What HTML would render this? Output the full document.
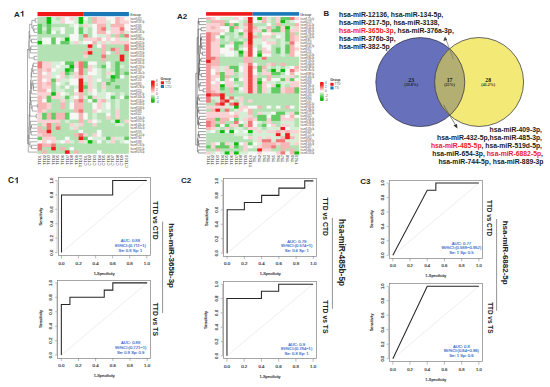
<!DOCTYPE html>
<html><head><meta charset="utf-8"><style>
html,body{margin:0;padding:0;background:#fff;}
svg{display:block;}
</style></head><body>
<svg width="550" height="387" viewBox="0 0 550 387" shape-rendering="auto">
<rect width="550" height="387" fill="#fff"/>
<rect x="37.5" y="12.0" width="45.70" height="4.2" fill="#f01818"/>
<rect x="83.20" y="12.0" width="45.70" height="4.2" fill="#1878b8"/>
<rect x="37.50" y="17.00" width="5.17" height="4.02" fill="#b4e2b4"/>
<rect x="42.07" y="17.00" width="5.17" height="4.02" fill="#b4e2b4"/>
<rect x="46.64" y="17.00" width="5.17" height="4.02" fill="#0fbc0f"/>
<rect x="51.21" y="17.00" width="5.17" height="4.02" fill="#d6eed6"/>
<rect x="55.78" y="17.00" width="5.17" height="4.02" fill="#b4e2b4"/>
<rect x="60.35" y="17.00" width="5.17" height="4.02" fill="#fad2d4"/>
<rect x="64.92" y="17.00" width="5.17" height="4.02" fill="#f6f8f6"/>
<rect x="69.49" y="17.00" width="5.17" height="4.02" fill="#fad2d4"/>
<rect x="74.06" y="17.00" width="5.17" height="4.02" fill="#d6eed6"/>
<rect x="78.63" y="17.00" width="5.17" height="4.02" fill="#0fbc0f"/>
<rect x="83.20" y="17.00" width="5.17" height="4.02" fill="#f6f8f6"/>
<rect x="87.77" y="17.00" width="5.17" height="4.02" fill="#b4e2b4"/>
<rect x="92.34" y="17.00" width="5.17" height="4.02" fill="#f6b6b6"/>
<rect x="96.91" y="17.00" width="5.17" height="4.02" fill="#fad2d4"/>
<rect x="101.48" y="17.00" width="5.17" height="4.02" fill="#fad2d4"/>
<rect x="106.05" y="17.00" width="5.17" height="4.02" fill="#f6f8f6"/>
<rect x="110.62" y="17.00" width="5.17" height="4.02" fill="#f6f8f6"/>
<rect x="115.19" y="17.00" width="5.17" height="4.02" fill="#f6b6b6"/>
<rect x="119.76" y="17.00" width="5.17" height="4.02" fill="#fad2d4"/>
<rect x="124.33" y="17.00" width="4.57" height="4.02" fill="#f6f8f6"/>
<rect x="37.50" y="20.42" width="5.17" height="4.02" fill="#b4e2b4"/>
<rect x="42.07" y="20.42" width="5.17" height="4.02" fill="#b4e2b4"/>
<rect x="46.64" y="20.42" width="5.17" height="4.02" fill="#0fbc0f"/>
<rect x="51.21" y="20.42" width="5.17" height="4.02" fill="#d6eed6"/>
<rect x="55.78" y="20.42" width="5.17" height="4.02" fill="#d6eed6"/>
<rect x="60.35" y="20.42" width="5.17" height="4.02" fill="#fad2d4"/>
<rect x="64.92" y="20.42" width="5.17" height="4.02" fill="#f6f8f6"/>
<rect x="69.49" y="20.42" width="5.17" height="4.02" fill="#f6f8f6"/>
<rect x="74.06" y="20.42" width="5.17" height="4.02" fill="#d6eed6"/>
<rect x="78.63" y="20.42" width="5.17" height="4.02" fill="#0fbc0f"/>
<rect x="83.20" y="20.42" width="5.17" height="4.02" fill="#d6eed6"/>
<rect x="87.77" y="20.42" width="5.17" height="4.02" fill="#b4e2b4"/>
<rect x="92.34" y="20.42" width="5.17" height="4.02" fill="#f6b6b6"/>
<rect x="96.91" y="20.42" width="5.17" height="4.02" fill="#fad2d4"/>
<rect x="101.48" y="20.42" width="5.17" height="4.02" fill="#fad2d4"/>
<rect x="106.05" y="20.42" width="5.17" height="4.02" fill="#d6eed6"/>
<rect x="110.62" y="20.42" width="5.17" height="4.02" fill="#f6f8f6"/>
<rect x="115.19" y="20.42" width="5.17" height="4.02" fill="#f6b6b6"/>
<rect x="119.76" y="20.42" width="5.17" height="4.02" fill="#fad2d4"/>
<rect x="124.33" y="20.42" width="4.57" height="4.02" fill="#fad2d4"/>
<rect x="37.50" y="23.84" width="5.17" height="4.02" fill="#64cc64"/>
<rect x="42.07" y="23.84" width="5.17" height="4.02" fill="#b4e2b4"/>
<rect x="46.64" y="23.84" width="5.17" height="4.02" fill="#64cc64"/>
<rect x="51.21" y="23.84" width="5.17" height="4.02" fill="#b4e2b4"/>
<rect x="55.78" y="23.84" width="5.17" height="4.02" fill="#b4e2b4"/>
<rect x="60.35" y="23.84" width="5.17" height="4.02" fill="#b4e2b4"/>
<rect x="64.92" y="23.84" width="5.17" height="4.02" fill="#b4e2b4"/>
<rect x="69.49" y="23.84" width="5.17" height="4.02" fill="#d6eed6"/>
<rect x="74.06" y="23.84" width="5.17" height="4.02" fill="#f6f8f6"/>
<rect x="78.63" y="23.84" width="5.17" height="4.02" fill="#b4e2b4"/>
<rect x="83.20" y="23.84" width="5.17" height="4.02" fill="#fad2d4"/>
<rect x="87.77" y="23.84" width="5.17" height="4.02" fill="#d6eed6"/>
<rect x="92.34" y="23.84" width="5.17" height="4.02" fill="#f6f8f6"/>
<rect x="96.91" y="23.84" width="5.17" height="4.02" fill="#f6b6b6"/>
<rect x="101.48" y="23.84" width="5.17" height="4.02" fill="#f6b6b6"/>
<rect x="106.05" y="23.84" width="5.17" height="4.02" fill="#d6eed6"/>
<rect x="110.62" y="23.84" width="5.17" height="4.02" fill="#f6b6b6"/>
<rect x="115.19" y="23.84" width="5.17" height="4.02" fill="#f6b6b6"/>
<rect x="119.76" y="23.84" width="5.17" height="4.02" fill="#f6b6b6"/>
<rect x="124.33" y="23.84" width="4.57" height="4.02" fill="#f6f8f6"/>
<rect x="37.50" y="27.26" width="5.17" height="4.02" fill="#64cc64"/>
<rect x="42.07" y="27.26" width="5.17" height="4.02" fill="#d6eed6"/>
<rect x="46.64" y="27.26" width="5.17" height="4.02" fill="#64cc64"/>
<rect x="51.21" y="27.26" width="5.17" height="4.02" fill="#d6eed6"/>
<rect x="55.78" y="27.26" width="5.17" height="4.02" fill="#d6eed6"/>
<rect x="60.35" y="27.26" width="5.17" height="4.02" fill="#f6f8f6"/>
<rect x="64.92" y="27.26" width="5.17" height="4.02" fill="#b4e2b4"/>
<rect x="69.49" y="27.26" width="5.17" height="4.02" fill="#b4e2b4"/>
<rect x="74.06" y="27.26" width="5.17" height="4.02" fill="#f6f8f6"/>
<rect x="78.63" y="27.26" width="5.17" height="4.02" fill="#64cc64"/>
<rect x="83.20" y="27.26" width="5.17" height="4.02" fill="#d6eed6"/>
<rect x="87.77" y="27.26" width="5.17" height="4.02" fill="#b4e2b4"/>
<rect x="92.34" y="27.26" width="5.17" height="4.02" fill="#f6f8f6"/>
<rect x="96.91" y="27.26" width="5.17" height="4.02" fill="#f6b6b6"/>
<rect x="101.48" y="27.26" width="5.17" height="4.02" fill="#f07878"/>
<rect x="106.05" y="27.26" width="5.17" height="4.02" fill="#d6eed6"/>
<rect x="110.62" y="27.26" width="5.17" height="4.02" fill="#fad2d4"/>
<rect x="115.19" y="27.26" width="5.17" height="4.02" fill="#fad2d4"/>
<rect x="119.76" y="27.26" width="5.17" height="4.02" fill="#f07878"/>
<rect x="124.33" y="27.26" width="4.57" height="4.02" fill="#f6f8f6"/>
<rect x="37.50" y="30.68" width="5.17" height="4.02" fill="#64cc64"/>
<rect x="42.07" y="30.68" width="5.17" height="4.02" fill="#b4e2b4"/>
<rect x="46.64" y="30.68" width="5.17" height="4.02" fill="#64cc64"/>
<rect x="51.21" y="30.68" width="5.17" height="4.02" fill="#f6f8f6"/>
<rect x="55.78" y="30.68" width="5.17" height="4.02" fill="#b4e2b4"/>
<rect x="60.35" y="30.68" width="5.17" height="4.02" fill="#f6f8f6"/>
<rect x="64.92" y="30.68" width="5.17" height="4.02" fill="#b4e2b4"/>
<rect x="69.49" y="30.68" width="5.17" height="4.02" fill="#b4e2b4"/>
<rect x="74.06" y="30.68" width="5.17" height="4.02" fill="#f6f8f6"/>
<rect x="78.63" y="30.68" width="5.17" height="4.02" fill="#64cc64"/>
<rect x="83.20" y="30.68" width="5.17" height="4.02" fill="#d6eed6"/>
<rect x="87.77" y="30.68" width="5.17" height="4.02" fill="#b4e2b4"/>
<rect x="92.34" y="30.68" width="5.17" height="4.02" fill="#f6f8f6"/>
<rect x="96.91" y="30.68" width="5.17" height="4.02" fill="#f6b6b6"/>
<rect x="101.48" y="30.68" width="5.17" height="4.02" fill="#f6b6b6"/>
<rect x="106.05" y="30.68" width="5.17" height="4.02" fill="#f6f8f6"/>
<rect x="110.62" y="30.68" width="5.17" height="4.02" fill="#fad2d4"/>
<rect x="115.19" y="30.68" width="5.17" height="4.02" fill="#fad2d4"/>
<rect x="119.76" y="30.68" width="5.17" height="4.02" fill="#f6b6b6"/>
<rect x="124.33" y="30.68" width="4.57" height="4.02" fill="#d6eed6"/>
<rect x="37.50" y="34.10" width="5.17" height="4.02" fill="#b4e2b4"/>
<rect x="42.07" y="34.10" width="5.17" height="4.02" fill="#b4e2b4"/>
<rect x="46.64" y="34.10" width="5.17" height="4.02" fill="#b4e2b4"/>
<rect x="51.21" y="34.10" width="5.17" height="4.02" fill="#b4e2b4"/>
<rect x="55.78" y="34.10" width="5.17" height="4.02" fill="#b4e2b4"/>
<rect x="60.35" y="34.10" width="5.17" height="4.02" fill="#b4e2b4"/>
<rect x="64.92" y="34.10" width="5.17" height="4.02" fill="#b4e2b4"/>
<rect x="69.49" y="34.10" width="5.17" height="4.02" fill="#f6f8f6"/>
<rect x="74.06" y="34.10" width="5.17" height="4.02" fill="#f6f8f6"/>
<rect x="78.63" y="34.10" width="5.17" height="4.02" fill="#b4e2b4"/>
<rect x="83.20" y="34.10" width="5.17" height="4.02" fill="#f07878"/>
<rect x="87.77" y="34.10" width="5.17" height="4.02" fill="#b4e2b4"/>
<rect x="92.34" y="34.10" width="5.17" height="4.02" fill="#f6f8f6"/>
<rect x="96.91" y="34.10" width="5.17" height="4.02" fill="#d6eed6"/>
<rect x="101.48" y="34.10" width="5.17" height="4.02" fill="#d6eed6"/>
<rect x="106.05" y="34.10" width="5.17" height="4.02" fill="#fad2d4"/>
<rect x="110.62" y="34.10" width="5.17" height="4.02" fill="#b4e2b4"/>
<rect x="115.19" y="34.10" width="5.17" height="4.02" fill="#f6b6b6"/>
<rect x="119.76" y="34.10" width="5.17" height="4.02" fill="#96d896"/>
<rect x="124.33" y="34.10" width="4.57" height="4.02" fill="#f07878"/>
<rect x="37.50" y="37.52" width="5.17" height="4.02" fill="#b4e2b4"/>
<rect x="42.07" y="37.52" width="5.17" height="4.02" fill="#f6f8f6"/>
<rect x="46.64" y="37.52" width="5.17" height="4.02" fill="#f6f8f6"/>
<rect x="51.21" y="37.52" width="5.17" height="4.02" fill="#64cc64"/>
<rect x="55.78" y="37.52" width="5.17" height="4.02" fill="#f6f8f6"/>
<rect x="60.35" y="37.52" width="5.17" height="4.02" fill="#d6eed6"/>
<rect x="64.92" y="37.52" width="5.17" height="4.02" fill="#0fbc0f"/>
<rect x="69.49" y="37.52" width="5.17" height="4.02" fill="#f6f8f6"/>
<rect x="74.06" y="37.52" width="5.17" height="4.02" fill="#f6f8f6"/>
<rect x="78.63" y="37.52" width="5.17" height="4.02" fill="#b4e2b4"/>
<rect x="83.20" y="37.52" width="5.17" height="4.02" fill="#fad2d4"/>
<rect x="87.77" y="37.52" width="5.17" height="4.02" fill="#fad2d4"/>
<rect x="92.34" y="37.52" width="5.17" height="4.02" fill="#fad2d4"/>
<rect x="96.91" y="37.52" width="5.17" height="4.02" fill="#f6b6b6"/>
<rect x="101.48" y="37.52" width="5.17" height="4.02" fill="#f6f8f6"/>
<rect x="106.05" y="37.52" width="5.17" height="4.02" fill="#fad2d4"/>
<rect x="110.62" y="37.52" width="5.17" height="4.02" fill="#f6f8f6"/>
<rect x="115.19" y="37.52" width="5.17" height="4.02" fill="#fad2d4"/>
<rect x="119.76" y="37.52" width="5.17" height="4.02" fill="#d6eed6"/>
<rect x="124.33" y="37.52" width="4.57" height="4.02" fill="#d6eed6"/>
<rect x="37.50" y="40.94" width="5.17" height="4.02" fill="#0fbc0f"/>
<rect x="42.07" y="40.94" width="5.17" height="4.02" fill="#f6f8f6"/>
<rect x="46.64" y="40.94" width="5.17" height="4.02" fill="#f6f8f6"/>
<rect x="51.21" y="40.94" width="5.17" height="4.02" fill="#64cc64"/>
<rect x="55.78" y="40.94" width="5.17" height="4.02" fill="#f6f8f6"/>
<rect x="60.35" y="40.94" width="5.17" height="4.02" fill="#64cc64"/>
<rect x="64.92" y="40.94" width="5.17" height="4.02" fill="#64cc64"/>
<rect x="69.49" y="40.94" width="5.17" height="4.02" fill="#d6eed6"/>
<rect x="74.06" y="40.94" width="5.17" height="4.02" fill="#fad2d4"/>
<rect x="78.63" y="40.94" width="5.17" height="4.02" fill="#d6eed6"/>
<rect x="83.20" y="40.94" width="5.17" height="4.02" fill="#f6f8f6"/>
<rect x="87.77" y="40.94" width="5.17" height="4.02" fill="#f6f8f6"/>
<rect x="92.34" y="40.94" width="5.17" height="4.02" fill="#f6b6b6"/>
<rect x="96.91" y="40.94" width="5.17" height="4.02" fill="#d6eed6"/>
<rect x="101.48" y="40.94" width="5.17" height="4.02" fill="#fad2d4"/>
<rect x="106.05" y="40.94" width="5.17" height="4.02" fill="#d6eed6"/>
<rect x="110.62" y="40.94" width="5.17" height="4.02" fill="#fad2d4"/>
<rect x="115.19" y="40.94" width="5.17" height="4.02" fill="#fad2d4"/>
<rect x="119.76" y="40.94" width="5.17" height="4.02" fill="#fad2d4"/>
<rect x="124.33" y="40.94" width="4.57" height="4.02" fill="#fad2d4"/>
<rect x="37.50" y="44.36" width="5.17" height="4.02" fill="#b4e2b4"/>
<rect x="42.07" y="44.36" width="5.17" height="4.02" fill="#b4e2b4"/>
<rect x="46.64" y="44.36" width="5.17" height="4.02" fill="#b4e2b4"/>
<rect x="51.21" y="44.36" width="5.17" height="4.02" fill="#b4e2b4"/>
<rect x="55.78" y="44.36" width="5.17" height="4.02" fill="#b4e2b4"/>
<rect x="60.35" y="44.36" width="5.17" height="4.02" fill="#b4e2b4"/>
<rect x="64.92" y="44.36" width="5.17" height="4.02" fill="#b4e2b4"/>
<rect x="69.49" y="44.36" width="5.17" height="4.02" fill="#b4e2b4"/>
<rect x="74.06" y="44.36" width="5.17" height="4.02" fill="#b4e2b4"/>
<rect x="78.63" y="44.36" width="5.17" height="4.02" fill="#b4e2b4"/>
<rect x="83.20" y="44.36" width="5.17" height="4.02" fill="#b4e2b4"/>
<rect x="87.77" y="44.36" width="5.17" height="4.02" fill="#ec1e1e"/>
<rect x="92.34" y="44.36" width="5.17" height="4.02" fill="#b4e2b4"/>
<rect x="96.91" y="44.36" width="5.17" height="4.02" fill="#f6f8f6"/>
<rect x="101.48" y="44.36" width="5.17" height="4.02" fill="#f6b6b6"/>
<rect x="106.05" y="44.36" width="5.17" height="4.02" fill="#b4e2b4"/>
<rect x="110.62" y="44.36" width="5.17" height="4.02" fill="#b4e2b4"/>
<rect x="115.19" y="44.36" width="5.17" height="4.02" fill="#b4e2b4"/>
<rect x="119.76" y="44.36" width="5.17" height="4.02" fill="#b4e2b4"/>
<rect x="124.33" y="44.36" width="4.57" height="4.02" fill="#f07878"/>
<rect x="37.50" y="47.78" width="5.17" height="4.02" fill="#b4e2b4"/>
<rect x="42.07" y="47.78" width="5.17" height="4.02" fill="#b4e2b4"/>
<rect x="46.64" y="47.78" width="5.17" height="4.02" fill="#b4e2b4"/>
<rect x="51.21" y="47.78" width="5.17" height="4.02" fill="#b4e2b4"/>
<rect x="55.78" y="47.78" width="5.17" height="4.02" fill="#b4e2b4"/>
<rect x="60.35" y="47.78" width="5.17" height="4.02" fill="#b4e2b4"/>
<rect x="64.92" y="47.78" width="5.17" height="4.02" fill="#b4e2b4"/>
<rect x="69.49" y="47.78" width="5.17" height="4.02" fill="#b4e2b4"/>
<rect x="74.06" y="47.78" width="5.17" height="4.02" fill="#b4e2b4"/>
<rect x="78.63" y="47.78" width="5.17" height="4.02" fill="#b4e2b4"/>
<rect x="83.20" y="47.78" width="5.17" height="4.02" fill="#b4e2b4"/>
<rect x="87.77" y="47.78" width="5.17" height="4.02" fill="#f6b6b6"/>
<rect x="92.34" y="47.78" width="5.17" height="4.02" fill="#b4e2b4"/>
<rect x="96.91" y="47.78" width="5.17" height="4.02" fill="#b4e2b4"/>
<rect x="101.48" y="47.78" width="5.17" height="4.02" fill="#f6b6b6"/>
<rect x="106.05" y="47.78" width="5.17" height="4.02" fill="#b4e2b4"/>
<rect x="110.62" y="47.78" width="5.17" height="4.02" fill="#f07878"/>
<rect x="115.19" y="47.78" width="5.17" height="4.02" fill="#f6b6b6"/>
<rect x="119.76" y="47.78" width="5.17" height="4.02" fill="#b4e2b4"/>
<rect x="124.33" y="47.78" width="4.57" height="4.02" fill="#f07878"/>
<rect x="37.50" y="51.20" width="5.17" height="4.02" fill="#b4e2b4"/>
<rect x="42.07" y="51.20" width="5.17" height="4.02" fill="#b4e2b4"/>
<rect x="46.64" y="51.20" width="5.17" height="4.02" fill="#b4e2b4"/>
<rect x="51.21" y="51.20" width="5.17" height="4.02" fill="#b4e2b4"/>
<rect x="55.78" y="51.20" width="5.17" height="4.02" fill="#b4e2b4"/>
<rect x="60.35" y="51.20" width="5.17" height="4.02" fill="#b4e2b4"/>
<rect x="64.92" y="51.20" width="5.17" height="4.02" fill="#b4e2b4"/>
<rect x="69.49" y="51.20" width="5.17" height="4.02" fill="#b4e2b4"/>
<rect x="74.06" y="51.20" width="5.17" height="4.02" fill="#b4e2b4"/>
<rect x="78.63" y="51.20" width="5.17" height="4.02" fill="#b4e2b4"/>
<rect x="83.20" y="51.20" width="5.17" height="4.02" fill="#f6b6b6"/>
<rect x="87.77" y="51.20" width="5.17" height="4.02" fill="#ec1e1e"/>
<rect x="92.34" y="51.20" width="5.17" height="4.02" fill="#b4e2b4"/>
<rect x="96.91" y="51.20" width="5.17" height="4.02" fill="#b4e2b4"/>
<rect x="101.48" y="51.20" width="5.17" height="4.02" fill="#f6b6b6"/>
<rect x="106.05" y="51.20" width="5.17" height="4.02" fill="#f6f8f6"/>
<rect x="110.62" y="51.20" width="5.17" height="4.02" fill="#b4e2b4"/>
<rect x="115.19" y="51.20" width="5.17" height="4.02" fill="#f6b6b6"/>
<rect x="119.76" y="51.20" width="5.17" height="4.02" fill="#b4e2b4"/>
<rect x="124.33" y="51.20" width="4.57" height="4.02" fill="#b4e2b4"/>
<rect x="37.50" y="54.62" width="5.17" height="4.02" fill="#b4e2b4"/>
<rect x="42.07" y="54.62" width="5.17" height="4.02" fill="#b4e2b4"/>
<rect x="46.64" y="54.62" width="5.17" height="4.02" fill="#b4e2b4"/>
<rect x="51.21" y="54.62" width="5.17" height="4.02" fill="#b4e2b4"/>
<rect x="55.78" y="54.62" width="5.17" height="4.02" fill="#b4e2b4"/>
<rect x="60.35" y="54.62" width="5.17" height="4.02" fill="#b4e2b4"/>
<rect x="64.92" y="54.62" width="5.17" height="4.02" fill="#b4e2b4"/>
<rect x="69.49" y="54.62" width="5.17" height="4.02" fill="#b4e2b4"/>
<rect x="74.06" y="54.62" width="5.17" height="4.02" fill="#b4e2b4"/>
<rect x="78.63" y="54.62" width="5.17" height="4.02" fill="#b4e2b4"/>
<rect x="83.20" y="54.62" width="5.17" height="4.02" fill="#fad2d4"/>
<rect x="87.77" y="54.62" width="5.17" height="4.02" fill="#b4e2b4"/>
<rect x="92.34" y="54.62" width="5.17" height="4.02" fill="#b4e2b4"/>
<rect x="96.91" y="54.62" width="5.17" height="4.02" fill="#b4e2b4"/>
<rect x="101.48" y="54.62" width="5.17" height="4.02" fill="#f07878"/>
<rect x="106.05" y="54.62" width="5.17" height="4.02" fill="#b4e2b4"/>
<rect x="110.62" y="54.62" width="5.17" height="4.02" fill="#b4e2b4"/>
<rect x="115.19" y="54.62" width="5.17" height="4.02" fill="#b4e2b4"/>
<rect x="119.76" y="54.62" width="5.17" height="4.02" fill="#ec1e1e"/>
<rect x="124.33" y="54.62" width="4.57" height="4.02" fill="#b4e2b4"/>
<rect x="37.50" y="58.04" width="5.17" height="4.02" fill="#b4e2b4"/>
<rect x="42.07" y="58.04" width="5.17" height="4.02" fill="#b4e2b4"/>
<rect x="46.64" y="58.04" width="5.17" height="4.02" fill="#b4e2b4"/>
<rect x="51.21" y="58.04" width="5.17" height="4.02" fill="#b4e2b4"/>
<rect x="55.78" y="58.04" width="5.17" height="4.02" fill="#b4e2b4"/>
<rect x="60.35" y="58.04" width="5.17" height="4.02" fill="#b4e2b4"/>
<rect x="64.92" y="58.04" width="5.17" height="4.02" fill="#b4e2b4"/>
<rect x="69.49" y="58.04" width="5.17" height="4.02" fill="#b4e2b4"/>
<rect x="74.06" y="58.04" width="5.17" height="4.02" fill="#b4e2b4"/>
<rect x="78.63" y="58.04" width="5.17" height="4.02" fill="#b4e2b4"/>
<rect x="83.20" y="58.04" width="5.17" height="4.02" fill="#b4e2b4"/>
<rect x="87.77" y="58.04" width="5.17" height="4.02" fill="#b4e2b4"/>
<rect x="92.34" y="58.04" width="5.17" height="4.02" fill="#b4e2b4"/>
<rect x="96.91" y="58.04" width="5.17" height="4.02" fill="#b4e2b4"/>
<rect x="101.48" y="58.04" width="5.17" height="4.02" fill="#f6b6b6"/>
<rect x="106.05" y="58.04" width="5.17" height="4.02" fill="#b4e2b4"/>
<rect x="110.62" y="58.04" width="5.17" height="4.02" fill="#b4e2b4"/>
<rect x="115.19" y="58.04" width="5.17" height="4.02" fill="#b4e2b4"/>
<rect x="119.76" y="58.04" width="5.17" height="4.02" fill="#ec1e1e"/>
<rect x="124.33" y="58.04" width="4.57" height="4.02" fill="#b4e2b4"/>
<rect x="37.50" y="61.46" width="5.17" height="4.02" fill="#f07878"/>
<rect x="42.07" y="61.46" width="5.17" height="4.02" fill="#fad2d4"/>
<rect x="46.64" y="61.46" width="5.17" height="4.02" fill="#fad2d4"/>
<rect x="51.21" y="61.46" width="5.17" height="4.02" fill="#d6eed6"/>
<rect x="55.78" y="61.46" width="5.17" height="4.02" fill="#d6eed6"/>
<rect x="60.35" y="61.46" width="5.17" height="4.02" fill="#f6f8f6"/>
<rect x="64.92" y="61.46" width="5.17" height="4.02" fill="#64cc64"/>
<rect x="69.49" y="61.46" width="5.17" height="4.02" fill="#64cc64"/>
<rect x="74.06" y="61.46" width="5.17" height="4.02" fill="#fad2d4"/>
<rect x="78.63" y="61.46" width="5.17" height="4.02" fill="#f07878"/>
<rect x="83.20" y="61.46" width="5.17" height="4.02" fill="#64cc64"/>
<rect x="87.77" y="61.46" width="5.17" height="4.02" fill="#f6f8f6"/>
<rect x="92.34" y="61.46" width="5.17" height="4.02" fill="#f6f8f6"/>
<rect x="96.91" y="61.46" width="5.17" height="4.02" fill="#b4e2b4"/>
<rect x="101.48" y="61.46" width="5.17" height="4.02" fill="#b4e2b4"/>
<rect x="106.05" y="61.46" width="5.17" height="4.02" fill="#f6f8f6"/>
<rect x="110.62" y="61.46" width="5.17" height="4.02" fill="#b4e2b4"/>
<rect x="115.19" y="61.46" width="5.17" height="4.02" fill="#64cc64"/>
<rect x="119.76" y="61.46" width="5.17" height="4.02" fill="#b4e2b4"/>
<rect x="124.33" y="61.46" width="4.57" height="4.02" fill="#b4e2b4"/>
<rect x="37.50" y="64.88" width="5.17" height="4.02" fill="#f07878"/>
<rect x="42.07" y="64.88" width="5.17" height="4.02" fill="#fad2d4"/>
<rect x="46.64" y="64.88" width="5.17" height="4.02" fill="#fad2d4"/>
<rect x="51.21" y="64.88" width="5.17" height="4.02" fill="#d6eed6"/>
<rect x="55.78" y="64.88" width="5.17" height="4.02" fill="#f6f8f6"/>
<rect x="60.35" y="64.88" width="5.17" height="4.02" fill="#d6eed6"/>
<rect x="64.92" y="64.88" width="5.17" height="4.02" fill="#d6eed6"/>
<rect x="69.49" y="64.88" width="5.17" height="4.02" fill="#0fbc0f"/>
<rect x="74.06" y="64.88" width="5.17" height="4.02" fill="#fad2d4"/>
<rect x="78.63" y="64.88" width="5.17" height="4.02" fill="#f07878"/>
<rect x="83.20" y="64.88" width="5.17" height="4.02" fill="#64cc64"/>
<rect x="87.77" y="64.88" width="5.17" height="4.02" fill="#fad2d4"/>
<rect x="92.34" y="64.88" width="5.17" height="4.02" fill="#d6eed6"/>
<rect x="96.91" y="64.88" width="5.17" height="4.02" fill="#b4e2b4"/>
<rect x="101.48" y="64.88" width="5.17" height="4.02" fill="#64cc64"/>
<rect x="106.05" y="64.88" width="5.17" height="4.02" fill="#f6f8f6"/>
<rect x="110.62" y="64.88" width="5.17" height="4.02" fill="#b4e2b4"/>
<rect x="115.19" y="64.88" width="5.17" height="4.02" fill="#64cc64"/>
<rect x="119.76" y="64.88" width="5.17" height="4.02" fill="#d6eed6"/>
<rect x="124.33" y="64.88" width="4.57" height="4.02" fill="#b4e2b4"/>
<rect x="37.50" y="68.30" width="5.17" height="4.02" fill="#f6b6b6"/>
<rect x="42.07" y="68.30" width="5.17" height="4.02" fill="#fad2d4"/>
<rect x="46.64" y="68.30" width="5.17" height="4.02" fill="#f6b6b6"/>
<rect x="51.21" y="68.30" width="5.17" height="4.02" fill="#f6f8f6"/>
<rect x="55.78" y="68.30" width="5.17" height="4.02" fill="#d6eed6"/>
<rect x="60.35" y="68.30" width="5.17" height="4.02" fill="#d6eed6"/>
<rect x="64.92" y="68.30" width="5.17" height="4.02" fill="#0fbc0f"/>
<rect x="69.49" y="68.30" width="5.17" height="4.02" fill="#64cc64"/>
<rect x="74.06" y="68.30" width="5.17" height="4.02" fill="#f6f8f6"/>
<rect x="78.63" y="68.30" width="5.17" height="4.02" fill="#f07878"/>
<rect x="83.20" y="68.30" width="5.17" height="4.02" fill="#b4e2b4"/>
<rect x="87.77" y="68.30" width="5.17" height="4.02" fill="#fad2d4"/>
<rect x="92.34" y="68.30" width="5.17" height="4.02" fill="#f6f8f6"/>
<rect x="96.91" y="68.30" width="5.17" height="4.02" fill="#d6eed6"/>
<rect x="101.48" y="68.30" width="5.17" height="4.02" fill="#b4e2b4"/>
<rect x="106.05" y="68.30" width="5.17" height="4.02" fill="#d6eed6"/>
<rect x="110.62" y="68.30" width="5.17" height="4.02" fill="#b4e2b4"/>
<rect x="115.19" y="68.30" width="5.17" height="4.02" fill="#64cc64"/>
<rect x="119.76" y="68.30" width="5.17" height="4.02" fill="#b4e2b4"/>
<rect x="124.33" y="68.30" width="4.57" height="4.02" fill="#b4e2b4"/>
<rect x="37.50" y="71.72" width="5.17" height="4.02" fill="#f6b6b6"/>
<rect x="42.07" y="71.72" width="5.17" height="4.02" fill="#f6f8f6"/>
<rect x="46.64" y="71.72" width="5.17" height="4.02" fill="#fad2d4"/>
<rect x="51.21" y="71.72" width="5.17" height="4.02" fill="#d6eed6"/>
<rect x="55.78" y="71.72" width="5.17" height="4.02" fill="#d6eed6"/>
<rect x="60.35" y="71.72" width="5.17" height="4.02" fill="#fad2d4"/>
<rect x="64.92" y="71.72" width="5.17" height="4.02" fill="#64cc64"/>
<rect x="69.49" y="71.72" width="5.17" height="4.02" fill="#b4e2b4"/>
<rect x="74.06" y="71.72" width="5.17" height="4.02" fill="#fad2d4"/>
<rect x="78.63" y="71.72" width="5.17" height="4.02" fill="#f07878"/>
<rect x="83.20" y="71.72" width="5.17" height="4.02" fill="#b4e2b4"/>
<rect x="87.77" y="71.72" width="5.17" height="4.02" fill="#f6f8f6"/>
<rect x="92.34" y="71.72" width="5.17" height="4.02" fill="#f6f8f6"/>
<rect x="96.91" y="71.72" width="5.17" height="4.02" fill="#d6eed6"/>
<rect x="101.48" y="71.72" width="5.17" height="4.02" fill="#b4e2b4"/>
<rect x="106.05" y="71.72" width="5.17" height="4.02" fill="#fad2d4"/>
<rect x="110.62" y="71.72" width="5.17" height="4.02" fill="#d6eed6"/>
<rect x="115.19" y="71.72" width="5.17" height="4.02" fill="#64cc64"/>
<rect x="119.76" y="71.72" width="5.17" height="4.02" fill="#b4e2b4"/>
<rect x="124.33" y="71.72" width="4.57" height="4.02" fill="#64cc64"/>
<rect x="37.50" y="75.14" width="5.17" height="4.02" fill="#f6b6b6"/>
<rect x="42.07" y="75.14" width="5.17" height="4.02" fill="#fad2d4"/>
<rect x="46.64" y="75.14" width="5.17" height="4.02" fill="#fad2d4"/>
<rect x="51.21" y="75.14" width="5.17" height="4.02" fill="#d6eed6"/>
<rect x="55.78" y="75.14" width="5.17" height="4.02" fill="#f6f8f6"/>
<rect x="60.35" y="75.14" width="5.17" height="4.02" fill="#fad2d4"/>
<rect x="64.92" y="75.14" width="5.17" height="4.02" fill="#b4e2b4"/>
<rect x="69.49" y="75.14" width="5.17" height="4.02" fill="#d6eed6"/>
<rect x="74.06" y="75.14" width="5.17" height="4.02" fill="#fad2d4"/>
<rect x="78.63" y="75.14" width="5.17" height="4.02" fill="#f6b6b6"/>
<rect x="83.20" y="75.14" width="5.17" height="4.02" fill="#d6eed6"/>
<rect x="87.77" y="75.14" width="5.17" height="4.02" fill="#fad2d4"/>
<rect x="92.34" y="75.14" width="5.17" height="4.02" fill="#d6eed6"/>
<rect x="96.91" y="75.14" width="5.17" height="4.02" fill="#d6eed6"/>
<rect x="101.48" y="75.14" width="5.17" height="4.02" fill="#b4e2b4"/>
<rect x="106.05" y="75.14" width="5.17" height="4.02" fill="#d6eed6"/>
<rect x="110.62" y="75.14" width="5.17" height="4.02" fill="#0fbc0f"/>
<rect x="115.19" y="75.14" width="5.17" height="4.02" fill="#64cc64"/>
<rect x="119.76" y="75.14" width="5.17" height="4.02" fill="#f6f8f6"/>
<rect x="124.33" y="75.14" width="4.57" height="4.02" fill="#b4e2b4"/>
<rect x="37.50" y="78.56" width="5.17" height="4.02" fill="#f6b6b6"/>
<rect x="42.07" y="78.56" width="5.17" height="4.02" fill="#f6f8f6"/>
<rect x="46.64" y="78.56" width="5.17" height="4.02" fill="#fad2d4"/>
<rect x="51.21" y="78.56" width="5.17" height="4.02" fill="#64cc64"/>
<rect x="55.78" y="78.56" width="5.17" height="4.02" fill="#fad2d4"/>
<rect x="60.35" y="78.56" width="5.17" height="4.02" fill="#d6eed6"/>
<rect x="64.92" y="78.56" width="5.17" height="4.02" fill="#d6eed6"/>
<rect x="69.49" y="78.56" width="5.17" height="4.02" fill="#f6f8f6"/>
<rect x="74.06" y="78.56" width="5.17" height="4.02" fill="#f6f8f6"/>
<rect x="78.63" y="78.56" width="5.17" height="4.02" fill="#ec1e1e"/>
<rect x="83.20" y="78.56" width="5.17" height="4.02" fill="#d6eed6"/>
<rect x="87.77" y="78.56" width="5.17" height="4.02" fill="#fad2d4"/>
<rect x="92.34" y="78.56" width="5.17" height="4.02" fill="#d6eed6"/>
<rect x="96.91" y="78.56" width="5.17" height="4.02" fill="#f6f8f6"/>
<rect x="101.48" y="78.56" width="5.17" height="4.02" fill="#b4e2b4"/>
<rect x="106.05" y="78.56" width="5.17" height="4.02" fill="#b4e2b4"/>
<rect x="110.62" y="78.56" width="5.17" height="4.02" fill="#64cc64"/>
<rect x="115.19" y="78.56" width="5.17" height="4.02" fill="#b4e2b4"/>
<rect x="119.76" y="78.56" width="5.17" height="4.02" fill="#b4e2b4"/>
<rect x="124.33" y="78.56" width="4.57" height="4.02" fill="#b4e2b4"/>
<rect x="37.50" y="81.98" width="5.17" height="4.02" fill="#f6b6b6"/>
<rect x="42.07" y="81.98" width="5.17" height="4.02" fill="#fad2d4"/>
<rect x="46.64" y="81.98" width="5.17" height="4.02" fill="#f6b6b6"/>
<rect x="51.21" y="81.98" width="5.17" height="4.02" fill="#96d896"/>
<rect x="55.78" y="81.98" width="5.17" height="4.02" fill="#f6f8f6"/>
<rect x="60.35" y="81.98" width="5.17" height="4.02" fill="#d6eed6"/>
<rect x="64.92" y="81.98" width="5.17" height="4.02" fill="#b4e2b4"/>
<rect x="69.49" y="81.98" width="5.17" height="4.02" fill="#f6f8f6"/>
<rect x="74.06" y="81.98" width="5.17" height="4.02" fill="#f6f8f6"/>
<rect x="78.63" y="81.98" width="5.17" height="4.02" fill="#ec1e1e"/>
<rect x="83.20" y="81.98" width="5.17" height="4.02" fill="#b4e2b4"/>
<rect x="87.77" y="81.98" width="5.17" height="4.02" fill="#fad2d4"/>
<rect x="92.34" y="81.98" width="5.17" height="4.02" fill="#d6eed6"/>
<rect x="96.91" y="81.98" width="5.17" height="4.02" fill="#b4e2b4"/>
<rect x="101.48" y="81.98" width="5.17" height="4.02" fill="#fad2d4"/>
<rect x="106.05" y="81.98" width="5.17" height="4.02" fill="#64cc64"/>
<rect x="110.62" y="81.98" width="5.17" height="4.02" fill="#b4e2b4"/>
<rect x="115.19" y="81.98" width="5.17" height="4.02" fill="#b4e2b4"/>
<rect x="119.76" y="81.98" width="5.17" height="4.02" fill="#b4e2b4"/>
<rect x="124.33" y="81.98" width="4.57" height="4.02" fill="#b4e2b4"/>
<rect x="37.50" y="85.40" width="5.17" height="4.02" fill="#f6b6b6"/>
<rect x="42.07" y="85.40" width="5.17" height="4.02" fill="#fad2d4"/>
<rect x="46.64" y="85.40" width="5.17" height="4.02" fill="#fad2d4"/>
<rect x="51.21" y="85.40" width="5.17" height="4.02" fill="#96d896"/>
<rect x="55.78" y="85.40" width="5.17" height="4.02" fill="#d6eed6"/>
<rect x="60.35" y="85.40" width="5.17" height="4.02" fill="#b4e2b4"/>
<rect x="64.92" y="85.40" width="5.17" height="4.02" fill="#f6f8f6"/>
<rect x="69.49" y="85.40" width="5.17" height="4.02" fill="#b4e2b4"/>
<rect x="74.06" y="85.40" width="5.17" height="4.02" fill="#d6eed6"/>
<rect x="78.63" y="85.40" width="5.17" height="4.02" fill="#ec1e1e"/>
<rect x="83.20" y="85.40" width="5.17" height="4.02" fill="#64cc64"/>
<rect x="87.77" y="85.40" width="5.17" height="4.02" fill="#fad2d4"/>
<rect x="92.34" y="85.40" width="5.17" height="4.02" fill="#d6eed6"/>
<rect x="96.91" y="85.40" width="5.17" height="4.02" fill="#b4e2b4"/>
<rect x="101.48" y="85.40" width="5.17" height="4.02" fill="#fad2d4"/>
<rect x="106.05" y="85.40" width="5.17" height="4.02" fill="#b4e2b4"/>
<rect x="110.62" y="85.40" width="5.17" height="4.02" fill="#b4e2b4"/>
<rect x="115.19" y="85.40" width="5.17" height="4.02" fill="#64cc64"/>
<rect x="119.76" y="85.40" width="5.17" height="4.02" fill="#b4e2b4"/>
<rect x="124.33" y="85.40" width="4.57" height="4.02" fill="#b4e2b4"/>
<rect x="37.50" y="88.82" width="5.17" height="4.02" fill="#f6b6b6"/>
<rect x="42.07" y="88.82" width="5.17" height="4.02" fill="#f6b6b6"/>
<rect x="46.64" y="88.82" width="5.17" height="4.02" fill="#f6f8f6"/>
<rect x="51.21" y="88.82" width="5.17" height="4.02" fill="#96d896"/>
<rect x="55.78" y="88.82" width="5.17" height="4.02" fill="#d6eed6"/>
<rect x="60.35" y="88.82" width="5.17" height="4.02" fill="#d6eed6"/>
<rect x="64.92" y="88.82" width="5.17" height="4.02" fill="#b4e2b4"/>
<rect x="69.49" y="88.82" width="5.17" height="4.02" fill="#b4e2b4"/>
<rect x="74.06" y="88.82" width="5.17" height="4.02" fill="#f6f8f6"/>
<rect x="78.63" y="88.82" width="5.17" height="4.02" fill="#ec1e1e"/>
<rect x="83.20" y="88.82" width="5.17" height="4.02" fill="#b4e2b4"/>
<rect x="87.77" y="88.82" width="5.17" height="4.02" fill="#fad2d4"/>
<rect x="92.34" y="88.82" width="5.17" height="4.02" fill="#f6f8f6"/>
<rect x="96.91" y="88.82" width="5.17" height="4.02" fill="#b4e2b4"/>
<rect x="101.48" y="88.82" width="5.17" height="4.02" fill="#d6eed6"/>
<rect x="106.05" y="88.82" width="5.17" height="4.02" fill="#b4e2b4"/>
<rect x="110.62" y="88.82" width="5.17" height="4.02" fill="#b4e2b4"/>
<rect x="115.19" y="88.82" width="5.17" height="4.02" fill="#b4e2b4"/>
<rect x="119.76" y="88.82" width="5.17" height="4.02" fill="#b4e2b4"/>
<rect x="124.33" y="88.82" width="4.57" height="4.02" fill="#b4e2b4"/>
<rect x="37.50" y="92.24" width="5.17" height="4.02" fill="#fad2d4"/>
<rect x="42.07" y="92.24" width="5.17" height="4.02" fill="#fad2d4"/>
<rect x="46.64" y="92.24" width="5.17" height="4.02" fill="#fad2d4"/>
<rect x="51.21" y="92.24" width="5.17" height="4.02" fill="#0fbc0f"/>
<rect x="55.78" y="92.24" width="5.17" height="4.02" fill="#fad2d4"/>
<rect x="60.35" y="92.24" width="5.17" height="4.02" fill="#f6f8f6"/>
<rect x="64.92" y="92.24" width="5.17" height="4.02" fill="#d6eed6"/>
<rect x="69.49" y="92.24" width="5.17" height="4.02" fill="#b4e2b4"/>
<rect x="74.06" y="92.24" width="5.17" height="4.02" fill="#fad2d4"/>
<rect x="78.63" y="92.24" width="5.17" height="4.02" fill="#f6b6b6"/>
<rect x="83.20" y="92.24" width="5.17" height="4.02" fill="#b4e2b4"/>
<rect x="87.77" y="92.24" width="5.17" height="4.02" fill="#d6eed6"/>
<rect x="92.34" y="92.24" width="5.17" height="4.02" fill="#f6f8f6"/>
<rect x="96.91" y="92.24" width="5.17" height="4.02" fill="#d6eed6"/>
<rect x="101.48" y="92.24" width="5.17" height="4.02" fill="#d6eed6"/>
<rect x="106.05" y="92.24" width="5.17" height="4.02" fill="#f6f8f6"/>
<rect x="110.62" y="92.24" width="5.17" height="4.02" fill="#d6eed6"/>
<rect x="115.19" y="92.24" width="5.17" height="4.02" fill="#b4e2b4"/>
<rect x="119.76" y="92.24" width="5.17" height="4.02" fill="#d6eed6"/>
<rect x="124.33" y="92.24" width="4.57" height="4.02" fill="#b4e2b4"/>
<rect x="37.50" y="95.66" width="5.17" height="4.02" fill="#f6b6b6"/>
<rect x="42.07" y="95.66" width="5.17" height="4.02" fill="#fad2d4"/>
<rect x="46.64" y="95.66" width="5.17" height="4.02" fill="#64cc64"/>
<rect x="51.21" y="95.66" width="5.17" height="4.02" fill="#fad2d4"/>
<rect x="55.78" y="95.66" width="5.17" height="4.02" fill="#fad2d4"/>
<rect x="60.35" y="95.66" width="5.17" height="4.02" fill="#d6eed6"/>
<rect x="64.92" y="95.66" width="5.17" height="4.02" fill="#64cc64"/>
<rect x="69.49" y="95.66" width="5.17" height="4.02" fill="#d6eed6"/>
<rect x="74.06" y="95.66" width="5.17" height="4.02" fill="#f6f8f6"/>
<rect x="78.63" y="95.66" width="5.17" height="4.02" fill="#f6b6b6"/>
<rect x="83.20" y="95.66" width="5.17" height="4.02" fill="#d6eed6"/>
<rect x="87.77" y="95.66" width="5.17" height="4.02" fill="#64cc64"/>
<rect x="92.34" y="95.66" width="5.17" height="4.02" fill="#fad2d4"/>
<rect x="96.91" y="95.66" width="5.17" height="4.02" fill="#d6eed6"/>
<rect x="101.48" y="95.66" width="5.17" height="4.02" fill="#d6eed6"/>
<rect x="106.05" y="95.66" width="5.17" height="4.02" fill="#f6f8f6"/>
<rect x="110.62" y="95.66" width="5.17" height="4.02" fill="#64cc64"/>
<rect x="115.19" y="95.66" width="5.17" height="4.02" fill="#b4e2b4"/>
<rect x="119.76" y="95.66" width="5.17" height="4.02" fill="#f6f8f6"/>
<rect x="124.33" y="95.66" width="4.57" height="4.02" fill="#64cc64"/>
<rect x="37.50" y="99.08" width="5.17" height="4.02" fill="#f6b6b6"/>
<rect x="42.07" y="99.08" width="5.17" height="4.02" fill="#f6f8f6"/>
<rect x="46.64" y="99.08" width="5.17" height="4.02" fill="#64cc64"/>
<rect x="51.21" y="99.08" width="5.17" height="4.02" fill="#b4e2b4"/>
<rect x="55.78" y="99.08" width="5.17" height="4.02" fill="#b4e2b4"/>
<rect x="60.35" y="99.08" width="5.17" height="4.02" fill="#fad2d4"/>
<rect x="64.92" y="99.08" width="5.17" height="4.02" fill="#b4e2b4"/>
<rect x="69.49" y="99.08" width="5.17" height="4.02" fill="#d6eed6"/>
<rect x="74.06" y="99.08" width="5.17" height="4.02" fill="#f6b6b6"/>
<rect x="78.63" y="99.08" width="5.17" height="4.02" fill="#f07878"/>
<rect x="83.20" y="99.08" width="5.17" height="4.02" fill="#b4e2b4"/>
<rect x="87.77" y="99.08" width="5.17" height="4.02" fill="#f6f8f6"/>
<rect x="92.34" y="99.08" width="5.17" height="4.02" fill="#64cc64"/>
<rect x="96.91" y="99.08" width="5.17" height="4.02" fill="#fad2d4"/>
<rect x="101.48" y="99.08" width="5.17" height="4.02" fill="#f6b6b6"/>
<rect x="106.05" y="99.08" width="5.17" height="4.02" fill="#d6eed6"/>
<rect x="110.62" y="99.08" width="5.17" height="4.02" fill="#b4e2b4"/>
<rect x="115.19" y="99.08" width="5.17" height="4.02" fill="#d6eed6"/>
<rect x="119.76" y="99.08" width="5.17" height="4.02" fill="#b4e2b4"/>
<rect x="124.33" y="99.08" width="4.57" height="4.02" fill="#b4e2b4"/>
<rect x="37.50" y="102.50" width="5.17" height="4.02" fill="#f6b6b6"/>
<rect x="42.07" y="102.50" width="5.17" height="4.02" fill="#f6b6b6"/>
<rect x="46.64" y="102.50" width="5.17" height="4.02" fill="#fad2d4"/>
<rect x="51.21" y="102.50" width="5.17" height="4.02" fill="#b4e2b4"/>
<rect x="55.78" y="102.50" width="5.17" height="4.02" fill="#b4e2b4"/>
<rect x="60.35" y="102.50" width="5.17" height="4.02" fill="#f6b6b6"/>
<rect x="64.92" y="102.50" width="5.17" height="4.02" fill="#b4e2b4"/>
<rect x="69.49" y="102.50" width="5.17" height="4.02" fill="#f6f8f6"/>
<rect x="74.06" y="102.50" width="5.17" height="4.02" fill="#f6b6b6"/>
<rect x="78.63" y="102.50" width="5.17" height="4.02" fill="#f6b6b6"/>
<rect x="83.20" y="102.50" width="5.17" height="4.02" fill="#b4e2b4"/>
<rect x="87.77" y="102.50" width="5.17" height="4.02" fill="#b4e2b4"/>
<rect x="92.34" y="102.50" width="5.17" height="4.02" fill="#f6f8f6"/>
<rect x="96.91" y="102.50" width="5.17" height="4.02" fill="#fad2d4"/>
<rect x="101.48" y="102.50" width="5.17" height="4.02" fill="#d6eed6"/>
<rect x="106.05" y="102.50" width="5.17" height="4.02" fill="#f6f8f6"/>
<rect x="110.62" y="102.50" width="5.17" height="4.02" fill="#b4e2b4"/>
<rect x="115.19" y="102.50" width="5.17" height="4.02" fill="#d6eed6"/>
<rect x="119.76" y="102.50" width="5.17" height="4.02" fill="#b4e2b4"/>
<rect x="124.33" y="102.50" width="4.57" height="4.02" fill="#b4e2b4"/>
<rect x="37.50" y="105.92" width="5.17" height="4.02" fill="#f6b6b6"/>
<rect x="42.07" y="105.92" width="5.17" height="4.02" fill="#f6b6b6"/>
<rect x="46.64" y="105.92" width="5.17" height="4.02" fill="#fad2d4"/>
<rect x="51.21" y="105.92" width="5.17" height="4.02" fill="#b4e2b4"/>
<rect x="55.78" y="105.92" width="5.17" height="4.02" fill="#b4e2b4"/>
<rect x="60.35" y="105.92" width="5.17" height="4.02" fill="#f6b6b6"/>
<rect x="64.92" y="105.92" width="5.17" height="4.02" fill="#b4e2b4"/>
<rect x="69.49" y="105.92" width="5.17" height="4.02" fill="#f6f8f6"/>
<rect x="74.06" y="105.92" width="5.17" height="4.02" fill="#f6b6b6"/>
<rect x="78.63" y="105.92" width="5.17" height="4.02" fill="#f6b6b6"/>
<rect x="83.20" y="105.92" width="5.17" height="4.02" fill="#b4e2b4"/>
<rect x="87.77" y="105.92" width="5.17" height="4.02" fill="#b4e2b4"/>
<rect x="92.34" y="105.92" width="5.17" height="4.02" fill="#f6f8f6"/>
<rect x="96.91" y="105.92" width="5.17" height="4.02" fill="#fad2d4"/>
<rect x="101.48" y="105.92" width="5.17" height="4.02" fill="#d6eed6"/>
<rect x="106.05" y="105.92" width="5.17" height="4.02" fill="#f6f8f6"/>
<rect x="110.62" y="105.92" width="5.17" height="4.02" fill="#b4e2b4"/>
<rect x="115.19" y="105.92" width="5.17" height="4.02" fill="#d6eed6"/>
<rect x="119.76" y="105.92" width="5.17" height="4.02" fill="#b4e2b4"/>
<rect x="124.33" y="105.92" width="4.57" height="4.02" fill="#b4e2b4"/>
<rect x="37.50" y="109.34" width="5.17" height="4.02" fill="#f6b6b6"/>
<rect x="42.07" y="109.34" width="5.17" height="4.02" fill="#fad2d4"/>
<rect x="46.64" y="109.34" width="5.17" height="4.02" fill="#b4e2b4"/>
<rect x="51.21" y="109.34" width="5.17" height="4.02" fill="#b4e2b4"/>
<rect x="55.78" y="109.34" width="5.17" height="4.02" fill="#b4e2b4"/>
<rect x="60.35" y="109.34" width="5.17" height="4.02" fill="#b4e2b4"/>
<rect x="64.92" y="109.34" width="5.17" height="4.02" fill="#b4e2b4"/>
<rect x="69.49" y="109.34" width="5.17" height="4.02" fill="#b4e2b4"/>
<rect x="74.06" y="109.34" width="5.17" height="4.02" fill="#f6b6b6"/>
<rect x="78.63" y="109.34" width="5.17" height="4.02" fill="#f07878"/>
<rect x="83.20" y="109.34" width="5.17" height="4.02" fill="#b4e2b4"/>
<rect x="87.77" y="109.34" width="5.17" height="4.02" fill="#b4e2b4"/>
<rect x="92.34" y="109.34" width="5.17" height="4.02" fill="#fad2d4"/>
<rect x="96.91" y="109.34" width="5.17" height="4.02" fill="#f6f8f6"/>
<rect x="101.48" y="109.34" width="5.17" height="4.02" fill="#d6eed6"/>
<rect x="106.05" y="109.34" width="5.17" height="4.02" fill="#d6eed6"/>
<rect x="110.62" y="109.34" width="5.17" height="4.02" fill="#b4e2b4"/>
<rect x="115.19" y="109.34" width="5.17" height="4.02" fill="#fad2d4"/>
<rect x="119.76" y="109.34" width="5.17" height="4.02" fill="#b4e2b4"/>
<rect x="124.33" y="109.34" width="4.57" height="4.02" fill="#b4e2b4"/>
<rect x="37.50" y="112.76" width="5.17" height="4.02" fill="#fad2d4"/>
<rect x="42.07" y="112.76" width="5.17" height="4.02" fill="#64cc64"/>
<rect x="46.64" y="112.76" width="5.17" height="4.02" fill="#f6b6b6"/>
<rect x="51.21" y="112.76" width="5.17" height="4.02" fill="#64cc64"/>
<rect x="55.78" y="112.76" width="5.17" height="4.02" fill="#f6b6b6"/>
<rect x="60.35" y="112.76" width="5.17" height="4.02" fill="#f6b6b6"/>
<rect x="64.92" y="112.76" width="5.17" height="4.02" fill="#64cc64"/>
<rect x="69.49" y="112.76" width="5.17" height="4.02" fill="#f6f8f6"/>
<rect x="74.06" y="112.76" width="5.17" height="4.02" fill="#f6f8f6"/>
<rect x="78.63" y="112.76" width="5.17" height="4.02" fill="#f6b6b6"/>
<rect x="83.20" y="112.76" width="5.17" height="4.02" fill="#f6f8f6"/>
<rect x="87.77" y="112.76" width="5.17" height="4.02" fill="#b4e2b4"/>
<rect x="92.34" y="112.76" width="5.17" height="4.02" fill="#d6eed6"/>
<rect x="96.91" y="112.76" width="5.17" height="4.02" fill="#b4e2b4"/>
<rect x="101.48" y="112.76" width="5.17" height="4.02" fill="#b4e2b4"/>
<rect x="106.05" y="112.76" width="5.17" height="4.02" fill="#f6f8f6"/>
<rect x="110.62" y="112.76" width="5.17" height="4.02" fill="#b4e2b4"/>
<rect x="115.19" y="112.76" width="5.17" height="4.02" fill="#fad2d4"/>
<rect x="119.76" y="112.76" width="5.17" height="4.02" fill="#b4e2b4"/>
<rect x="124.33" y="112.76" width="4.57" height="4.02" fill="#b4e2b4"/>
<rect x="37.50" y="116.18" width="5.17" height="4.02" fill="#fad2d4"/>
<rect x="42.07" y="116.18" width="5.17" height="4.02" fill="#64cc64"/>
<rect x="46.64" y="116.18" width="5.17" height="4.02" fill="#f6b6b6"/>
<rect x="51.21" y="116.18" width="5.17" height="4.02" fill="#64cc64"/>
<rect x="55.78" y="116.18" width="5.17" height="4.02" fill="#f6b6b6"/>
<rect x="60.35" y="116.18" width="5.17" height="4.02" fill="#f6b6b6"/>
<rect x="64.92" y="116.18" width="5.17" height="4.02" fill="#64cc64"/>
<rect x="69.49" y="116.18" width="5.17" height="4.02" fill="#f6f8f6"/>
<rect x="74.06" y="116.18" width="5.17" height="4.02" fill="#f6f8f6"/>
<rect x="78.63" y="116.18" width="5.17" height="4.02" fill="#f6b6b6"/>
<rect x="83.20" y="116.18" width="5.17" height="4.02" fill="#f6f8f6"/>
<rect x="87.77" y="116.18" width="5.17" height="4.02" fill="#b4e2b4"/>
<rect x="92.34" y="116.18" width="5.17" height="4.02" fill="#d6eed6"/>
<rect x="96.91" y="116.18" width="5.17" height="4.02" fill="#b4e2b4"/>
<rect x="101.48" y="116.18" width="5.17" height="4.02" fill="#b4e2b4"/>
<rect x="106.05" y="116.18" width="5.17" height="4.02" fill="#fad2d4"/>
<rect x="110.62" y="116.18" width="5.17" height="4.02" fill="#b4e2b4"/>
<rect x="115.19" y="116.18" width="5.17" height="4.02" fill="#fad2d4"/>
<rect x="119.76" y="116.18" width="5.17" height="4.02" fill="#b4e2b4"/>
<rect x="124.33" y="116.18" width="4.57" height="4.02" fill="#b4e2b4"/>
<rect x="37.50" y="119.60" width="5.17" height="4.02" fill="#fad2d4"/>
<rect x="42.07" y="119.60" width="5.17" height="4.02" fill="#fad2d4"/>
<rect x="46.64" y="119.60" width="5.17" height="4.02" fill="#fad2d4"/>
<rect x="51.21" y="119.60" width="5.17" height="4.02" fill="#fad2d4"/>
<rect x="55.78" y="119.60" width="5.17" height="4.02" fill="#fad2d4"/>
<rect x="60.35" y="119.60" width="5.17" height="4.02" fill="#b4e2b4"/>
<rect x="64.92" y="119.60" width="5.17" height="4.02" fill="#d6eed6"/>
<rect x="69.49" y="119.60" width="5.17" height="4.02" fill="#b4e2b4"/>
<rect x="74.06" y="119.60" width="5.17" height="4.02" fill="#b4e2b4"/>
<rect x="78.63" y="119.60" width="5.17" height="4.02" fill="#f6b6b6"/>
<rect x="83.20" y="119.60" width="5.17" height="4.02" fill="#b4e2b4"/>
<rect x="87.77" y="119.60" width="5.17" height="4.02" fill="#fad2d4"/>
<rect x="92.34" y="119.60" width="5.17" height="4.02" fill="#f6f8f6"/>
<rect x="96.91" y="119.60" width="5.17" height="4.02" fill="#d6eed6"/>
<rect x="101.48" y="119.60" width="5.17" height="4.02" fill="#b4e2b4"/>
<rect x="106.05" y="119.60" width="5.17" height="4.02" fill="#b4e2b4"/>
<rect x="110.62" y="119.60" width="5.17" height="4.02" fill="#d6eed6"/>
<rect x="115.19" y="119.60" width="5.17" height="4.02" fill="#0fbc0f"/>
<rect x="119.76" y="119.60" width="5.17" height="4.02" fill="#b4e2b4"/>
<rect x="124.33" y="119.60" width="4.57" height="4.02" fill="#fad2d4"/>
<rect x="37.50" y="123.02" width="5.17" height="4.02" fill="#b4e2b4"/>
<rect x="42.07" y="123.02" width="5.17" height="4.02" fill="#fad2d4"/>
<rect x="46.64" y="123.02" width="5.17" height="4.02" fill="#f07878"/>
<rect x="51.21" y="123.02" width="5.17" height="4.02" fill="#b4e2b4"/>
<rect x="55.78" y="123.02" width="5.17" height="4.02" fill="#f6b6b6"/>
<rect x="60.35" y="123.02" width="5.17" height="4.02" fill="#b4e2b4"/>
<rect x="64.92" y="123.02" width="5.17" height="4.02" fill="#b4e2b4"/>
<rect x="69.49" y="123.02" width="5.17" height="4.02" fill="#fad2d4"/>
<rect x="74.06" y="123.02" width="5.17" height="4.02" fill="#d6eed6"/>
<rect x="78.63" y="123.02" width="5.17" height="4.02" fill="#fad2d4"/>
<rect x="83.20" y="123.02" width="5.17" height="4.02" fill="#b4e2b4"/>
<rect x="87.77" y="123.02" width="5.17" height="4.02" fill="#b4e2b4"/>
<rect x="92.34" y="123.02" width="5.17" height="4.02" fill="#fad2d4"/>
<rect x="96.91" y="123.02" width="5.17" height="4.02" fill="#b4e2b4"/>
<rect x="101.48" y="123.02" width="5.17" height="4.02" fill="#b4e2b4"/>
<rect x="106.05" y="123.02" width="5.17" height="4.02" fill="#b4e2b4"/>
<rect x="110.62" y="123.02" width="5.17" height="4.02" fill="#b4e2b4"/>
<rect x="115.19" y="123.02" width="5.17" height="4.02" fill="#d6eed6"/>
<rect x="119.76" y="123.02" width="5.17" height="4.02" fill="#d6eed6"/>
<rect x="124.33" y="123.02" width="4.57" height="4.02" fill="#b4e2b4"/>
<rect x="37.50" y="126.44" width="5.17" height="4.02" fill="#f6b6b6"/>
<rect x="42.07" y="126.44" width="5.17" height="4.02" fill="#b4e2b4"/>
<rect x="46.64" y="126.44" width="5.17" height="4.02" fill="#f07878"/>
<rect x="51.21" y="126.44" width="5.17" height="4.02" fill="#b4e2b4"/>
<rect x="55.78" y="126.44" width="5.17" height="4.02" fill="#f07878"/>
<rect x="60.35" y="126.44" width="5.17" height="4.02" fill="#b4e2b4"/>
<rect x="64.92" y="126.44" width="5.17" height="4.02" fill="#b4e2b4"/>
<rect x="69.49" y="126.44" width="5.17" height="4.02" fill="#d6eed6"/>
<rect x="74.06" y="126.44" width="5.17" height="4.02" fill="#fad2d4"/>
<rect x="78.63" y="126.44" width="5.17" height="4.02" fill="#b4e2b4"/>
<rect x="83.20" y="126.44" width="5.17" height="4.02" fill="#b4e2b4"/>
<rect x="87.77" y="126.44" width="5.17" height="4.02" fill="#b4e2b4"/>
<rect x="92.34" y="126.44" width="5.17" height="4.02" fill="#b4e2b4"/>
<rect x="96.91" y="126.44" width="5.17" height="4.02" fill="#b4e2b4"/>
<rect x="101.48" y="126.44" width="5.17" height="4.02" fill="#b4e2b4"/>
<rect x="106.05" y="126.44" width="5.17" height="4.02" fill="#b4e2b4"/>
<rect x="110.62" y="126.44" width="5.17" height="4.02" fill="#b4e2b4"/>
<rect x="115.19" y="126.44" width="5.17" height="4.02" fill="#b4e2b4"/>
<rect x="119.76" y="126.44" width="5.17" height="4.02" fill="#b4e2b4"/>
<rect x="124.33" y="126.44" width="4.57" height="4.02" fill="#b4e2b4"/>
<rect x="37.50" y="129.86" width="5.17" height="4.02" fill="#f6b6b6"/>
<rect x="42.07" y="129.86" width="5.17" height="4.02" fill="#f6b6b6"/>
<rect x="46.64" y="129.86" width="5.17" height="4.02" fill="#ec1e1e"/>
<rect x="51.21" y="129.86" width="5.17" height="4.02" fill="#b4e2b4"/>
<rect x="55.78" y="129.86" width="5.17" height="4.02" fill="#b4e2b4"/>
<rect x="60.35" y="129.86" width="5.17" height="4.02" fill="#b4e2b4"/>
<rect x="64.92" y="129.86" width="5.17" height="4.02" fill="#b4e2b4"/>
<rect x="69.49" y="129.86" width="5.17" height="4.02" fill="#b4e2b4"/>
<rect x="74.06" y="129.86" width="5.17" height="4.02" fill="#b4e2b4"/>
<rect x="78.63" y="129.86" width="5.17" height="4.02" fill="#f6f8f6"/>
<rect x="83.20" y="129.86" width="5.17" height="4.02" fill="#b4e2b4"/>
<rect x="87.77" y="129.86" width="5.17" height="4.02" fill="#b4e2b4"/>
<rect x="92.34" y="129.86" width="5.17" height="4.02" fill="#b4e2b4"/>
<rect x="96.91" y="129.86" width="5.17" height="4.02" fill="#f6f8f6"/>
<rect x="101.48" y="129.86" width="5.17" height="4.02" fill="#b4e2b4"/>
<rect x="106.05" y="129.86" width="5.17" height="4.02" fill="#b4e2b4"/>
<rect x="110.62" y="129.86" width="5.17" height="4.02" fill="#b4e2b4"/>
<rect x="115.19" y="129.86" width="5.17" height="4.02" fill="#b4e2b4"/>
<rect x="119.76" y="129.86" width="5.17" height="4.02" fill="#b4e2b4"/>
<rect x="124.33" y="129.86" width="4.57" height="4.02" fill="#b4e2b4"/>
<rect x="37.50" y="133.28" width="5.17" height="4.02" fill="#fad2d4"/>
<rect x="42.07" y="133.28" width="5.17" height="4.02" fill="#f6b6b6"/>
<rect x="46.64" y="133.28" width="5.17" height="4.02" fill="#f6b6b6"/>
<rect x="51.21" y="133.28" width="5.17" height="4.02" fill="#b4e2b4"/>
<rect x="55.78" y="133.28" width="5.17" height="4.02" fill="#b4e2b4"/>
<rect x="60.35" y="133.28" width="5.17" height="4.02" fill="#b4e2b4"/>
<rect x="64.92" y="133.28" width="5.17" height="4.02" fill="#b4e2b4"/>
<rect x="69.49" y="133.28" width="5.17" height="4.02" fill="#b4e2b4"/>
<rect x="74.06" y="133.28" width="5.17" height="4.02" fill="#f6b6b6"/>
<rect x="78.63" y="133.28" width="5.17" height="4.02" fill="#f07878"/>
<rect x="83.20" y="133.28" width="5.17" height="4.02" fill="#fad2d4"/>
<rect x="87.77" y="133.28" width="5.17" height="4.02" fill="#b4e2b4"/>
<rect x="92.34" y="133.28" width="5.17" height="4.02" fill="#fad2d4"/>
<rect x="96.91" y="133.28" width="5.17" height="4.02" fill="#f6f8f6"/>
<rect x="101.48" y="133.28" width="5.17" height="4.02" fill="#b4e2b4"/>
<rect x="106.05" y="133.28" width="5.17" height="4.02" fill="#b4e2b4"/>
<rect x="110.62" y="133.28" width="5.17" height="4.02" fill="#b4e2b4"/>
<rect x="115.19" y="133.28" width="5.17" height="4.02" fill="#b4e2b4"/>
<rect x="119.76" y="133.28" width="5.17" height="4.02" fill="#b4e2b4"/>
<rect x="124.33" y="133.28" width="4.57" height="4.02" fill="#b4e2b4"/>
<rect x="37.50" y="136.70" width="5.17" height="4.02" fill="#64cc64"/>
<rect x="42.07" y="136.70" width="5.17" height="4.02" fill="#fad2d4"/>
<rect x="46.64" y="136.70" width="5.17" height="4.02" fill="#fad2d4"/>
<rect x="51.21" y="136.70" width="5.17" height="4.02" fill="#fad2d4"/>
<rect x="55.78" y="136.70" width="5.17" height="4.02" fill="#b4e2b4"/>
<rect x="60.35" y="136.70" width="5.17" height="4.02" fill="#b4e2b4"/>
<rect x="64.92" y="136.70" width="5.17" height="4.02" fill="#f6f8f6"/>
<rect x="69.49" y="136.70" width="5.17" height="4.02" fill="#b4e2b4"/>
<rect x="74.06" y="136.70" width="5.17" height="4.02" fill="#b4e2b4"/>
<rect x="78.63" y="136.70" width="5.17" height="4.02" fill="#ec1e1e"/>
<rect x="83.20" y="136.70" width="5.17" height="4.02" fill="#64cc64"/>
<rect x="87.77" y="136.70" width="5.17" height="4.02" fill="#f6f8f6"/>
<rect x="92.34" y="136.70" width="5.17" height="4.02" fill="#d6eed6"/>
<rect x="96.91" y="136.70" width="5.17" height="4.02" fill="#d6eed6"/>
<rect x="101.48" y="136.70" width="5.17" height="4.02" fill="#d6eed6"/>
<rect x="106.05" y="136.70" width="5.17" height="4.02" fill="#64cc64"/>
<rect x="110.62" y="136.70" width="5.17" height="4.02" fill="#fad2d4"/>
<rect x="115.19" y="136.70" width="5.17" height="4.02" fill="#d6eed6"/>
<rect x="119.76" y="136.70" width="5.17" height="4.02" fill="#d6eed6"/>
<rect x="124.33" y="136.70" width="4.57" height="4.02" fill="#64cc64"/>
<rect x="37.50" y="140.12" width="5.17" height="4.02" fill="#f6f8f6"/>
<rect x="42.07" y="140.12" width="5.17" height="4.02" fill="#fad2d4"/>
<rect x="46.64" y="140.12" width="5.17" height="4.02" fill="#f6f8f6"/>
<rect x="51.21" y="140.12" width="5.17" height="4.02" fill="#fad2d4"/>
<rect x="55.78" y="140.12" width="5.17" height="4.02" fill="#d6eed6"/>
<rect x="60.35" y="140.12" width="5.17" height="4.02" fill="#f6f8f6"/>
<rect x="64.92" y="140.12" width="5.17" height="4.02" fill="#fad2d4"/>
<rect x="69.49" y="140.12" width="5.17" height="4.02" fill="#d6eed6"/>
<rect x="74.06" y="140.12" width="5.17" height="4.02" fill="#b4e2b4"/>
<rect x="78.63" y="140.12" width="5.17" height="4.02" fill="#fad2d4"/>
<rect x="83.20" y="140.12" width="5.17" height="4.02" fill="#d6eed6"/>
<rect x="87.77" y="140.12" width="5.17" height="4.02" fill="#0fbc0f"/>
<rect x="92.34" y="140.12" width="5.17" height="4.02" fill="#b4e2b4"/>
<rect x="96.91" y="140.12" width="5.17" height="4.02" fill="#f6f8f6"/>
<rect x="101.48" y="140.12" width="5.17" height="4.02" fill="#b4e2b4"/>
<rect x="106.05" y="140.12" width="5.17" height="4.02" fill="#d6eed6"/>
<rect x="110.62" y="140.12" width="5.17" height="4.02" fill="#fad2d4"/>
<rect x="115.19" y="140.12" width="5.17" height="4.02" fill="#b4e2b4"/>
<rect x="119.76" y="140.12" width="5.17" height="4.02" fill="#d6eed6"/>
<rect x="124.33" y="140.12" width="4.57" height="4.02" fill="#f6f8f6"/>
<rect x="37.50" y="143.54" width="5.17" height="4.02" fill="#f07878"/>
<rect x="42.07" y="143.54" width="5.17" height="4.02" fill="#f6b6b6"/>
<rect x="46.64" y="143.54" width="5.17" height="4.02" fill="#f6b6b6"/>
<rect x="51.21" y="143.54" width="5.17" height="4.02" fill="#f07878"/>
<rect x="55.78" y="143.54" width="5.17" height="4.02" fill="#b4e2b4"/>
<rect x="60.35" y="143.54" width="5.17" height="4.02" fill="#b4e2b4"/>
<rect x="64.92" y="143.54" width="5.17" height="4.02" fill="#b4e2b4"/>
<rect x="69.49" y="143.54" width="5.17" height="4.02" fill="#b4e2b4"/>
<rect x="74.06" y="143.54" width="5.17" height="4.02" fill="#b4e2b4"/>
<rect x="78.63" y="143.54" width="5.17" height="4.02" fill="#b4e2b4"/>
<rect x="83.20" y="143.54" width="5.17" height="4.02" fill="#b4e2b4"/>
<rect x="87.77" y="143.54" width="5.17" height="4.02" fill="#b4e2b4"/>
<rect x="92.34" y="143.54" width="5.17" height="4.02" fill="#b4e2b4"/>
<rect x="96.91" y="143.54" width="5.17" height="4.02" fill="#b4e2b4"/>
<rect x="101.48" y="143.54" width="5.17" height="4.02" fill="#b4e2b4"/>
<rect x="106.05" y="143.54" width="5.17" height="4.02" fill="#b4e2b4"/>
<rect x="110.62" y="143.54" width="5.17" height="4.02" fill="#b4e2b4"/>
<rect x="115.19" y="143.54" width="5.17" height="4.02" fill="#b4e2b4"/>
<rect x="119.76" y="143.54" width="5.17" height="4.02" fill="#b4e2b4"/>
<rect x="124.33" y="143.54" width="4.57" height="4.02" fill="#b4e2b4"/>
<rect x="37.50" y="146.96" width="5.17" height="4.02" fill="#f07878"/>
<rect x="42.07" y="146.96" width="5.17" height="4.02" fill="#b4e2b4"/>
<rect x="46.64" y="146.96" width="5.17" height="4.02" fill="#b4e2b4"/>
<rect x="51.21" y="146.96" width="5.17" height="4.02" fill="#ec1e1e"/>
<rect x="55.78" y="146.96" width="5.17" height="4.02" fill="#b4e2b4"/>
<rect x="60.35" y="146.96" width="5.17" height="4.02" fill="#f6b6b6"/>
<rect x="64.92" y="146.96" width="5.17" height="4.02" fill="#b4e2b4"/>
<rect x="69.49" y="146.96" width="5.17" height="4.02" fill="#f6f8f6"/>
<rect x="74.06" y="146.96" width="5.17" height="4.02" fill="#b4e2b4"/>
<rect x="78.63" y="146.96" width="5.17" height="4.02" fill="#b4e2b4"/>
<rect x="83.20" y="146.96" width="5.17" height="4.02" fill="#b4e2b4"/>
<rect x="87.77" y="146.96" width="5.17" height="4.02" fill="#b4e2b4"/>
<rect x="92.34" y="146.96" width="5.17" height="4.02" fill="#b4e2b4"/>
<rect x="96.91" y="146.96" width="5.17" height="4.02" fill="#b4e2b4"/>
<rect x="101.48" y="146.96" width="5.17" height="4.02" fill="#b4e2b4"/>
<rect x="106.05" y="146.96" width="5.17" height="4.02" fill="#b4e2b4"/>
<rect x="110.62" y="146.96" width="5.17" height="4.02" fill="#b4e2b4"/>
<rect x="115.19" y="146.96" width="5.17" height="4.02" fill="#b4e2b4"/>
<rect x="119.76" y="146.96" width="5.17" height="4.02" fill="#b4e2b4"/>
<rect x="124.33" y="146.96" width="4.57" height="4.02" fill="#b4e2b4"/>
<rect x="37.50" y="150.38" width="5.17" height="3.42" fill="#b4e2b4"/>
<rect x="42.07" y="150.38" width="5.17" height="3.42" fill="#f6b6b6"/>
<rect x="46.64" y="150.38" width="5.17" height="3.42" fill="#b4e2b4"/>
<rect x="51.21" y="150.38" width="5.17" height="3.42" fill="#b4e2b4"/>
<rect x="55.78" y="150.38" width="5.17" height="3.42" fill="#b4e2b4"/>
<rect x="60.35" y="150.38" width="5.17" height="3.42" fill="#b4e2b4"/>
<rect x="64.92" y="150.38" width="5.17" height="3.42" fill="#ec1e1e"/>
<rect x="69.49" y="150.38" width="5.17" height="3.42" fill="#b4e2b4"/>
<rect x="74.06" y="150.38" width="5.17" height="3.42" fill="#f6b6b6"/>
<rect x="78.63" y="150.38" width="5.17" height="3.42" fill="#b4e2b4"/>
<rect x="83.20" y="150.38" width="5.17" height="3.42" fill="#b4e2b4"/>
<rect x="87.77" y="150.38" width="5.17" height="3.42" fill="#b4e2b4"/>
<rect x="92.34" y="150.38" width="5.17" height="3.42" fill="#b4e2b4"/>
<rect x="96.91" y="150.38" width="5.17" height="3.42" fill="#f6f8f6"/>
<rect x="101.48" y="150.38" width="5.17" height="3.42" fill="#b4e2b4"/>
<rect x="106.05" y="150.38" width="5.17" height="3.42" fill="#b4e2b4"/>
<rect x="110.62" y="150.38" width="5.17" height="3.42" fill="#b4e2b4"/>
<rect x="115.19" y="150.38" width="5.17" height="3.42" fill="#b4e2b4"/>
<rect x="119.76" y="150.38" width="5.17" height="3.42" fill="#b4e2b4"/>
<rect x="124.33" y="150.38" width="4.57" height="3.42" fill="#b4e2b4"/>
<path d="M37.30 104.21H37.30V107.63H37.30M37.30 114.47H36.15V117.89H37.30M37.30 18.71H35.11V22.13H37.30M37.30 28.97H34.09V32.39H37.30M37.30 56.33H34.09V59.75H37.30M37.30 87.11H33.42V90.53H37.30M37.30 83.69H33.39V88.82H33.42M37.30 63.17H33.34V66.59H37.30M37.30 25.55H33.17V30.68H34.09M37.30 70.01H33.07V73.43H37.30M37.30 80.27H32.73V86.25H33.39M33.34 64.88H32.61V71.72H33.07M37.30 105.92H32.23V111.05H37.30M35.11 20.42H31.84V28.12H33.17M32.73 83.26H31.58V93.95H37.30M37.30 145.25H31.55V148.67H37.30M37.30 124.73H31.51V128.15H37.30M37.30 39.23H31.47V42.65H37.30M32.61 68.30H31.44V76.85H37.30M37.30 100.79H31.29V108.48H32.23M31.44 72.57H31.15V88.61H31.58M37.30 131.57H31.12V134.99H37.30M37.30 46.07H30.94V49.49H37.30M31.51 126.44H30.66V133.28H31.12M37.30 97.37H30.54V104.64H31.29M31.15 80.59H30.54V101.00H30.54M30.94 47.78H30.31V52.91H37.30M37.30 121.31H30.29V129.86H30.66M37.30 141.83H30.00V146.96H31.55M37.30 35.81H29.97V40.94H31.47M30.54 90.80H29.74V116.18H36.15M29.74 103.49H29.74V125.59H30.29M31.84 24.27H29.65V38.38H29.97M29.74 114.54H29.03V138.41H37.30M29.65 31.32H29.01V50.34H30.31M29.01 40.83H29.01V58.04H34.09M29.03 126.47H28.94V144.39H30.00M28.94 135.43H28.25V152.09H37.30M29.01 49.44H27.50V143.76H28.25" stroke="#6a6a6a" stroke-width="0.55" fill="none"/>
<text x="0" y="0" transform="translate(41.18,155.00) rotate(-90)" text-anchor="end" font-size="4.0" fill="#333" font-family="Liberation Sans, sans-serif">TTD1</text>
<text x="0" y="0" transform="translate(45.76,155.00) rotate(-90)" text-anchor="end" font-size="4.0" fill="#333" font-family="Liberation Sans, sans-serif">TTD2</text>
<text x="0" y="0" transform="translate(50.32,155.00) rotate(-90)" text-anchor="end" font-size="4.0" fill="#333" font-family="Liberation Sans, sans-serif">TTD3</text>
<text x="0" y="0" transform="translate(54.90,155.00) rotate(-90)" text-anchor="end" font-size="4.0" fill="#333" font-family="Liberation Sans, sans-serif">TTD4</text>
<text x="0" y="0" transform="translate(59.46,155.00) rotate(-90)" text-anchor="end" font-size="4.0" fill="#333" font-family="Liberation Sans, sans-serif">TTD5</text>
<text x="0" y="0" transform="translate(64.04,155.00) rotate(-90)" text-anchor="end" font-size="4.0" fill="#333" font-family="Liberation Sans, sans-serif">TTD6</text>
<text x="0" y="0" transform="translate(68.61,155.00) rotate(-90)" text-anchor="end" font-size="4.0" fill="#333" font-family="Liberation Sans, sans-serif">TTD7</text>
<text x="0" y="0" transform="translate(73.18,155.00) rotate(-90)" text-anchor="end" font-size="4.0" fill="#333" font-family="Liberation Sans, sans-serif">TTD8</text>
<text x="0" y="0" transform="translate(77.75,155.00) rotate(-90)" text-anchor="end" font-size="4.0" fill="#333" font-family="Liberation Sans, sans-serif">TTD9</text>
<text x="0" y="0" transform="translate(82.32,155.00) rotate(-90)" text-anchor="end" font-size="4.0" fill="#333" font-family="Liberation Sans, sans-serif">TTD10</text>
<text x="0" y="0" transform="translate(86.89,155.00) rotate(-90)" text-anchor="end" font-size="4.0" fill="#333" font-family="Liberation Sans, sans-serif">CTD1</text>
<text x="0" y="0" transform="translate(91.46,155.00) rotate(-90)" text-anchor="end" font-size="4.0" fill="#333" font-family="Liberation Sans, sans-serif">CTD2</text>
<text x="0" y="0" transform="translate(96.03,155.00) rotate(-90)" text-anchor="end" font-size="4.0" fill="#333" font-family="Liberation Sans, sans-serif">CTD3</text>
<text x="0" y="0" transform="translate(100.60,155.00) rotate(-90)" text-anchor="end" font-size="4.0" fill="#333" font-family="Liberation Sans, sans-serif">CTD4</text>
<text x="0" y="0" transform="translate(105.17,155.00) rotate(-90)" text-anchor="end" font-size="4.0" fill="#333" font-family="Liberation Sans, sans-serif">CTD5</text>
<text x="0" y="0" transform="translate(109.74,155.00) rotate(-90)" text-anchor="end" font-size="4.0" fill="#333" font-family="Liberation Sans, sans-serif">CTD6</text>
<text x="0" y="0" transform="translate(114.31,155.00) rotate(-90)" text-anchor="end" font-size="4.0" fill="#333" font-family="Liberation Sans, sans-serif">CTD7</text>
<text x="0" y="0" transform="translate(118.88,155.00) rotate(-90)" text-anchor="end" font-size="4.0" fill="#333" font-family="Liberation Sans, sans-serif">CTD8</text>
<text x="0" y="0" transform="translate(123.45,155.00) rotate(-90)" text-anchor="end" font-size="4.0" fill="#333" font-family="Liberation Sans, sans-serif">CTD9</text>
<text x="0" y="0" transform="translate(128.02,155.00) rotate(-90)" text-anchor="end" font-size="4.0" fill="#333" font-family="Liberation Sans, sans-serif">CTD10</text>
<text x="130.40" y="19.71" font-size="2.7" fill="#333" textLength="11.2" lengthAdjust="spacingAndGlyphs" font-family="Liberation Sans, sans-serif">hsa-miR-4025</text>
<text x="130.40" y="23.13" font-size="2.7" fill="#333" textLength="14.0" lengthAdjust="spacingAndGlyphs" font-family="Liberation Sans, sans-serif">hsa-miR-587-3p</text>
<text x="130.40" y="26.55" font-size="2.7" fill="#333" textLength="11.2" lengthAdjust="spacingAndGlyphs" font-family="Liberation Sans, sans-serif">hsa-miR-3580</text>
<text x="130.40" y="29.97" font-size="2.7" fill="#333" textLength="11.2" lengthAdjust="spacingAndGlyphs" font-family="Liberation Sans, sans-serif">hsa-miR-4963</text>
<text x="130.40" y="33.39" font-size="2.7" fill="#333" textLength="14.0" lengthAdjust="spacingAndGlyphs" font-family="Liberation Sans, sans-serif">hsa-miR-130-5p</text>
<text x="130.40" y="36.81" font-size="2.7" fill="#333" textLength="11.2" lengthAdjust="spacingAndGlyphs" font-family="Liberation Sans, sans-serif">hsa-miR-8492</text>
<text x="130.40" y="40.23" font-size="2.7" fill="#333" textLength="14.0" lengthAdjust="spacingAndGlyphs" font-family="Liberation Sans, sans-serif">hsa-miR-384-5p</text>
<text x="130.40" y="43.65" font-size="2.7" fill="#333" textLength="14.0" lengthAdjust="spacingAndGlyphs" font-family="Liberation Sans, sans-serif">hsa-miR-625-5p</text>
<text x="130.40" y="47.07" font-size="2.7" fill="#333" textLength="14.0" lengthAdjust="spacingAndGlyphs" font-family="Liberation Sans, sans-serif">hsa-miR-966-5p</text>
<text x="130.40" y="50.49" font-size="2.7" fill="#333" textLength="14.0" lengthAdjust="spacingAndGlyphs" font-family="Liberation Sans, sans-serif">hsa-miR-314-3p</text>
<text x="130.40" y="53.91" font-size="2.7" fill="#333" textLength="14.0" lengthAdjust="spacingAndGlyphs" font-family="Liberation Sans, sans-serif">hsa-miR-679-3p</text>
<text x="130.40" y="57.33" font-size="2.7" fill="#333" textLength="14.0" lengthAdjust="spacingAndGlyphs" font-family="Liberation Sans, sans-serif">hsa-miR-418-5p</text>
<text x="130.40" y="60.75" font-size="2.7" fill="#333" textLength="14.0" lengthAdjust="spacingAndGlyphs" font-family="Liberation Sans, sans-serif">hsa-miR-823-3p</text>
<text x="130.40" y="64.17" font-size="2.7" fill="#333" textLength="14.0" lengthAdjust="spacingAndGlyphs" font-family="Liberation Sans, sans-serif">hsa-miR-558c-3p</text>
<text x="130.40" y="67.59" font-size="2.7" fill="#333" textLength="14.0" lengthAdjust="spacingAndGlyphs" font-family="Liberation Sans, sans-serif">hsa-miR-759-5p</text>
<text x="130.40" y="71.01" font-size="2.7" fill="#333" textLength="11.2" lengthAdjust="spacingAndGlyphs" font-family="Liberation Sans, sans-serif">hsa-miR-7459</text>
<text x="130.40" y="74.43" font-size="2.7" fill="#333" textLength="14.0" lengthAdjust="spacingAndGlyphs" font-family="Liberation Sans, sans-serif">hsa-miR-143a-3p</text>
<text x="130.40" y="77.85" font-size="2.7" fill="#333" textLength="14.0" lengthAdjust="spacingAndGlyphs" font-family="Liberation Sans, sans-serif">hsa-miR-109-5p</text>
<text x="130.40" y="81.27" font-size="2.7" fill="#333" textLength="11.2" lengthAdjust="spacingAndGlyphs" font-family="Liberation Sans, sans-serif">hsa-miR-1254</text>
<text x="130.40" y="84.69" font-size="2.7" fill="#333" textLength="11.2" lengthAdjust="spacingAndGlyphs" font-family="Liberation Sans, sans-serif">hsa-miR-8925</text>
<text x="130.40" y="88.11" font-size="2.7" fill="#333" textLength="14.0" lengthAdjust="spacingAndGlyphs" font-family="Liberation Sans, sans-serif">hsa-miR-238-5p</text>
<text x="130.40" y="91.53" font-size="2.7" fill="#333" textLength="11.2" lengthAdjust="spacingAndGlyphs" font-family="Liberation Sans, sans-serif">hsa-miR-4220</text>
<text x="130.40" y="94.95" font-size="2.7" fill="#333" textLength="14.0" lengthAdjust="spacingAndGlyphs" font-family="Liberation Sans, sans-serif">hsa-miR-497-5p</text>
<text x="130.40" y="98.37" font-size="2.7" fill="#333" textLength="14.0" lengthAdjust="spacingAndGlyphs" font-family="Liberation Sans, sans-serif">hsa-miR-624b-3p</text>
<text x="130.40" y="101.79" font-size="2.7" fill="#333" textLength="14.0" lengthAdjust="spacingAndGlyphs" font-family="Liberation Sans, sans-serif">hsa-miR-530-5p</text>
<text x="130.40" y="105.21" font-size="2.7" fill="#333" textLength="14.0" lengthAdjust="spacingAndGlyphs" font-family="Liberation Sans, sans-serif">hsa-miR-333-5p</text>
<text x="130.40" y="108.63" font-size="2.7" fill="#333" textLength="14.0" lengthAdjust="spacingAndGlyphs" font-family="Liberation Sans, sans-serif">hsa-miR-308-3p</text>
<text x="130.40" y="112.05" font-size="2.7" fill="#333" textLength="11.2" lengthAdjust="spacingAndGlyphs" font-family="Liberation Sans, sans-serif">hsa-miR-9699</text>
<text x="130.40" y="115.47" font-size="2.7" fill="#333" textLength="11.2" lengthAdjust="spacingAndGlyphs" font-family="Liberation Sans, sans-serif">hsa-miR-6422</text>
<text x="130.40" y="118.89" font-size="2.7" fill="#333" textLength="14.0" lengthAdjust="spacingAndGlyphs" font-family="Liberation Sans, sans-serif">hsa-miR-704a-3p</text>
<text x="130.40" y="122.31" font-size="2.7" fill="#333" textLength="14.0" lengthAdjust="spacingAndGlyphs" font-family="Liberation Sans, sans-serif">hsa-miR-817-5p</text>
<text x="130.40" y="125.73" font-size="2.7" fill="#333" textLength="14.0" lengthAdjust="spacingAndGlyphs" font-family="Liberation Sans, sans-serif">hsa-miR-426a-3p</text>
<text x="130.40" y="129.15" font-size="2.7" fill="#333" textLength="14.0" lengthAdjust="spacingAndGlyphs" font-family="Liberation Sans, sans-serif">hsa-miR-854a-3p</text>
<text x="130.40" y="132.57" font-size="2.7" fill="#333" textLength="11.2" lengthAdjust="spacingAndGlyphs" font-family="Liberation Sans, sans-serif">hsa-miR-9190</text>
<text x="130.40" y="135.99" font-size="2.7" fill="#333" textLength="14.0" lengthAdjust="spacingAndGlyphs" font-family="Liberation Sans, sans-serif">hsa-miR-114-5p</text>
<text x="130.40" y="139.41" font-size="2.7" fill="#333" textLength="11.2" lengthAdjust="spacingAndGlyphs" font-family="Liberation Sans, sans-serif">hsa-miR-7364</text>
<text x="130.40" y="142.83" font-size="2.7" fill="#333" textLength="11.2" lengthAdjust="spacingAndGlyphs" font-family="Liberation Sans, sans-serif">hsa-miR-9498</text>
<text x="130.40" y="146.25" font-size="2.7" fill="#333" textLength="14.0" lengthAdjust="spacingAndGlyphs" font-family="Liberation Sans, sans-serif">hsa-miR-130-5p</text>
<text x="130.40" y="149.67" font-size="2.7" fill="#333" textLength="14.0" lengthAdjust="spacingAndGlyphs" font-family="Liberation Sans, sans-serif">hsa-miR-815-3p</text>
<text x="130.40" y="153.09" font-size="2.7" fill="#333" textLength="14.0" lengthAdjust="spacingAndGlyphs" font-family="Liberation Sans, sans-serif">hsa-miR-476-5p</text>
<text x="129.6" y="15.8" font-size="4.0" fill="#222" font-family="Liberation Sans, sans-serif">Group</text>
<rect x="206.1" y="12.1" width="46.50" height="3.6" fill="#f01818"/>
<rect x="252.60" y="12.1" width="46.50" height="3.6" fill="#1878b8"/>
<rect x="206.10" y="17.00" width="5.25" height="3.66" fill="#f6b6b6"/>
<rect x="210.75" y="17.00" width="5.25" height="3.66" fill="#fad2d4"/>
<rect x="215.40" y="17.00" width="5.25" height="3.66" fill="#f6f8f6"/>
<rect x="220.05" y="17.00" width="5.25" height="3.66" fill="#d6eed6"/>
<rect x="224.70" y="17.00" width="5.25" height="3.66" fill="#d6eed6"/>
<rect x="229.35" y="17.00" width="5.25" height="3.66" fill="#d6eed6"/>
<rect x="234.00" y="17.00" width="5.25" height="3.66" fill="#fad2d4"/>
<rect x="238.65" y="17.00" width="5.25" height="3.66" fill="#f6f8f6"/>
<rect x="243.30" y="17.00" width="5.25" height="3.66" fill="#fad2d4"/>
<rect x="247.95" y="17.00" width="5.25" height="3.66" fill="#ec1e1e"/>
<rect x="252.60" y="17.00" width="5.25" height="3.66" fill="#f6f8f6"/>
<rect x="257.25" y="17.00" width="5.25" height="3.66" fill="#0fbc0f"/>
<rect x="261.90" y="17.00" width="5.25" height="3.66" fill="#f6b6b6"/>
<rect x="266.55" y="17.00" width="5.25" height="3.66" fill="#d6eed6"/>
<rect x="271.20" y="17.00" width="5.25" height="3.66" fill="#b4e2b4"/>
<rect x="275.85" y="17.00" width="5.25" height="3.66" fill="#fad2d4"/>
<rect x="280.50" y="17.00" width="5.25" height="3.66" fill="#64cc64"/>
<rect x="285.15" y="17.00" width="5.25" height="3.66" fill="#64cc64"/>
<rect x="289.80" y="17.00" width="5.25" height="3.66" fill="#f07878"/>
<rect x="294.45" y="17.00" width="4.65" height="3.66" fill="#fad2d4"/>
<rect x="206.10" y="20.06" width="5.25" height="3.66" fill="#b4e2b4"/>
<rect x="210.75" y="20.06" width="5.25" height="3.66" fill="#f6b6b6"/>
<rect x="215.40" y="20.06" width="5.25" height="3.66" fill="#f6b6b6"/>
<rect x="220.05" y="20.06" width="5.25" height="3.66" fill="#f6b6b6"/>
<rect x="224.70" y="20.06" width="5.25" height="3.66" fill="#b4e2b4"/>
<rect x="229.35" y="20.06" width="5.25" height="3.66" fill="#f6f8f6"/>
<rect x="234.00" y="20.06" width="5.25" height="3.66" fill="#f6f8f6"/>
<rect x="238.65" y="20.06" width="5.25" height="3.66" fill="#d6eed6"/>
<rect x="243.30" y="20.06" width="5.25" height="3.66" fill="#b4e2b4"/>
<rect x="247.95" y="20.06" width="5.25" height="3.66" fill="#ec1e1e"/>
<rect x="252.60" y="20.06" width="5.25" height="3.66" fill="#f6f8f6"/>
<rect x="257.25" y="20.06" width="5.25" height="3.66" fill="#d6eed6"/>
<rect x="261.90" y="20.06" width="5.25" height="3.66" fill="#f6b6b6"/>
<rect x="266.55" y="20.06" width="5.25" height="3.66" fill="#d6eed6"/>
<rect x="271.20" y="20.06" width="5.25" height="3.66" fill="#b4e2b4"/>
<rect x="275.85" y="20.06" width="5.25" height="3.66" fill="#fad2d4"/>
<rect x="280.50" y="20.06" width="5.25" height="3.66" fill="#0fbc0f"/>
<rect x="285.15" y="20.06" width="5.25" height="3.66" fill="#b4e2b4"/>
<rect x="289.80" y="20.06" width="5.25" height="3.66" fill="#d6eed6"/>
<rect x="294.45" y="20.06" width="4.65" height="3.66" fill="#f6f8f6"/>
<rect x="206.10" y="23.11" width="5.25" height="3.66" fill="#fad2d4"/>
<rect x="210.75" y="23.11" width="5.25" height="3.66" fill="#fad2d4"/>
<rect x="215.40" y="23.11" width="5.25" height="3.66" fill="#fad2d4"/>
<rect x="220.05" y="23.11" width="5.25" height="3.66" fill="#f6b6b6"/>
<rect x="224.70" y="23.11" width="5.25" height="3.66" fill="#64cc64"/>
<rect x="229.35" y="23.11" width="5.25" height="3.66" fill="#f6b6b6"/>
<rect x="234.00" y="23.11" width="5.25" height="3.66" fill="#64cc64"/>
<rect x="238.65" y="23.11" width="5.25" height="3.66" fill="#d6eed6"/>
<rect x="243.30" y="23.11" width="5.25" height="3.66" fill="#f6b6b6"/>
<rect x="247.95" y="23.11" width="5.25" height="3.66" fill="#ee4848"/>
<rect x="252.60" y="23.11" width="5.25" height="3.66" fill="#b4e2b4"/>
<rect x="257.25" y="23.11" width="5.25" height="3.66" fill="#b4e2b4"/>
<rect x="261.90" y="23.11" width="5.25" height="3.66" fill="#b4e2b4"/>
<rect x="266.55" y="23.11" width="5.25" height="3.66" fill="#f6f8f6"/>
<rect x="271.20" y="23.11" width="5.25" height="3.66" fill="#b4e2b4"/>
<rect x="275.85" y="23.11" width="5.25" height="3.66" fill="#f6b6b6"/>
<rect x="280.50" y="23.11" width="5.25" height="3.66" fill="#b4e2b4"/>
<rect x="285.15" y="23.11" width="5.25" height="3.66" fill="#b4e2b4"/>
<rect x="289.80" y="23.11" width="5.25" height="3.66" fill="#b4e2b4"/>
<rect x="294.45" y="23.11" width="4.65" height="3.66" fill="#f6b6b6"/>
<rect x="206.10" y="26.17" width="5.25" height="3.66" fill="#fad2d4"/>
<rect x="210.75" y="26.17" width="5.25" height="3.66" fill="#f6b6b6"/>
<rect x="215.40" y="26.17" width="5.25" height="3.66" fill="#fad2d4"/>
<rect x="220.05" y="26.17" width="5.25" height="3.66" fill="#f6f8f6"/>
<rect x="224.70" y="26.17" width="5.25" height="3.66" fill="#f6f8f6"/>
<rect x="229.35" y="26.17" width="5.25" height="3.66" fill="#64cc64"/>
<rect x="234.00" y="26.17" width="5.25" height="3.66" fill="#f6b6b6"/>
<rect x="238.65" y="26.17" width="5.25" height="3.66" fill="#d6eed6"/>
<rect x="243.30" y="26.17" width="5.25" height="3.66" fill="#fad2d4"/>
<rect x="247.95" y="26.17" width="5.25" height="3.66" fill="#ee4848"/>
<rect x="252.60" y="26.17" width="5.25" height="3.66" fill="#f6b6b6"/>
<rect x="257.25" y="26.17" width="5.25" height="3.66" fill="#d6eed6"/>
<rect x="261.90" y="26.17" width="5.25" height="3.66" fill="#d6eed6"/>
<rect x="266.55" y="26.17" width="5.25" height="3.66" fill="#f6b6b6"/>
<rect x="271.20" y="26.17" width="5.25" height="3.66" fill="#b4e2b4"/>
<rect x="275.85" y="26.17" width="5.25" height="3.66" fill="#64cc64"/>
<rect x="280.50" y="26.17" width="5.25" height="3.66" fill="#fad2d4"/>
<rect x="285.15" y="26.17" width="5.25" height="3.66" fill="#0fbc0f"/>
<rect x="289.80" y="26.17" width="5.25" height="3.66" fill="#d6eed6"/>
<rect x="294.45" y="26.17" width="4.65" height="3.66" fill="#fad2d4"/>
<rect x="206.10" y="29.22" width="5.25" height="3.66" fill="#fad2d4"/>
<rect x="210.75" y="29.22" width="5.25" height="3.66" fill="#fad2d4"/>
<rect x="215.40" y="29.22" width="5.25" height="3.66" fill="#fad2d4"/>
<rect x="220.05" y="29.22" width="5.25" height="3.66" fill="#fad2d4"/>
<rect x="224.70" y="29.22" width="5.25" height="3.66" fill="#f6f8f6"/>
<rect x="229.35" y="29.22" width="5.25" height="3.66" fill="#64cc64"/>
<rect x="234.00" y="29.22" width="5.25" height="3.66" fill="#d6eed6"/>
<rect x="238.65" y="29.22" width="5.25" height="3.66" fill="#f6f8f6"/>
<rect x="243.30" y="29.22" width="5.25" height="3.66" fill="#f6b6b6"/>
<rect x="247.95" y="29.22" width="5.25" height="3.66" fill="#ee4848"/>
<rect x="252.60" y="29.22" width="5.25" height="3.66" fill="#fad2d4"/>
<rect x="257.25" y="29.22" width="5.25" height="3.66" fill="#fad2d4"/>
<rect x="261.90" y="29.22" width="5.25" height="3.66" fill="#64cc64"/>
<rect x="266.55" y="29.22" width="5.25" height="3.66" fill="#fad2d4"/>
<rect x="271.20" y="29.22" width="5.25" height="3.66" fill="#64cc64"/>
<rect x="275.85" y="29.22" width="5.25" height="3.66" fill="#64cc64"/>
<rect x="280.50" y="29.22" width="5.25" height="3.66" fill="#fad2d4"/>
<rect x="285.15" y="29.22" width="5.25" height="3.66" fill="#64cc64"/>
<rect x="289.80" y="29.22" width="5.25" height="3.66" fill="#fad2d4"/>
<rect x="294.45" y="29.22" width="4.65" height="3.66" fill="#fad2d4"/>
<rect x="206.10" y="32.28" width="5.25" height="3.66" fill="#f07878"/>
<rect x="210.75" y="32.28" width="5.25" height="3.66" fill="#f6b6b6"/>
<rect x="215.40" y="32.28" width="5.25" height="3.66" fill="#f6b6b6"/>
<rect x="220.05" y="32.28" width="5.25" height="3.66" fill="#f6f8f6"/>
<rect x="224.70" y="32.28" width="5.25" height="3.66" fill="#b4e2b4"/>
<rect x="229.35" y="32.28" width="5.25" height="3.66" fill="#b4e2b4"/>
<rect x="234.00" y="32.28" width="5.25" height="3.66" fill="#d6eed6"/>
<rect x="238.65" y="32.28" width="5.25" height="3.66" fill="#64cc64"/>
<rect x="243.30" y="32.28" width="5.25" height="3.66" fill="#fad2d4"/>
<rect x="247.95" y="32.28" width="5.25" height="3.66" fill="#ec1e1e"/>
<rect x="252.60" y="32.28" width="5.25" height="3.66" fill="#d6eed6"/>
<rect x="257.25" y="32.28" width="5.25" height="3.66" fill="#b4e2b4"/>
<rect x="261.90" y="32.28" width="5.25" height="3.66" fill="#f6f8f6"/>
<rect x="266.55" y="32.28" width="5.25" height="3.66" fill="#f6f8f6"/>
<rect x="271.20" y="32.28" width="5.25" height="3.66" fill="#fad2d4"/>
<rect x="275.85" y="32.28" width="5.25" height="3.66" fill="#d6eed6"/>
<rect x="280.50" y="32.28" width="5.25" height="3.66" fill="#d6eed6"/>
<rect x="285.15" y="32.28" width="5.25" height="3.66" fill="#64cc64"/>
<rect x="289.80" y="32.28" width="5.25" height="3.66" fill="#f6b6b6"/>
<rect x="294.45" y="32.28" width="4.65" height="3.66" fill="#b4e2b4"/>
<rect x="206.10" y="35.34" width="5.25" height="3.66" fill="#f07878"/>
<rect x="210.75" y="35.34" width="5.25" height="3.66" fill="#f6b6b6"/>
<rect x="215.40" y="35.34" width="5.25" height="3.66" fill="#f6f8f6"/>
<rect x="220.05" y="35.34" width="5.25" height="3.66" fill="#64cc64"/>
<rect x="224.70" y="35.34" width="5.25" height="3.66" fill="#d6eed6"/>
<rect x="229.35" y="35.34" width="5.25" height="3.66" fill="#b4e2b4"/>
<rect x="234.00" y="35.34" width="5.25" height="3.66" fill="#d6eed6"/>
<rect x="238.65" y="35.34" width="5.25" height="3.66" fill="#b4e2b4"/>
<rect x="243.30" y="35.34" width="5.25" height="3.66" fill="#fad2d4"/>
<rect x="247.95" y="35.34" width="5.25" height="3.66" fill="#ec1e1e"/>
<rect x="252.60" y="35.34" width="5.25" height="3.66" fill="#f6b6b6"/>
<rect x="257.25" y="35.34" width="5.25" height="3.66" fill="#b4e2b4"/>
<rect x="261.90" y="35.34" width="5.25" height="3.66" fill="#fad2d4"/>
<rect x="266.55" y="35.34" width="5.25" height="3.66" fill="#fad2d4"/>
<rect x="271.20" y="35.34" width="5.25" height="3.66" fill="#b4e2b4"/>
<rect x="275.85" y="35.34" width="5.25" height="3.66" fill="#f6f8f6"/>
<rect x="280.50" y="35.34" width="5.25" height="3.66" fill="#d6eed6"/>
<rect x="285.15" y="35.34" width="5.25" height="3.66" fill="#64cc64"/>
<rect x="289.80" y="35.34" width="5.25" height="3.66" fill="#f6b6b6"/>
<rect x="294.45" y="35.34" width="4.65" height="3.66" fill="#fad2d4"/>
<rect x="206.10" y="38.39" width="5.25" height="3.66" fill="#f07878"/>
<rect x="210.75" y="38.39" width="5.25" height="3.66" fill="#f6b6b6"/>
<rect x="215.40" y="38.39" width="5.25" height="3.66" fill="#fad2d4"/>
<rect x="220.05" y="38.39" width="5.25" height="3.66" fill="#b4e2b4"/>
<rect x="224.70" y="38.39" width="5.25" height="3.66" fill="#d6eed6"/>
<rect x="229.35" y="38.39" width="5.25" height="3.66" fill="#b4e2b4"/>
<rect x="234.00" y="38.39" width="5.25" height="3.66" fill="#b4e2b4"/>
<rect x="238.65" y="38.39" width="5.25" height="3.66" fill="#d6eed6"/>
<rect x="243.30" y="38.39" width="5.25" height="3.66" fill="#b4e2b4"/>
<rect x="247.95" y="38.39" width="5.25" height="3.66" fill="#ec1e1e"/>
<rect x="252.60" y="38.39" width="5.25" height="3.66" fill="#d6eed6"/>
<rect x="257.25" y="38.39" width="5.25" height="3.66" fill="#d6eed6"/>
<rect x="261.90" y="38.39" width="5.25" height="3.66" fill="#fad2d4"/>
<rect x="266.55" y="38.39" width="5.25" height="3.66" fill="#d6eed6"/>
<rect x="271.20" y="38.39" width="5.25" height="3.66" fill="#d6eed6"/>
<rect x="275.85" y="38.39" width="5.25" height="3.66" fill="#b4e2b4"/>
<rect x="280.50" y="38.39" width="5.25" height="3.66" fill="#d6eed6"/>
<rect x="285.15" y="38.39" width="5.25" height="3.66" fill="#64cc64"/>
<rect x="289.80" y="38.39" width="5.25" height="3.66" fill="#f6b6b6"/>
<rect x="294.45" y="38.39" width="4.65" height="3.66" fill="#fad2d4"/>
<rect x="206.10" y="41.45" width="5.25" height="3.66" fill="#f07878"/>
<rect x="210.75" y="41.45" width="5.25" height="3.66" fill="#fad2d4"/>
<rect x="215.40" y="41.45" width="5.25" height="3.66" fill="#fad2d4"/>
<rect x="220.05" y="41.45" width="5.25" height="3.66" fill="#b4e2b4"/>
<rect x="224.70" y="41.45" width="5.25" height="3.66" fill="#b4e2b4"/>
<rect x="229.35" y="41.45" width="5.25" height="3.66" fill="#fad2d4"/>
<rect x="234.00" y="41.45" width="5.25" height="3.66" fill="#64cc64"/>
<rect x="238.65" y="41.45" width="5.25" height="3.66" fill="#64cc64"/>
<rect x="243.30" y="41.45" width="5.25" height="3.66" fill="#fad2d4"/>
<rect x="247.95" y="41.45" width="5.25" height="3.66" fill="#ec1e1e"/>
<rect x="252.60" y="41.45" width="5.25" height="3.66" fill="#d6eed6"/>
<rect x="257.25" y="41.45" width="5.25" height="3.66" fill="#d6eed6"/>
<rect x="261.90" y="41.45" width="5.25" height="3.66" fill="#f6f8f6"/>
<rect x="266.55" y="41.45" width="5.25" height="3.66" fill="#fad2d4"/>
<rect x="271.20" y="41.45" width="5.25" height="3.66" fill="#fad2d4"/>
<rect x="275.85" y="41.45" width="5.25" height="3.66" fill="#b4e2b4"/>
<rect x="280.50" y="41.45" width="5.25" height="3.66" fill="#d6eed6"/>
<rect x="285.15" y="41.45" width="5.25" height="3.66" fill="#b4e2b4"/>
<rect x="289.80" y="41.45" width="5.25" height="3.66" fill="#f07878"/>
<rect x="294.45" y="41.45" width="4.65" height="3.66" fill="#f6f8f6"/>
<rect x="206.10" y="44.50" width="5.25" height="3.66" fill="#f07878"/>
<rect x="210.75" y="44.50" width="5.25" height="3.66" fill="#fad2d4"/>
<rect x="215.40" y="44.50" width="5.25" height="3.66" fill="#fad2d4"/>
<rect x="220.05" y="44.50" width="5.25" height="3.66" fill="#64cc64"/>
<rect x="224.70" y="44.50" width="5.25" height="3.66" fill="#f6f8f6"/>
<rect x="229.35" y="44.50" width="5.25" height="3.66" fill="#f6f8f6"/>
<rect x="234.00" y="44.50" width="5.25" height="3.66" fill="#64cc64"/>
<rect x="238.65" y="44.50" width="5.25" height="3.66" fill="#b4e2b4"/>
<rect x="243.30" y="44.50" width="5.25" height="3.66" fill="#fad2d4"/>
<rect x="247.95" y="44.50" width="5.25" height="3.66" fill="#ee4848"/>
<rect x="252.60" y="44.50" width="5.25" height="3.66" fill="#d6eed6"/>
<rect x="257.25" y="44.50" width="5.25" height="3.66" fill="#b4e2b4"/>
<rect x="261.90" y="44.50" width="5.25" height="3.66" fill="#f6f8f6"/>
<rect x="266.55" y="44.50" width="5.25" height="3.66" fill="#f6f8f6"/>
<rect x="271.20" y="44.50" width="5.25" height="3.66" fill="#b4e2b4"/>
<rect x="275.85" y="44.50" width="5.25" height="3.66" fill="#b4e2b4"/>
<rect x="280.50" y="44.50" width="5.25" height="3.66" fill="#d6eed6"/>
<rect x="285.15" y="44.50" width="5.25" height="3.66" fill="#64cc64"/>
<rect x="289.80" y="44.50" width="5.25" height="3.66" fill="#f6b6b6"/>
<rect x="294.45" y="44.50" width="4.65" height="3.66" fill="#f6f8f6"/>
<rect x="206.10" y="47.56" width="5.25" height="3.66" fill="#f07878"/>
<rect x="210.75" y="47.56" width="5.25" height="3.66" fill="#fad2d4"/>
<rect x="215.40" y="47.56" width="5.25" height="3.66" fill="#fad2d4"/>
<rect x="220.05" y="47.56" width="5.25" height="3.66" fill="#f6f8f6"/>
<rect x="224.70" y="47.56" width="5.25" height="3.66" fill="#f6f8f6"/>
<rect x="229.35" y="47.56" width="5.25" height="3.66" fill="#fad2d4"/>
<rect x="234.00" y="47.56" width="5.25" height="3.66" fill="#64cc64"/>
<rect x="238.65" y="47.56" width="5.25" height="3.66" fill="#d6eed6"/>
<rect x="243.30" y="47.56" width="5.25" height="3.66" fill="#f6f8f6"/>
<rect x="247.95" y="47.56" width="5.25" height="3.66" fill="#ee4848"/>
<rect x="252.60" y="47.56" width="5.25" height="3.66" fill="#f6f8f6"/>
<rect x="257.25" y="47.56" width="5.25" height="3.66" fill="#b4e2b4"/>
<rect x="261.90" y="47.56" width="5.25" height="3.66" fill="#fad2d4"/>
<rect x="266.55" y="47.56" width="5.25" height="3.66" fill="#f6f8f6"/>
<rect x="271.20" y="47.56" width="5.25" height="3.66" fill="#b4e2b4"/>
<rect x="275.85" y="47.56" width="5.25" height="3.66" fill="#64cc64"/>
<rect x="280.50" y="47.56" width="5.25" height="3.66" fill="#d6eed6"/>
<rect x="285.15" y="47.56" width="5.25" height="3.66" fill="#64cc64"/>
<rect x="289.80" y="47.56" width="5.25" height="3.66" fill="#f6b6b6"/>
<rect x="294.45" y="47.56" width="4.65" height="3.66" fill="#fad2d4"/>
<rect x="206.10" y="50.62" width="5.25" height="3.66" fill="#f07878"/>
<rect x="210.75" y="50.62" width="5.25" height="3.66" fill="#fad2d4"/>
<rect x="215.40" y="50.62" width="5.25" height="3.66" fill="#fad2d4"/>
<rect x="220.05" y="50.62" width="5.25" height="3.66" fill="#f6f8f6"/>
<rect x="224.70" y="50.62" width="5.25" height="3.66" fill="#f6f8f6"/>
<rect x="229.35" y="50.62" width="5.25" height="3.66" fill="#f6f8f6"/>
<rect x="234.00" y="50.62" width="5.25" height="3.66" fill="#d6eed6"/>
<rect x="238.65" y="50.62" width="5.25" height="3.66" fill="#0fbc0f"/>
<rect x="243.30" y="50.62" width="5.25" height="3.66" fill="#fad2d4"/>
<rect x="247.95" y="50.62" width="5.25" height="3.66" fill="#ee4848"/>
<rect x="252.60" y="50.62" width="5.25" height="3.66" fill="#f6f8f6"/>
<rect x="257.25" y="50.62" width="5.25" height="3.66" fill="#64cc64"/>
<rect x="261.90" y="50.62" width="5.25" height="3.66" fill="#fad2d4"/>
<rect x="266.55" y="50.62" width="5.25" height="3.66" fill="#fad2d4"/>
<rect x="271.20" y="50.62" width="5.25" height="3.66" fill="#b4e2b4"/>
<rect x="275.85" y="50.62" width="5.25" height="3.66" fill="#64cc64"/>
<rect x="280.50" y="50.62" width="5.25" height="3.66" fill="#d6eed6"/>
<rect x="285.15" y="50.62" width="5.25" height="3.66" fill="#64cc64"/>
<rect x="289.80" y="50.62" width="5.25" height="3.66" fill="#f6b6b6"/>
<rect x="294.45" y="50.62" width="4.65" height="3.66" fill="#f6f8f6"/>
<rect x="206.10" y="53.67" width="5.25" height="3.66" fill="#f07878"/>
<rect x="210.75" y="53.67" width="5.25" height="3.66" fill="#fad2d4"/>
<rect x="215.40" y="53.67" width="5.25" height="3.66" fill="#fad2d4"/>
<rect x="220.05" y="53.67" width="5.25" height="3.66" fill="#d6eed6"/>
<rect x="224.70" y="53.67" width="5.25" height="3.66" fill="#f6f8f6"/>
<rect x="229.35" y="53.67" width="5.25" height="3.66" fill="#f6f8f6"/>
<rect x="234.00" y="53.67" width="5.25" height="3.66" fill="#d6eed6"/>
<rect x="238.65" y="53.67" width="5.25" height="3.66" fill="#64cc64"/>
<rect x="243.30" y="53.67" width="5.25" height="3.66" fill="#fad2d4"/>
<rect x="247.95" y="53.67" width="5.25" height="3.66" fill="#ee4848"/>
<rect x="252.60" y="53.67" width="5.25" height="3.66" fill="#f6f8f6"/>
<rect x="257.25" y="53.67" width="5.25" height="3.66" fill="#0fbc0f"/>
<rect x="261.90" y="53.67" width="5.25" height="3.66" fill="#f6f8f6"/>
<rect x="266.55" y="53.67" width="5.25" height="3.66" fill="#f6f8f6"/>
<rect x="271.20" y="53.67" width="5.25" height="3.66" fill="#b4e2b4"/>
<rect x="275.85" y="53.67" width="5.25" height="3.66" fill="#b4e2b4"/>
<rect x="280.50" y="53.67" width="5.25" height="3.66" fill="#d6eed6"/>
<rect x="285.15" y="53.67" width="5.25" height="3.66" fill="#b4e2b4"/>
<rect x="289.80" y="53.67" width="5.25" height="3.66" fill="#f6b6b6"/>
<rect x="294.45" y="53.67" width="4.65" height="3.66" fill="#f6f8f6"/>
<rect x="206.10" y="56.73" width="5.25" height="3.66" fill="#f07878"/>
<rect x="210.75" y="56.73" width="5.25" height="3.66" fill="#f07878"/>
<rect x="215.40" y="56.73" width="5.25" height="3.66" fill="#f6b6b6"/>
<rect x="220.05" y="56.73" width="5.25" height="3.66" fill="#b4e2b4"/>
<rect x="224.70" y="56.73" width="5.25" height="3.66" fill="#b4e2b4"/>
<rect x="229.35" y="56.73" width="5.25" height="3.66" fill="#b4e2b4"/>
<rect x="234.00" y="56.73" width="5.25" height="3.66" fill="#b4e2b4"/>
<rect x="238.65" y="56.73" width="5.25" height="3.66" fill="#b4e2b4"/>
<rect x="243.30" y="56.73" width="5.25" height="3.66" fill="#f6b6b6"/>
<rect x="247.95" y="56.73" width="5.25" height="3.66" fill="#f6b6b6"/>
<rect x="252.60" y="56.73" width="5.25" height="3.66" fill="#b4e2b4"/>
<rect x="257.25" y="56.73" width="5.25" height="3.66" fill="#b4e2b4"/>
<rect x="261.90" y="56.73" width="5.25" height="3.66" fill="#f07878"/>
<rect x="266.55" y="56.73" width="5.25" height="3.66" fill="#b4e2b4"/>
<rect x="271.20" y="56.73" width="5.25" height="3.66" fill="#b4e2b4"/>
<rect x="275.85" y="56.73" width="5.25" height="3.66" fill="#b4e2b4"/>
<rect x="280.50" y="56.73" width="5.25" height="3.66" fill="#b4e2b4"/>
<rect x="285.15" y="56.73" width="5.25" height="3.66" fill="#b4e2b4"/>
<rect x="289.80" y="56.73" width="5.25" height="3.66" fill="#b4e2b4"/>
<rect x="294.45" y="56.73" width="4.65" height="3.66" fill="#b4e2b4"/>
<rect x="206.10" y="59.78" width="5.25" height="3.66" fill="#ec1e1e"/>
<rect x="210.75" y="59.78" width="5.25" height="3.66" fill="#f6b6b6"/>
<rect x="215.40" y="59.78" width="5.25" height="3.66" fill="#f6b6b6"/>
<rect x="220.05" y="59.78" width="5.25" height="3.66" fill="#b4e2b4"/>
<rect x="224.70" y="59.78" width="5.25" height="3.66" fill="#b4e2b4"/>
<rect x="229.35" y="59.78" width="5.25" height="3.66" fill="#b4e2b4"/>
<rect x="234.00" y="59.78" width="5.25" height="3.66" fill="#b4e2b4"/>
<rect x="238.65" y="59.78" width="5.25" height="3.66" fill="#b4e2b4"/>
<rect x="243.30" y="59.78" width="5.25" height="3.66" fill="#f6b6b6"/>
<rect x="247.95" y="59.78" width="5.25" height="3.66" fill="#f6b6b6"/>
<rect x="252.60" y="59.78" width="5.25" height="3.66" fill="#b4e2b4"/>
<rect x="257.25" y="59.78" width="5.25" height="3.66" fill="#b4e2b4"/>
<rect x="261.90" y="59.78" width="5.25" height="3.66" fill="#b4e2b4"/>
<rect x="266.55" y="59.78" width="5.25" height="3.66" fill="#b4e2b4"/>
<rect x="271.20" y="59.78" width="5.25" height="3.66" fill="#b4e2b4"/>
<rect x="275.85" y="59.78" width="5.25" height="3.66" fill="#b4e2b4"/>
<rect x="280.50" y="59.78" width="5.25" height="3.66" fill="#b4e2b4"/>
<rect x="285.15" y="59.78" width="5.25" height="3.66" fill="#b4e2b4"/>
<rect x="289.80" y="59.78" width="5.25" height="3.66" fill="#b4e2b4"/>
<rect x="294.45" y="59.78" width="4.65" height="3.66" fill="#b4e2b4"/>
<rect x="206.10" y="62.84" width="5.25" height="3.66" fill="#f39696"/>
<rect x="210.75" y="62.84" width="5.25" height="3.66" fill="#f6b6b6"/>
<rect x="215.40" y="62.84" width="5.25" height="3.66" fill="#f6b6b6"/>
<rect x="220.05" y="62.84" width="5.25" height="3.66" fill="#b4e2b4"/>
<rect x="224.70" y="62.84" width="5.25" height="3.66" fill="#b4e2b4"/>
<rect x="229.35" y="62.84" width="5.25" height="3.66" fill="#b4e2b4"/>
<rect x="234.00" y="62.84" width="5.25" height="3.66" fill="#b4e2b4"/>
<rect x="238.65" y="62.84" width="5.25" height="3.66" fill="#d6eed6"/>
<rect x="243.30" y="62.84" width="5.25" height="3.66" fill="#fad2d4"/>
<rect x="247.95" y="62.84" width="5.25" height="3.66" fill="#f07878"/>
<rect x="252.60" y="62.84" width="5.25" height="3.66" fill="#f6f8f6"/>
<rect x="257.25" y="62.84" width="5.25" height="3.66" fill="#b4e2b4"/>
<rect x="261.90" y="62.84" width="5.25" height="3.66" fill="#b4e2b4"/>
<rect x="266.55" y="62.84" width="5.25" height="3.66" fill="#fad2d4"/>
<rect x="271.20" y="62.84" width="5.25" height="3.66" fill="#f6b6b6"/>
<rect x="275.85" y="62.84" width="5.25" height="3.66" fill="#b4e2b4"/>
<rect x="280.50" y="62.84" width="5.25" height="3.66" fill="#f6b6b6"/>
<rect x="285.15" y="62.84" width="5.25" height="3.66" fill="#b4e2b4"/>
<rect x="289.80" y="62.84" width="5.25" height="3.66" fill="#b4e2b4"/>
<rect x="294.45" y="62.84" width="4.65" height="3.66" fill="#b4e2b4"/>
<rect x="206.10" y="65.90" width="5.25" height="3.66" fill="#f39696"/>
<rect x="210.75" y="65.90" width="5.25" height="3.66" fill="#fad2d4"/>
<rect x="215.40" y="65.90" width="5.25" height="3.66" fill="#fad2d4"/>
<rect x="220.05" y="65.90" width="5.25" height="3.66" fill="#d6eed6"/>
<rect x="224.70" y="65.90" width="5.25" height="3.66" fill="#fad2d4"/>
<rect x="229.35" y="65.90" width="5.25" height="3.66" fill="#64cc64"/>
<rect x="234.00" y="65.90" width="5.25" height="3.66" fill="#64cc64"/>
<rect x="238.65" y="65.90" width="5.25" height="3.66" fill="#f6f8f6"/>
<rect x="243.30" y="65.90" width="5.25" height="3.66" fill="#fad2d4"/>
<rect x="247.95" y="65.90" width="5.25" height="3.66" fill="#ee4848"/>
<rect x="252.60" y="65.90" width="5.25" height="3.66" fill="#fad2d4"/>
<rect x="257.25" y="65.90" width="5.25" height="3.66" fill="#64cc64"/>
<rect x="261.90" y="65.90" width="5.25" height="3.66" fill="#f6b6b6"/>
<rect x="266.55" y="65.90" width="5.25" height="3.66" fill="#d6eed6"/>
<rect x="271.20" y="65.90" width="5.25" height="3.66" fill="#b4e2b4"/>
<rect x="275.85" y="65.90" width="5.25" height="3.66" fill="#d6eed6"/>
<rect x="280.50" y="65.90" width="5.25" height="3.66" fill="#b4e2b4"/>
<rect x="285.15" y="65.90" width="5.25" height="3.66" fill="#d6eed6"/>
<rect x="289.80" y="65.90" width="5.25" height="3.66" fill="#f6f8f6"/>
<rect x="294.45" y="65.90" width="4.65" height="3.66" fill="#f6b6b6"/>
<rect x="206.10" y="68.95" width="5.25" height="3.66" fill="#f39696"/>
<rect x="210.75" y="68.95" width="5.25" height="3.66" fill="#f6f8f6"/>
<rect x="215.40" y="68.95" width="5.25" height="3.66" fill="#fad2d4"/>
<rect x="220.05" y="68.95" width="5.25" height="3.66" fill="#d6eed6"/>
<rect x="224.70" y="68.95" width="5.25" height="3.66" fill="#fad2d4"/>
<rect x="229.35" y="68.95" width="5.25" height="3.66" fill="#fad2d4"/>
<rect x="234.00" y="68.95" width="5.25" height="3.66" fill="#64cc64"/>
<rect x="238.65" y="68.95" width="5.25" height="3.66" fill="#f6f8f6"/>
<rect x="243.30" y="68.95" width="5.25" height="3.66" fill="#fad2d4"/>
<rect x="247.95" y="68.95" width="5.25" height="3.66" fill="#ee4848"/>
<rect x="252.60" y="68.95" width="5.25" height="3.66" fill="#f6f8f6"/>
<rect x="257.25" y="68.95" width="5.25" height="3.66" fill="#64cc64"/>
<rect x="261.90" y="68.95" width="5.25" height="3.66" fill="#fad2d4"/>
<rect x="266.55" y="68.95" width="5.25" height="3.66" fill="#b4e2b4"/>
<rect x="271.20" y="68.95" width="5.25" height="3.66" fill="#0fbc0f"/>
<rect x="275.85" y="68.95" width="5.25" height="3.66" fill="#d6eed6"/>
<rect x="280.50" y="68.95" width="5.25" height="3.66" fill="#0fbc0f"/>
<rect x="285.15" y="68.95" width="5.25" height="3.66" fill="#f6f8f6"/>
<rect x="289.80" y="68.95" width="5.25" height="3.66" fill="#f07878"/>
<rect x="294.45" y="68.95" width="4.65" height="3.66" fill="#fad2d4"/>
<rect x="206.10" y="72.01" width="5.25" height="3.66" fill="#f39696"/>
<rect x="210.75" y="72.01" width="5.25" height="3.66" fill="#f6f8f6"/>
<rect x="215.40" y="72.01" width="5.25" height="3.66" fill="#f6b6b6"/>
<rect x="220.05" y="72.01" width="5.25" height="3.66" fill="#64cc64"/>
<rect x="224.70" y="72.01" width="5.25" height="3.66" fill="#fad2d4"/>
<rect x="229.35" y="72.01" width="5.25" height="3.66" fill="#fad2d4"/>
<rect x="234.00" y="72.01" width="5.25" height="3.66" fill="#b4e2b4"/>
<rect x="238.65" y="72.01" width="5.25" height="3.66" fill="#d6eed6"/>
<rect x="243.30" y="72.01" width="5.25" height="3.66" fill="#fad2d4"/>
<rect x="247.95" y="72.01" width="5.25" height="3.66" fill="#ee4848"/>
<rect x="252.60" y="72.01" width="5.25" height="3.66" fill="#f6f8f6"/>
<rect x="257.25" y="72.01" width="5.25" height="3.66" fill="#b4e2b4"/>
<rect x="261.90" y="72.01" width="5.25" height="3.66" fill="#fad2d4"/>
<rect x="266.55" y="72.01" width="5.25" height="3.66" fill="#fad2d4"/>
<rect x="271.20" y="72.01" width="5.25" height="3.66" fill="#64cc64"/>
<rect x="275.85" y="72.01" width="5.25" height="3.66" fill="#64cc64"/>
<rect x="280.50" y="72.01" width="5.25" height="3.66" fill="#b4e2b4"/>
<rect x="285.15" y="72.01" width="5.25" height="3.66" fill="#f6f8f6"/>
<rect x="289.80" y="72.01" width="5.25" height="3.66" fill="#f6b6b6"/>
<rect x="294.45" y="72.01" width="4.65" height="3.66" fill="#f6f8f6"/>
<rect x="206.10" y="75.06" width="5.25" height="3.66" fill="#f39696"/>
<rect x="210.75" y="75.06" width="5.25" height="3.66" fill="#fad2d4"/>
<rect x="215.40" y="75.06" width="5.25" height="3.66" fill="#fad2d4"/>
<rect x="220.05" y="75.06" width="5.25" height="3.66" fill="#64cc64"/>
<rect x="224.70" y="75.06" width="5.25" height="3.66" fill="#f6b6b6"/>
<rect x="229.35" y="75.06" width="5.25" height="3.66" fill="#b4e2b4"/>
<rect x="234.00" y="75.06" width="5.25" height="3.66" fill="#b4e2b4"/>
<rect x="238.65" y="75.06" width="5.25" height="3.66" fill="#d6eed6"/>
<rect x="243.30" y="75.06" width="5.25" height="3.66" fill="#fad2d4"/>
<rect x="247.95" y="75.06" width="5.25" height="3.66" fill="#ee4848"/>
<rect x="252.60" y="75.06" width="5.25" height="3.66" fill="#fad2d4"/>
<rect x="257.25" y="75.06" width="5.25" height="3.66" fill="#b4e2b4"/>
<rect x="261.90" y="75.06" width="5.25" height="3.66" fill="#b4e2b4"/>
<rect x="266.55" y="75.06" width="5.25" height="3.66" fill="#f6b6b6"/>
<rect x="271.20" y="75.06" width="5.25" height="3.66" fill="#b4e2b4"/>
<rect x="275.85" y="75.06" width="5.25" height="3.66" fill="#b4e2b4"/>
<rect x="280.50" y="75.06" width="5.25" height="3.66" fill="#d6eed6"/>
<rect x="285.15" y="75.06" width="5.25" height="3.66" fill="#d6eed6"/>
<rect x="289.80" y="75.06" width="5.25" height="3.66" fill="#fad2d4"/>
<rect x="294.45" y="75.06" width="4.65" height="3.66" fill="#b4e2b4"/>
<rect x="206.10" y="78.12" width="5.25" height="3.66" fill="#f39696"/>
<rect x="210.75" y="78.12" width="5.25" height="3.66" fill="#fad2d4"/>
<rect x="215.40" y="78.12" width="5.25" height="3.66" fill="#f6f8f6"/>
<rect x="220.05" y="78.12" width="5.25" height="3.66" fill="#64cc64"/>
<rect x="224.70" y="78.12" width="5.25" height="3.66" fill="#fad2d4"/>
<rect x="229.35" y="78.12" width="5.25" height="3.66" fill="#f6f8f6"/>
<rect x="234.00" y="78.12" width="5.25" height="3.66" fill="#64cc64"/>
<rect x="238.65" y="78.12" width="5.25" height="3.66" fill="#f6f8f6"/>
<rect x="243.30" y="78.12" width="5.25" height="3.66" fill="#fad2d4"/>
<rect x="247.95" y="78.12" width="5.25" height="3.66" fill="#ee4848"/>
<rect x="252.60" y="78.12" width="5.25" height="3.66" fill="#fad2d4"/>
<rect x="257.25" y="78.12" width="5.25" height="3.66" fill="#64cc64"/>
<rect x="261.90" y="78.12" width="5.25" height="3.66" fill="#f6f8f6"/>
<rect x="266.55" y="78.12" width="5.25" height="3.66" fill="#f6b6b6"/>
<rect x="271.20" y="78.12" width="5.25" height="3.66" fill="#f6f8f6"/>
<rect x="275.85" y="78.12" width="5.25" height="3.66" fill="#f6f8f6"/>
<rect x="280.50" y="78.12" width="5.25" height="3.66" fill="#64cc64"/>
<rect x="285.15" y="78.12" width="5.25" height="3.66" fill="#fad2d4"/>
<rect x="289.80" y="78.12" width="5.25" height="3.66" fill="#64cc64"/>
<rect x="294.45" y="78.12" width="4.65" height="3.66" fill="#f6f8f6"/>
<rect x="206.10" y="81.18" width="5.25" height="3.66" fill="#f39696"/>
<rect x="210.75" y="81.18" width="5.25" height="3.66" fill="#f6f8f6"/>
<rect x="215.40" y="81.18" width="5.25" height="3.66" fill="#fad2d4"/>
<rect x="220.05" y="81.18" width="5.25" height="3.66" fill="#f6f8f6"/>
<rect x="224.70" y="81.18" width="5.25" height="3.66" fill="#fad2d4"/>
<rect x="229.35" y="81.18" width="5.25" height="3.66" fill="#fad2d4"/>
<rect x="234.00" y="81.18" width="5.25" height="3.66" fill="#b4e2b4"/>
<rect x="238.65" y="81.18" width="5.25" height="3.66" fill="#b4e2b4"/>
<rect x="243.30" y="81.18" width="5.25" height="3.66" fill="#fad2d4"/>
<rect x="247.95" y="81.18" width="5.25" height="3.66" fill="#ee4848"/>
<rect x="252.60" y="81.18" width="5.25" height="3.66" fill="#fad2d4"/>
<rect x="257.25" y="81.18" width="5.25" height="3.66" fill="#0fbc0f"/>
<rect x="261.90" y="81.18" width="5.25" height="3.66" fill="#fad2d4"/>
<rect x="266.55" y="81.18" width="5.25" height="3.66" fill="#d6eed6"/>
<rect x="271.20" y="81.18" width="5.25" height="3.66" fill="#d6eed6"/>
<rect x="275.85" y="81.18" width="5.25" height="3.66" fill="#b4e2b4"/>
<rect x="280.50" y="81.18" width="5.25" height="3.66" fill="#d6eed6"/>
<rect x="285.15" y="81.18" width="5.25" height="3.66" fill="#d6eed6"/>
<rect x="289.80" y="81.18" width="5.25" height="3.66" fill="#fad2d4"/>
<rect x="294.45" y="81.18" width="4.65" height="3.66" fill="#fad2d4"/>
<rect x="206.10" y="84.23" width="5.25" height="3.66" fill="#f39696"/>
<rect x="210.75" y="84.23" width="5.25" height="3.66" fill="#fad2d4"/>
<rect x="215.40" y="84.23" width="5.25" height="3.66" fill="#fad2d4"/>
<rect x="220.05" y="84.23" width="5.25" height="3.66" fill="#0fbc0f"/>
<rect x="224.70" y="84.23" width="5.25" height="3.66" fill="#fad2d4"/>
<rect x="229.35" y="84.23" width="5.25" height="3.66" fill="#fad2d4"/>
<rect x="234.00" y="84.23" width="5.25" height="3.66" fill="#d6eed6"/>
<rect x="238.65" y="84.23" width="5.25" height="3.66" fill="#b4e2b4"/>
<rect x="243.30" y="84.23" width="5.25" height="3.66" fill="#fad2d4"/>
<rect x="247.95" y="84.23" width="5.25" height="3.66" fill="#ee4848"/>
<rect x="252.60" y="84.23" width="5.25" height="3.66" fill="#fad2d4"/>
<rect x="257.25" y="84.23" width="5.25" height="3.66" fill="#64cc64"/>
<rect x="261.90" y="84.23" width="5.25" height="3.66" fill="#fad2d4"/>
<rect x="266.55" y="84.23" width="5.25" height="3.66" fill="#f6f8f6"/>
<rect x="271.20" y="84.23" width="5.25" height="3.66" fill="#fad2d4"/>
<rect x="275.85" y="84.23" width="5.25" height="3.66" fill="#0fbc0f"/>
<rect x="280.50" y="84.23" width="5.25" height="3.66" fill="#d6eed6"/>
<rect x="285.15" y="84.23" width="5.25" height="3.66" fill="#b4e2b4"/>
<rect x="289.80" y="84.23" width="5.25" height="3.66" fill="#fad2d4"/>
<rect x="294.45" y="84.23" width="4.65" height="3.66" fill="#fad2d4"/>
<rect x="206.10" y="87.29" width="5.25" height="3.66" fill="#f39696"/>
<rect x="210.75" y="87.29" width="5.25" height="3.66" fill="#fad2d4"/>
<rect x="215.40" y="87.29" width="5.25" height="3.66" fill="#fad2d4"/>
<rect x="220.05" y="87.29" width="5.25" height="3.66" fill="#64cc64"/>
<rect x="224.70" y="87.29" width="5.25" height="3.66" fill="#b4e2b4"/>
<rect x="229.35" y="87.29" width="5.25" height="3.66" fill="#f6b6b6"/>
<rect x="234.00" y="87.29" width="5.25" height="3.66" fill="#64cc64"/>
<rect x="238.65" y="87.29" width="5.25" height="3.66" fill="#f6f8f6"/>
<rect x="243.30" y="87.29" width="5.25" height="3.66" fill="#fad2d4"/>
<rect x="247.95" y="87.29" width="5.25" height="3.66" fill="#ee4848"/>
<rect x="252.60" y="87.29" width="5.25" height="3.66" fill="#fad2d4"/>
<rect x="257.25" y="87.29" width="5.25" height="3.66" fill="#64cc64"/>
<rect x="261.90" y="87.29" width="5.25" height="3.66" fill="#fad2d4"/>
<rect x="266.55" y="87.29" width="5.25" height="3.66" fill="#d6eed6"/>
<rect x="271.20" y="87.29" width="5.25" height="3.66" fill="#64cc64"/>
<rect x="275.85" y="87.29" width="5.25" height="3.66" fill="#64cc64"/>
<rect x="280.50" y="87.29" width="5.25" height="3.66" fill="#fad2d4"/>
<rect x="285.15" y="87.29" width="5.25" height="3.66" fill="#f6b6b6"/>
<rect x="289.80" y="87.29" width="5.25" height="3.66" fill="#f6b6b6"/>
<rect x="294.45" y="87.29" width="4.65" height="3.66" fill="#64cc64"/>
<rect x="206.10" y="90.34" width="5.25" height="3.66" fill="#f39696"/>
<rect x="210.75" y="90.34" width="5.25" height="3.66" fill="#f6b6b6"/>
<rect x="215.40" y="90.34" width="5.25" height="3.66" fill="#fad2d4"/>
<rect x="220.05" y="90.34" width="5.25" height="3.66" fill="#b4e2b4"/>
<rect x="224.70" y="90.34" width="5.25" height="3.66" fill="#b4e2b4"/>
<rect x="229.35" y="90.34" width="5.25" height="3.66" fill="#f6b6b6"/>
<rect x="234.00" y="90.34" width="5.25" height="3.66" fill="#b4e2b4"/>
<rect x="238.65" y="90.34" width="5.25" height="3.66" fill="#d6eed6"/>
<rect x="243.30" y="90.34" width="5.25" height="3.66" fill="#fad2d4"/>
<rect x="247.95" y="90.34" width="5.25" height="3.66" fill="#ee4848"/>
<rect x="252.60" y="90.34" width="5.25" height="3.66" fill="#fad2d4"/>
<rect x="257.25" y="90.34" width="5.25" height="3.66" fill="#64cc64"/>
<rect x="261.90" y="90.34" width="5.25" height="3.66" fill="#fad2d4"/>
<rect x="266.55" y="90.34" width="5.25" height="3.66" fill="#d6eed6"/>
<rect x="271.20" y="90.34" width="5.25" height="3.66" fill="#64cc64"/>
<rect x="275.85" y="90.34" width="5.25" height="3.66" fill="#64cc64"/>
<rect x="280.50" y="90.34" width="5.25" height="3.66" fill="#fad2d4"/>
<rect x="285.15" y="90.34" width="5.25" height="3.66" fill="#f6b6b6"/>
<rect x="289.80" y="90.34" width="5.25" height="3.66" fill="#f6b6b6"/>
<rect x="294.45" y="90.34" width="4.65" height="3.66" fill="#64cc64"/>
<rect x="206.10" y="93.40" width="5.25" height="3.66" fill="#ec1e1e"/>
<rect x="210.75" y="93.40" width="5.25" height="3.66" fill="#f07878"/>
<rect x="215.40" y="93.40" width="5.25" height="3.66" fill="#f07878"/>
<rect x="220.05" y="93.40" width="5.25" height="3.66" fill="#ec1e1e"/>
<rect x="224.70" y="93.40" width="5.25" height="3.66" fill="#b4e2b4"/>
<rect x="229.35" y="93.40" width="5.25" height="3.66" fill="#b4e2b4"/>
<rect x="234.00" y="93.40" width="5.25" height="3.66" fill="#b4e2b4"/>
<rect x="238.65" y="93.40" width="5.25" height="3.66" fill="#b4e2b4"/>
<rect x="243.30" y="93.40" width="5.25" height="3.66" fill="#b4e2b4"/>
<rect x="247.95" y="93.40" width="5.25" height="3.66" fill="#b4e2b4"/>
<rect x="252.60" y="93.40" width="5.25" height="3.66" fill="#b4e2b4"/>
<rect x="257.25" y="93.40" width="5.25" height="3.66" fill="#b4e2b4"/>
<rect x="261.90" y="93.40" width="5.25" height="3.66" fill="#b4e2b4"/>
<rect x="266.55" y="93.40" width="5.25" height="3.66" fill="#b4e2b4"/>
<rect x="271.20" y="93.40" width="5.25" height="3.66" fill="#b4e2b4"/>
<rect x="275.85" y="93.40" width="5.25" height="3.66" fill="#b4e2b4"/>
<rect x="280.50" y="93.40" width="5.25" height="3.66" fill="#b4e2b4"/>
<rect x="285.15" y="93.40" width="5.25" height="3.66" fill="#b4e2b4"/>
<rect x="289.80" y="93.40" width="5.25" height="3.66" fill="#b4e2b4"/>
<rect x="294.45" y="93.40" width="4.65" height="3.66" fill="#b4e2b4"/>
<rect x="206.10" y="96.46" width="5.25" height="3.66" fill="#f07878"/>
<rect x="210.75" y="96.46" width="5.25" height="3.66" fill="#d6eed6"/>
<rect x="215.40" y="96.46" width="5.25" height="3.66" fill="#d6eed6"/>
<rect x="220.05" y="96.46" width="5.25" height="3.66" fill="#ec1e1e"/>
<rect x="224.70" y="96.46" width="5.25" height="3.66" fill="#d6eed6"/>
<rect x="229.35" y="96.46" width="5.25" height="3.66" fill="#f07878"/>
<rect x="234.00" y="96.46" width="5.25" height="3.66" fill="#d6eed6"/>
<rect x="238.65" y="96.46" width="5.25" height="3.66" fill="#fad2d4"/>
<rect x="243.30" y="96.46" width="5.25" height="3.66" fill="#b4e2b4"/>
<rect x="247.95" y="96.46" width="5.25" height="3.66" fill="#b4e2b4"/>
<rect x="252.60" y="96.46" width="5.25" height="3.66" fill="#b4e2b4"/>
<rect x="257.25" y="96.46" width="5.25" height="3.66" fill="#b4e2b4"/>
<rect x="261.90" y="96.46" width="5.25" height="3.66" fill="#b4e2b4"/>
<rect x="266.55" y="96.46" width="5.25" height="3.66" fill="#b4e2b4"/>
<rect x="271.20" y="96.46" width="5.25" height="3.66" fill="#b4e2b4"/>
<rect x="275.85" y="96.46" width="5.25" height="3.66" fill="#b4e2b4"/>
<rect x="280.50" y="96.46" width="5.25" height="3.66" fill="#b4e2b4"/>
<rect x="285.15" y="96.46" width="5.25" height="3.66" fill="#b4e2b4"/>
<rect x="289.80" y="96.46" width="5.25" height="3.66" fill="#b4e2b4"/>
<rect x="294.45" y="96.46" width="4.65" height="3.66" fill="#b4e2b4"/>
<rect x="206.10" y="99.51" width="5.25" height="3.66" fill="#f07878"/>
<rect x="210.75" y="99.51" width="5.25" height="3.66" fill="#b4e2b4"/>
<rect x="215.40" y="99.51" width="5.25" height="3.66" fill="#d6eed6"/>
<rect x="220.05" y="99.51" width="5.25" height="3.66" fill="#f07878"/>
<rect x="224.70" y="99.51" width="5.25" height="3.66" fill="#ec1e1e"/>
<rect x="229.35" y="99.51" width="5.25" height="3.66" fill="#d6eed6"/>
<rect x="234.00" y="99.51" width="5.25" height="3.66" fill="#b4e2b4"/>
<rect x="238.65" y="99.51" width="5.25" height="3.66" fill="#fad2d4"/>
<rect x="243.30" y="99.51" width="5.25" height="3.66" fill="#b4e2b4"/>
<rect x="247.95" y="99.51" width="5.25" height="3.66" fill="#fad2d4"/>
<rect x="252.60" y="99.51" width="5.25" height="3.66" fill="#b4e2b4"/>
<rect x="257.25" y="99.51" width="5.25" height="3.66" fill="#b4e2b4"/>
<rect x="261.90" y="99.51" width="5.25" height="3.66" fill="#b4e2b4"/>
<rect x="266.55" y="99.51" width="5.25" height="3.66" fill="#b4e2b4"/>
<rect x="271.20" y="99.51" width="5.25" height="3.66" fill="#b4e2b4"/>
<rect x="275.85" y="99.51" width="5.25" height="3.66" fill="#b4e2b4"/>
<rect x="280.50" y="99.51" width="5.25" height="3.66" fill="#b4e2b4"/>
<rect x="285.15" y="99.51" width="5.25" height="3.66" fill="#b4e2b4"/>
<rect x="289.80" y="99.51" width="5.25" height="3.66" fill="#b4e2b4"/>
<rect x="294.45" y="99.51" width="4.65" height="3.66" fill="#b4e2b4"/>
<rect x="206.10" y="102.57" width="5.25" height="3.66" fill="#b4e2b4"/>
<rect x="210.75" y="102.57" width="5.25" height="3.66" fill="#b4e2b4"/>
<rect x="215.40" y="102.57" width="5.25" height="3.66" fill="#f07878"/>
<rect x="220.05" y="102.57" width="5.25" height="3.66" fill="#ec1e1e"/>
<rect x="224.70" y="102.57" width="5.25" height="3.66" fill="#d6eed6"/>
<rect x="229.35" y="102.57" width="5.25" height="3.66" fill="#f07878"/>
<rect x="234.00" y="102.57" width="5.25" height="3.66" fill="#ec1e1e"/>
<rect x="238.65" y="102.57" width="5.25" height="3.66" fill="#d6eed6"/>
<rect x="243.30" y="102.57" width="5.25" height="3.66" fill="#b4e2b4"/>
<rect x="247.95" y="102.57" width="5.25" height="3.66" fill="#b4e2b4"/>
<rect x="252.60" y="102.57" width="5.25" height="3.66" fill="#b4e2b4"/>
<rect x="257.25" y="102.57" width="5.25" height="3.66" fill="#b4e2b4"/>
<rect x="261.90" y="102.57" width="5.25" height="3.66" fill="#b4e2b4"/>
<rect x="266.55" y="102.57" width="5.25" height="3.66" fill="#b4e2b4"/>
<rect x="271.20" y="102.57" width="5.25" height="3.66" fill="#b4e2b4"/>
<rect x="275.85" y="102.57" width="5.25" height="3.66" fill="#b4e2b4"/>
<rect x="280.50" y="102.57" width="5.25" height="3.66" fill="#b4e2b4"/>
<rect x="285.15" y="102.57" width="5.25" height="3.66" fill="#b4e2b4"/>
<rect x="289.80" y="102.57" width="5.25" height="3.66" fill="#b4e2b4"/>
<rect x="294.45" y="102.57" width="4.65" height="3.66" fill="#b4e2b4"/>
<rect x="206.10" y="105.62" width="5.25" height="3.66" fill="#fad2d4"/>
<rect x="210.75" y="105.62" width="5.25" height="3.66" fill="#fad2d4"/>
<rect x="215.40" y="105.62" width="5.25" height="3.66" fill="#fad2d4"/>
<rect x="220.05" y="105.62" width="5.25" height="3.66" fill="#fad2d4"/>
<rect x="224.70" y="105.62" width="5.25" height="3.66" fill="#d6eed6"/>
<rect x="229.35" y="105.62" width="5.25" height="3.66" fill="#d6eed6"/>
<rect x="234.00" y="105.62" width="5.25" height="3.66" fill="#0fbc0f"/>
<rect x="238.65" y="105.62" width="5.25" height="3.66" fill="#fad2d4"/>
<rect x="243.30" y="105.62" width="5.25" height="3.66" fill="#fad2d4"/>
<rect x="247.95" y="105.62" width="5.25" height="3.66" fill="#f6f8f6"/>
<rect x="252.60" y="105.62" width="5.25" height="3.66" fill="#f6f8f6"/>
<rect x="257.25" y="105.62" width="5.25" height="3.66" fill="#f6b6b6"/>
<rect x="261.90" y="105.62" width="5.25" height="3.66" fill="#b4e2b4"/>
<rect x="266.55" y="105.62" width="5.25" height="3.66" fill="#f6f8f6"/>
<rect x="271.20" y="105.62" width="5.25" height="3.66" fill="#b4e2b4"/>
<rect x="275.85" y="105.62" width="5.25" height="3.66" fill="#f6f8f6"/>
<rect x="280.50" y="105.62" width="5.25" height="3.66" fill="#b4e2b4"/>
<rect x="285.15" y="105.62" width="5.25" height="3.66" fill="#f6b6b6"/>
<rect x="289.80" y="105.62" width="5.25" height="3.66" fill="#f6f8f6"/>
<rect x="294.45" y="105.62" width="4.65" height="3.66" fill="#b4e2b4"/>
<rect x="206.10" y="108.68" width="5.25" height="3.66" fill="#b4e2b4"/>
<rect x="210.75" y="108.68" width="5.25" height="3.66" fill="#f6b6b6"/>
<rect x="215.40" y="108.68" width="5.25" height="3.66" fill="#ec1e1e"/>
<rect x="220.05" y="108.68" width="5.25" height="3.66" fill="#b4e2b4"/>
<rect x="224.70" y="108.68" width="5.25" height="3.66" fill="#f07878"/>
<rect x="229.35" y="108.68" width="5.25" height="3.66" fill="#b4e2b4"/>
<rect x="234.00" y="108.68" width="5.25" height="3.66" fill="#d6eed6"/>
<rect x="238.65" y="108.68" width="5.25" height="3.66" fill="#fad2d4"/>
<rect x="243.30" y="108.68" width="5.25" height="3.66" fill="#f6f8f6"/>
<rect x="247.95" y="108.68" width="5.25" height="3.66" fill="#f6b6b6"/>
<rect x="252.60" y="108.68" width="5.25" height="3.66" fill="#b4e2b4"/>
<rect x="257.25" y="108.68" width="5.25" height="3.66" fill="#b4e2b4"/>
<rect x="261.90" y="108.68" width="5.25" height="3.66" fill="#b4e2b4"/>
<rect x="266.55" y="108.68" width="5.25" height="3.66" fill="#b4e2b4"/>
<rect x="271.20" y="108.68" width="5.25" height="3.66" fill="#b4e2b4"/>
<rect x="275.85" y="108.68" width="5.25" height="3.66" fill="#b4e2b4"/>
<rect x="280.50" y="108.68" width="5.25" height="3.66" fill="#b4e2b4"/>
<rect x="285.15" y="108.68" width="5.25" height="3.66" fill="#b4e2b4"/>
<rect x="289.80" y="108.68" width="5.25" height="3.66" fill="#b4e2b4"/>
<rect x="294.45" y="108.68" width="4.65" height="3.66" fill="#b4e2b4"/>
<rect x="206.10" y="111.74" width="5.25" height="3.66" fill="#fad2d4"/>
<rect x="210.75" y="111.74" width="5.25" height="3.66" fill="#fad2d4"/>
<rect x="215.40" y="111.74" width="5.25" height="3.66" fill="#fad2d4"/>
<rect x="220.05" y="111.74" width="5.25" height="3.66" fill="#fad2d4"/>
<rect x="224.70" y="111.74" width="5.25" height="3.66" fill="#fad2d4"/>
<rect x="229.35" y="111.74" width="5.25" height="3.66" fill="#f6f8f6"/>
<rect x="234.00" y="111.74" width="5.25" height="3.66" fill="#fad2d4"/>
<rect x="238.65" y="111.74" width="5.25" height="3.66" fill="#d6eed6"/>
<rect x="243.30" y="111.74" width="5.25" height="3.66" fill="#d6eed6"/>
<rect x="247.95" y="111.74" width="5.25" height="3.66" fill="#f6b6b6"/>
<rect x="252.60" y="111.74" width="5.25" height="3.66" fill="#b4e2b4"/>
<rect x="257.25" y="111.74" width="5.25" height="3.66" fill="#fad2d4"/>
<rect x="261.90" y="111.74" width="5.25" height="3.66" fill="#d6eed6"/>
<rect x="266.55" y="111.74" width="5.25" height="3.66" fill="#d6eed6"/>
<rect x="271.20" y="111.74" width="5.25" height="3.66" fill="#f6f8f6"/>
<rect x="275.85" y="111.74" width="5.25" height="3.66" fill="#64cc64"/>
<rect x="280.50" y="111.74" width="5.25" height="3.66" fill="#64cc64"/>
<rect x="285.15" y="111.74" width="5.25" height="3.66" fill="#d6eed6"/>
<rect x="289.80" y="111.74" width="5.25" height="3.66" fill="#fad2d4"/>
<rect x="294.45" y="111.74" width="4.65" height="3.66" fill="#64cc64"/>
<rect x="206.10" y="114.79" width="5.25" height="3.66" fill="#fad2d4"/>
<rect x="210.75" y="114.79" width="5.25" height="3.66" fill="#fad2d4"/>
<rect x="215.40" y="114.79" width="5.25" height="3.66" fill="#fad2d4"/>
<rect x="220.05" y="114.79" width="5.25" height="3.66" fill="#fad2d4"/>
<rect x="224.70" y="114.79" width="5.25" height="3.66" fill="#fad2d4"/>
<rect x="229.35" y="114.79" width="5.25" height="3.66" fill="#fad2d4"/>
<rect x="234.00" y="114.79" width="5.25" height="3.66" fill="#f6b6b6"/>
<rect x="238.65" y="114.79" width="5.25" height="3.66" fill="#d6eed6"/>
<rect x="243.30" y="114.79" width="5.25" height="3.66" fill="#d6eed6"/>
<rect x="247.95" y="114.79" width="5.25" height="3.66" fill="#fad2d4"/>
<rect x="252.60" y="114.79" width="5.25" height="3.66" fill="#b4e2b4"/>
<rect x="257.25" y="114.79" width="5.25" height="3.66" fill="#64cc64"/>
<rect x="261.90" y="114.79" width="5.25" height="3.66" fill="#64cc64"/>
<rect x="266.55" y="114.79" width="5.25" height="3.66" fill="#f6f8f6"/>
<rect x="271.20" y="114.79" width="5.25" height="3.66" fill="#64cc64"/>
<rect x="275.85" y="114.79" width="5.25" height="3.66" fill="#64cc64"/>
<rect x="280.50" y="114.79" width="5.25" height="3.66" fill="#fad2d4"/>
<rect x="285.15" y="114.79" width="5.25" height="3.66" fill="#f6f8f6"/>
<rect x="289.80" y="114.79" width="5.25" height="3.66" fill="#f6b6b6"/>
<rect x="294.45" y="114.79" width="4.65" height="3.66" fill="#f6f8f6"/>
<rect x="206.10" y="117.85" width="5.25" height="3.66" fill="#f6b6b6"/>
<rect x="210.75" y="117.85" width="5.25" height="3.66" fill="#f6b6b6"/>
<rect x="215.40" y="117.85" width="5.25" height="3.66" fill="#64cc64"/>
<rect x="220.05" y="117.85" width="5.25" height="3.66" fill="#f6b6b6"/>
<rect x="224.70" y="117.85" width="5.25" height="3.66" fill="#f6b6b6"/>
<rect x="229.35" y="117.85" width="5.25" height="3.66" fill="#f6f8f6"/>
<rect x="234.00" y="117.85" width="5.25" height="3.66" fill="#64cc64"/>
<rect x="238.65" y="117.85" width="5.25" height="3.66" fill="#d6eed6"/>
<rect x="243.30" y="117.85" width="5.25" height="3.66" fill="#fad2d4"/>
<rect x="247.95" y="117.85" width="5.25" height="3.66" fill="#f6b6b6"/>
<rect x="252.60" y="117.85" width="5.25" height="3.66" fill="#fad2d4"/>
<rect x="257.25" y="117.85" width="5.25" height="3.66" fill="#64cc64"/>
<rect x="261.90" y="117.85" width="5.25" height="3.66" fill="#64cc64"/>
<rect x="266.55" y="117.85" width="5.25" height="3.66" fill="#fad2d4"/>
<rect x="271.20" y="117.85" width="5.25" height="3.66" fill="#64cc64"/>
<rect x="275.85" y="117.85" width="5.25" height="3.66" fill="#64cc64"/>
<rect x="280.50" y="117.85" width="5.25" height="3.66" fill="#fad2d4"/>
<rect x="285.15" y="117.85" width="5.25" height="3.66" fill="#fad2d4"/>
<rect x="289.80" y="117.85" width="5.25" height="3.66" fill="#fad2d4"/>
<rect x="294.45" y="117.85" width="4.65" height="3.66" fill="#b4e2b4"/>
<rect x="206.10" y="120.90" width="5.25" height="3.66" fill="#f07878"/>
<rect x="210.75" y="120.90" width="5.25" height="3.66" fill="#f6b6b6"/>
<rect x="215.40" y="120.90" width="5.25" height="3.66" fill="#b4e2b4"/>
<rect x="220.05" y="120.90" width="5.25" height="3.66" fill="#f6b6b6"/>
<rect x="224.70" y="120.90" width="5.25" height="3.66" fill="#b4e2b4"/>
<rect x="229.35" y="120.90" width="5.25" height="3.66" fill="#b4e2b4"/>
<rect x="234.00" y="120.90" width="5.25" height="3.66" fill="#f07878"/>
<rect x="238.65" y="120.90" width="5.25" height="3.66" fill="#f6f8f6"/>
<rect x="243.30" y="120.90" width="5.25" height="3.66" fill="#d6eed6"/>
<rect x="247.95" y="120.90" width="5.25" height="3.66" fill="#f07878"/>
<rect x="252.60" y="120.90" width="5.25" height="3.66" fill="#f6f8f6"/>
<rect x="257.25" y="120.90" width="5.25" height="3.66" fill="#d6eed6"/>
<rect x="261.90" y="120.90" width="5.25" height="3.66" fill="#b4e2b4"/>
<rect x="266.55" y="120.90" width="5.25" height="3.66" fill="#fad2d4"/>
<rect x="271.20" y="120.90" width="5.25" height="3.66" fill="#b4e2b4"/>
<rect x="275.85" y="120.90" width="5.25" height="3.66" fill="#b4e2b4"/>
<rect x="280.50" y="120.90" width="5.25" height="3.66" fill="#d6eed6"/>
<rect x="285.15" y="120.90" width="5.25" height="3.66" fill="#d6eed6"/>
<rect x="289.80" y="120.90" width="5.25" height="3.66" fill="#d6eed6"/>
<rect x="294.45" y="120.90" width="4.65" height="3.66" fill="#b4e2b4"/>
<rect x="206.10" y="123.96" width="5.25" height="3.66" fill="#f07878"/>
<rect x="210.75" y="123.96" width="5.25" height="3.66" fill="#f6b6b6"/>
<rect x="215.40" y="123.96" width="5.25" height="3.66" fill="#64cc64"/>
<rect x="220.05" y="123.96" width="5.25" height="3.66" fill="#f6f8f6"/>
<rect x="224.70" y="123.96" width="5.25" height="3.66" fill="#64cc64"/>
<rect x="229.35" y="123.96" width="5.25" height="3.66" fill="#fad2d4"/>
<rect x="234.00" y="123.96" width="5.25" height="3.66" fill="#fad2d4"/>
<rect x="238.65" y="123.96" width="5.25" height="3.66" fill="#64cc64"/>
<rect x="243.30" y="123.96" width="5.25" height="3.66" fill="#fad2d4"/>
<rect x="247.95" y="123.96" width="5.25" height="3.66" fill="#f07878"/>
<rect x="252.60" y="123.96" width="5.25" height="3.66" fill="#f6f8f6"/>
<rect x="257.25" y="123.96" width="5.25" height="3.66" fill="#b4e2b4"/>
<rect x="261.90" y="123.96" width="5.25" height="3.66" fill="#64cc64"/>
<rect x="266.55" y="123.96" width="5.25" height="3.66" fill="#f6f8f6"/>
<rect x="271.20" y="123.96" width="5.25" height="3.66" fill="#fad2d4"/>
<rect x="275.85" y="123.96" width="5.25" height="3.66" fill="#b4e2b4"/>
<rect x="280.50" y="123.96" width="5.25" height="3.66" fill="#fad2d4"/>
<rect x="285.15" y="123.96" width="5.25" height="3.66" fill="#fad2d4"/>
<rect x="289.80" y="123.96" width="5.25" height="3.66" fill="#d6eed6"/>
<rect x="294.45" y="123.96" width="4.65" height="3.66" fill="#b4e2b4"/>
<rect x="206.10" y="127.02" width="5.25" height="3.66" fill="#f6b6b6"/>
<rect x="210.75" y="127.02" width="5.25" height="3.66" fill="#fad2d4"/>
<rect x="215.40" y="127.02" width="5.25" height="3.66" fill="#d6eed6"/>
<rect x="220.05" y="127.02" width="5.25" height="3.66" fill="#b4e2b4"/>
<rect x="224.70" y="127.02" width="5.25" height="3.66" fill="#fad2d4"/>
<rect x="229.35" y="127.02" width="5.25" height="3.66" fill="#b4e2b4"/>
<rect x="234.00" y="127.02" width="5.25" height="3.66" fill="#d6eed6"/>
<rect x="238.65" y="127.02" width="5.25" height="3.66" fill="#d6eed6"/>
<rect x="243.30" y="127.02" width="5.25" height="3.66" fill="#b4e2b4"/>
<rect x="247.95" y="127.02" width="5.25" height="3.66" fill="#fad2d4"/>
<rect x="252.60" y="127.02" width="5.25" height="3.66" fill="#fad2d4"/>
<rect x="257.25" y="127.02" width="5.25" height="3.66" fill="#d6eed6"/>
<rect x="261.90" y="127.02" width="5.25" height="3.66" fill="#b4e2b4"/>
<rect x="266.55" y="127.02" width="5.25" height="3.66" fill="#d6eed6"/>
<rect x="271.20" y="127.02" width="5.25" height="3.66" fill="#d6eed6"/>
<rect x="275.85" y="127.02" width="5.25" height="3.66" fill="#d6eed6"/>
<rect x="280.50" y="127.02" width="5.25" height="3.66" fill="#ec1e1e"/>
<rect x="285.15" y="127.02" width="5.25" height="3.66" fill="#f6f8f6"/>
<rect x="289.80" y="127.02" width="5.25" height="3.66" fill="#d6eed6"/>
<rect x="294.45" y="127.02" width="4.65" height="3.66" fill="#d6eed6"/>
<rect x="206.10" y="130.07" width="5.25" height="3.66" fill="#d6eed6"/>
<rect x="210.75" y="130.07" width="5.25" height="3.66" fill="#f6f8f6"/>
<rect x="215.40" y="130.07" width="5.25" height="3.66" fill="#b4e2b4"/>
<rect x="220.05" y="130.07" width="5.25" height="3.66" fill="#0fbc0f"/>
<rect x="224.70" y="130.07" width="5.25" height="3.66" fill="#f6f8f6"/>
<rect x="229.35" y="130.07" width="5.25" height="3.66" fill="#0fbc0f"/>
<rect x="234.00" y="130.07" width="5.25" height="3.66" fill="#f6f8f6"/>
<rect x="238.65" y="130.07" width="5.25" height="3.66" fill="#d6eed6"/>
<rect x="243.30" y="130.07" width="5.25" height="3.66" fill="#f6f8f6"/>
<rect x="247.95" y="130.07" width="5.25" height="3.66" fill="#0fbc0f"/>
<rect x="252.60" y="130.07" width="5.25" height="3.66" fill="#d6eed6"/>
<rect x="257.25" y="130.07" width="5.25" height="3.66" fill="#fad2d4"/>
<rect x="261.90" y="130.07" width="5.25" height="3.66" fill="#d6eed6"/>
<rect x="266.55" y="130.07" width="5.25" height="3.66" fill="#fad2d4"/>
<rect x="271.20" y="130.07" width="5.25" height="3.66" fill="#fad2d4"/>
<rect x="275.85" y="130.07" width="5.25" height="3.66" fill="#f6b6b6"/>
<rect x="280.50" y="130.07" width="5.25" height="3.66" fill="#fad2d4"/>
<rect x="285.15" y="130.07" width="5.25" height="3.66" fill="#f6b6b6"/>
<rect x="289.80" y="130.07" width="5.25" height="3.66" fill="#fad2d4"/>
<rect x="294.45" y="130.07" width="4.65" height="3.66" fill="#fad2d4"/>
<rect x="206.10" y="133.13" width="5.25" height="3.66" fill="#b4e2b4"/>
<rect x="210.75" y="133.13" width="5.25" height="3.66" fill="#b4e2b4"/>
<rect x="215.40" y="133.13" width="5.25" height="3.66" fill="#b4e2b4"/>
<rect x="220.05" y="133.13" width="5.25" height="3.66" fill="#b4e2b4"/>
<rect x="224.70" y="133.13" width="5.25" height="3.66" fill="#b4e2b4"/>
<rect x="229.35" y="133.13" width="5.25" height="3.66" fill="#b4e2b4"/>
<rect x="234.00" y="133.13" width="5.25" height="3.66" fill="#d6eed6"/>
<rect x="238.65" y="133.13" width="5.25" height="3.66" fill="#d6eed6"/>
<rect x="243.30" y="133.13" width="5.25" height="3.66" fill="#d6eed6"/>
<rect x="247.95" y="133.13" width="5.25" height="3.66" fill="#b4e2b4"/>
<rect x="252.60" y="133.13" width="5.25" height="3.66" fill="#d6eed6"/>
<rect x="257.25" y="133.13" width="5.25" height="3.66" fill="#d6eed6"/>
<rect x="261.90" y="133.13" width="5.25" height="3.66" fill="#d6eed6"/>
<rect x="266.55" y="133.13" width="5.25" height="3.66" fill="#d6eed6"/>
<rect x="271.20" y="133.13" width="5.25" height="3.66" fill="#d6eed6"/>
<rect x="275.85" y="133.13" width="5.25" height="3.66" fill="#ec1e1e"/>
<rect x="280.50" y="133.13" width="5.25" height="3.66" fill="#d6eed6"/>
<rect x="285.15" y="133.13" width="5.25" height="3.66" fill="#ec1e1e"/>
<rect x="289.80" y="133.13" width="5.25" height="3.66" fill="#d6eed6"/>
<rect x="294.45" y="133.13" width="4.65" height="3.66" fill="#d6eed6"/>
<rect x="206.10" y="136.18" width="5.25" height="3.66" fill="#b4e2b4"/>
<rect x="210.75" y="136.18" width="5.25" height="3.66" fill="#b4e2b4"/>
<rect x="215.40" y="136.18" width="5.25" height="3.66" fill="#b4e2b4"/>
<rect x="220.05" y="136.18" width="5.25" height="3.66" fill="#b4e2b4"/>
<rect x="224.70" y="136.18" width="5.25" height="3.66" fill="#b4e2b4"/>
<rect x="229.35" y="136.18" width="5.25" height="3.66" fill="#b4e2b4"/>
<rect x="234.00" y="136.18" width="5.25" height="3.66" fill="#b4e2b4"/>
<rect x="238.65" y="136.18" width="5.25" height="3.66" fill="#b4e2b4"/>
<rect x="243.30" y="136.18" width="5.25" height="3.66" fill="#f6f8f6"/>
<rect x="247.95" y="136.18" width="5.25" height="3.66" fill="#fad2d4"/>
<rect x="252.60" y="136.18" width="5.25" height="3.66" fill="#d6eed6"/>
<rect x="257.25" y="136.18" width="5.25" height="3.66" fill="#fad2d4"/>
<rect x="261.90" y="136.18" width="5.25" height="3.66" fill="#d6eed6"/>
<rect x="266.55" y="136.18" width="5.25" height="3.66" fill="#fad2d4"/>
<rect x="271.20" y="136.18" width="5.25" height="3.66" fill="#d6eed6"/>
<rect x="275.85" y="136.18" width="5.25" height="3.66" fill="#d6eed6"/>
<rect x="280.50" y="136.18" width="5.25" height="3.66" fill="#f6b6b6"/>
<rect x="285.15" y="136.18" width="5.25" height="3.66" fill="#ec1e1e"/>
<rect x="289.80" y="136.18" width="5.25" height="3.66" fill="#f6b6b6"/>
<rect x="294.45" y="136.18" width="4.65" height="3.66" fill="#d6eed6"/>
<rect x="206.10" y="139.24" width="5.25" height="3.66" fill="#b4e2b4"/>
<rect x="210.75" y="139.24" width="5.25" height="3.66" fill="#b4e2b4"/>
<rect x="215.40" y="139.24" width="5.25" height="3.66" fill="#b4e2b4"/>
<rect x="220.05" y="139.24" width="5.25" height="3.66" fill="#b4e2b4"/>
<rect x="224.70" y="139.24" width="5.25" height="3.66" fill="#b4e2b4"/>
<rect x="229.35" y="139.24" width="5.25" height="3.66" fill="#b4e2b4"/>
<rect x="234.00" y="139.24" width="5.25" height="3.66" fill="#b4e2b4"/>
<rect x="238.65" y="139.24" width="5.25" height="3.66" fill="#b4e2b4"/>
<rect x="243.30" y="139.24" width="5.25" height="3.66" fill="#b4e2b4"/>
<rect x="247.95" y="139.24" width="5.25" height="3.66" fill="#b4e2b4"/>
<rect x="252.60" y="139.24" width="5.25" height="3.66" fill="#d6eed6"/>
<rect x="257.25" y="139.24" width="5.25" height="3.66" fill="#fad2d4"/>
<rect x="261.90" y="139.24" width="5.25" height="3.66" fill="#f07878"/>
<rect x="266.55" y="139.24" width="5.25" height="3.66" fill="#f07878"/>
<rect x="271.20" y="139.24" width="5.25" height="3.66" fill="#d6eed6"/>
<rect x="275.85" y="139.24" width="5.25" height="3.66" fill="#f07878"/>
<rect x="280.50" y="139.24" width="5.25" height="3.66" fill="#f07878"/>
<rect x="285.15" y="139.24" width="5.25" height="3.66" fill="#d6eed6"/>
<rect x="289.80" y="139.24" width="5.25" height="3.66" fill="#d6eed6"/>
<rect x="294.45" y="139.24" width="4.65" height="3.66" fill="#d6eed6"/>
<rect x="206.10" y="142.30" width="5.25" height="3.66" fill="#b4e2b4"/>
<rect x="210.75" y="142.30" width="5.25" height="3.66" fill="#fad2d4"/>
<rect x="215.40" y="142.30" width="5.25" height="3.66" fill="#f6f8f6"/>
<rect x="220.05" y="142.30" width="5.25" height="3.66" fill="#64cc64"/>
<rect x="224.70" y="142.30" width="5.25" height="3.66" fill="#fad2d4"/>
<rect x="229.35" y="142.30" width="5.25" height="3.66" fill="#d6eed6"/>
<rect x="234.00" y="142.30" width="5.25" height="3.66" fill="#0fbc0f"/>
<rect x="238.65" y="142.30" width="5.25" height="3.66" fill="#f6f8f6"/>
<rect x="243.30" y="142.30" width="5.25" height="3.66" fill="#fad2d4"/>
<rect x="247.95" y="142.30" width="5.25" height="3.66" fill="#64cc64"/>
<rect x="252.60" y="142.30" width="5.25" height="3.66" fill="#f6f8f6"/>
<rect x="257.25" y="142.30" width="5.25" height="3.66" fill="#d6eed6"/>
<rect x="261.90" y="142.30" width="5.25" height="3.66" fill="#f6b6b6"/>
<rect x="266.55" y="142.30" width="5.25" height="3.66" fill="#f6b6b6"/>
<rect x="271.20" y="142.30" width="5.25" height="3.66" fill="#f6b6b6"/>
<rect x="275.85" y="142.30" width="5.25" height="3.66" fill="#fad2d4"/>
<rect x="280.50" y="142.30" width="5.25" height="3.66" fill="#f6b6b6"/>
<rect x="285.15" y="142.30" width="5.25" height="3.66" fill="#f6b6b6"/>
<rect x="289.80" y="142.30" width="5.25" height="3.66" fill="#d6eed6"/>
<rect x="294.45" y="142.30" width="4.65" height="3.66" fill="#fad2d4"/>
<rect x="206.10" y="145.35" width="5.25" height="3.66" fill="#64cc64"/>
<rect x="210.75" y="145.35" width="5.25" height="3.66" fill="#fad2d4"/>
<rect x="215.40" y="145.35" width="5.25" height="3.66" fill="#64cc64"/>
<rect x="220.05" y="145.35" width="5.25" height="3.66" fill="#64cc64"/>
<rect x="224.70" y="145.35" width="5.25" height="3.66" fill="#64cc64"/>
<rect x="229.35" y="145.35" width="5.25" height="3.66" fill="#fad2d4"/>
<rect x="234.00" y="145.35" width="5.25" height="3.66" fill="#64cc64"/>
<rect x="238.65" y="145.35" width="5.25" height="3.66" fill="#b4e2b4"/>
<rect x="243.30" y="145.35" width="5.25" height="3.66" fill="#fad2d4"/>
<rect x="247.95" y="145.35" width="5.25" height="3.66" fill="#f6f8f6"/>
<rect x="252.60" y="145.35" width="5.25" height="3.66" fill="#d6eed6"/>
<rect x="257.25" y="145.35" width="5.25" height="3.66" fill="#fad2d4"/>
<rect x="261.90" y="145.35" width="5.25" height="3.66" fill="#f6b6b6"/>
<rect x="266.55" y="145.35" width="5.25" height="3.66" fill="#f6b6b6"/>
<rect x="271.20" y="145.35" width="5.25" height="3.66" fill="#f07878"/>
<rect x="275.85" y="145.35" width="5.25" height="3.66" fill="#b4e2b4"/>
<rect x="280.50" y="145.35" width="5.25" height="3.66" fill="#f6b6b6"/>
<rect x="285.15" y="145.35" width="5.25" height="3.66" fill="#f6b6b6"/>
<rect x="289.80" y="145.35" width="5.25" height="3.66" fill="#b4e2b4"/>
<rect x="294.45" y="145.35" width="4.65" height="3.66" fill="#b4e2b4"/>
<rect x="206.10" y="148.41" width="5.25" height="3.66" fill="#b4e2b4"/>
<rect x="210.75" y="148.41" width="5.25" height="3.66" fill="#b4e2b4"/>
<rect x="215.40" y="148.41" width="5.25" height="3.66" fill="#f6b6b6"/>
<rect x="220.05" y="148.41" width="5.25" height="3.66" fill="#b4e2b4"/>
<rect x="224.70" y="148.41" width="5.25" height="3.66" fill="#b4e2b4"/>
<rect x="229.35" y="148.41" width="5.25" height="3.66" fill="#b4e2b4"/>
<rect x="234.00" y="148.41" width="5.25" height="3.66" fill="#b4e2b4"/>
<rect x="238.65" y="148.41" width="5.25" height="3.66" fill="#b4e2b4"/>
<rect x="243.30" y="148.41" width="5.25" height="3.66" fill="#fad2d4"/>
<rect x="247.95" y="148.41" width="5.25" height="3.66" fill="#b4e2b4"/>
<rect x="252.60" y="148.41" width="5.25" height="3.66" fill="#b4e2b4"/>
<rect x="257.25" y="148.41" width="5.25" height="3.66" fill="#ec1e1e"/>
<rect x="261.90" y="148.41" width="5.25" height="3.66" fill="#fad2d4"/>
<rect x="266.55" y="148.41" width="5.25" height="3.66" fill="#fad2d4"/>
<rect x="271.20" y="148.41" width="5.25" height="3.66" fill="#b4e2b4"/>
<rect x="275.85" y="148.41" width="5.25" height="3.66" fill="#b4e2b4"/>
<rect x="280.50" y="148.41" width="5.25" height="3.66" fill="#f6b6b6"/>
<rect x="285.15" y="148.41" width="5.25" height="3.66" fill="#b4e2b4"/>
<rect x="289.80" y="148.41" width="5.25" height="3.66" fill="#f6b6b6"/>
<rect x="294.45" y="148.41" width="4.65" height="3.66" fill="#b4e2b4"/>
<rect x="206.10" y="151.46" width="5.25" height="3.06" fill="#fad2d4"/>
<rect x="210.75" y="151.46" width="5.25" height="3.06" fill="#d6eed6"/>
<rect x="215.40" y="151.46" width="5.25" height="3.06" fill="#f6f8f6"/>
<rect x="220.05" y="151.46" width="5.25" height="3.06" fill="#d6eed6"/>
<rect x="224.70" y="151.46" width="5.25" height="3.06" fill="#0fbc0f"/>
<rect x="229.35" y="151.46" width="5.25" height="3.06" fill="#fad2d4"/>
<rect x="234.00" y="151.46" width="5.25" height="3.06" fill="#0fbc0f"/>
<rect x="238.65" y="151.46" width="5.25" height="3.06" fill="#d6eed6"/>
<rect x="243.30" y="151.46" width="5.25" height="3.06" fill="#d6eed6"/>
<rect x="247.95" y="151.46" width="5.25" height="3.06" fill="#f6f8f6"/>
<rect x="252.60" y="151.46" width="5.25" height="3.06" fill="#f6f8f6"/>
<rect x="257.25" y="151.46" width="5.25" height="3.06" fill="#fad2d4"/>
<rect x="261.90" y="151.46" width="5.25" height="3.06" fill="#f6f8f6"/>
<rect x="266.55" y="151.46" width="5.25" height="3.06" fill="#f6f8f6"/>
<rect x="271.20" y="151.46" width="5.25" height="3.06" fill="#f6f8f6"/>
<rect x="275.85" y="151.46" width="5.25" height="3.06" fill="#fad2d4"/>
<rect x="280.50" y="151.46" width="5.25" height="3.06" fill="#f07878"/>
<rect x="285.15" y="151.46" width="5.25" height="3.06" fill="#f6f8f6"/>
<rect x="289.80" y="151.46" width="5.25" height="3.06" fill="#f6b6b6"/>
<rect x="294.45" y="151.46" width="4.65" height="3.06" fill="#0fbc0f"/>
<path d="M205.90 88.82H203.14V91.87H205.90M205.90 52.14H202.34V55.20H205.90M205.90 46.03H201.86V49.09H205.90M205.90 36.86H201.35V39.92H205.90M205.90 73.54H201.20V76.59H205.90M205.90 42.98H201.16V47.56H201.86M205.90 27.70H201.10V30.75H205.90M201.35 38.39H200.93V45.27H201.16M205.90 58.26H200.92V61.31H205.90M205.90 33.81H200.64V41.83H200.93M200.64 37.82H200.56V53.67H202.34M205.90 82.70H200.11V85.76H205.90M205.90 122.43H199.80V125.49H205.90M200.92 59.78H199.73V64.37H205.90M205.90 67.42H199.60V70.48H205.90M199.60 68.95H199.60V75.06H201.20M205.90 116.32H199.35V119.38H205.90M205.90 134.66H199.35V137.71H205.90M200.56 45.75H199.32V62.08H199.73M199.32 53.91H199.32V72.01H199.60M205.90 97.98H199.29V101.04H205.90M200.11 84.23H199.17V90.34H203.14M205.90 21.58H199.09V24.64H205.90M205.90 143.82H198.95V146.88H205.90M205.90 110.21H198.90V113.26H205.90M199.32 62.96H198.65V79.65H205.90M198.65 71.30H198.65V87.29H199.17M205.90 18.53H198.45V23.11H199.09M205.90 140.77H198.43V145.35H198.95M199.35 117.85H198.42V123.96H199.80M198.42 120.90H198.42V128.54H205.90M205.90 131.60H198.40V136.18H199.35M205.90 94.93H198.33V99.51H199.29M205.90 107.15H198.24V111.74H198.90M201.10 29.22H198.15V79.30H198.65M205.90 149.94H198.14V152.99H205.90M198.45 20.82H198.11V54.26H198.15M198.40 133.89H198.00V143.06H198.43M198.24 109.44H197.59V124.72H198.42M198.00 138.48H197.43V151.46H198.14M198.33 97.22H197.25V104.10H205.90M197.25 100.66H197.10V117.08H197.59M198.11 37.54H197.10V108.87H197.10M197.10 73.21H195.80V144.97H197.43" stroke="#4a4a4a" stroke-width="0.55" fill="none"/>
<text x="0" y="0" transform="translate(209.82,155.00) rotate(-90)" text-anchor="end" font-size="4.0" fill="#333" font-family="Liberation Sans, sans-serif">TTD1</text>
<text x="0" y="0" transform="translate(214.47,155.00) rotate(-90)" text-anchor="end" font-size="4.0" fill="#333" font-family="Liberation Sans, sans-serif">TTD2</text>
<text x="0" y="0" transform="translate(219.12,155.00) rotate(-90)" text-anchor="end" font-size="4.0" fill="#333" font-family="Liberation Sans, sans-serif">TTD3</text>
<text x="0" y="0" transform="translate(223.78,155.00) rotate(-90)" text-anchor="end" font-size="4.0" fill="#333" font-family="Liberation Sans, sans-serif">TTD4</text>
<text x="0" y="0" transform="translate(228.43,155.00) rotate(-90)" text-anchor="end" font-size="4.0" fill="#333" font-family="Liberation Sans, sans-serif">TTD5</text>
<text x="0" y="0" transform="translate(233.08,155.00) rotate(-90)" text-anchor="end" font-size="4.0" fill="#333" font-family="Liberation Sans, sans-serif">TTD6</text>
<text x="0" y="0" transform="translate(237.72,155.00) rotate(-90)" text-anchor="end" font-size="4.0" fill="#333" font-family="Liberation Sans, sans-serif">TTD7</text>
<text x="0" y="0" transform="translate(242.38,155.00) rotate(-90)" text-anchor="end" font-size="4.0" fill="#333" font-family="Liberation Sans, sans-serif">TTD8</text>
<text x="0" y="0" transform="translate(247.03,155.00) rotate(-90)" text-anchor="end" font-size="4.0" fill="#333" font-family="Liberation Sans, sans-serif">TTD9</text>
<text x="0" y="0" transform="translate(251.68,155.00) rotate(-90)" text-anchor="end" font-size="4.0" fill="#333" font-family="Liberation Sans, sans-serif">TTD10</text>
<text x="0" y="0" transform="translate(256.32,155.00) rotate(-90)" text-anchor="end" font-size="4.0" fill="#333" font-family="Liberation Sans, sans-serif">TS1</text>
<text x="0" y="0" transform="translate(260.97,155.00) rotate(-90)" text-anchor="end" font-size="4.0" fill="#333" font-family="Liberation Sans, sans-serif">TS2</text>
<text x="0" y="0" transform="translate(265.62,155.00) rotate(-90)" text-anchor="end" font-size="4.0" fill="#333" font-family="Liberation Sans, sans-serif">TS3</text>
<text x="0" y="0" transform="translate(270.27,155.00) rotate(-90)" text-anchor="end" font-size="4.0" fill="#333" font-family="Liberation Sans, sans-serif">TS4</text>
<text x="0" y="0" transform="translate(274.92,155.00) rotate(-90)" text-anchor="end" font-size="4.0" fill="#333" font-family="Liberation Sans, sans-serif">TS5</text>
<text x="0" y="0" transform="translate(279.57,155.00) rotate(-90)" text-anchor="end" font-size="4.0" fill="#333" font-family="Liberation Sans, sans-serif">TS6</text>
<text x="0" y="0" transform="translate(284.22,155.00) rotate(-90)" text-anchor="end" font-size="4.0" fill="#333" font-family="Liberation Sans, sans-serif">TS7</text>
<text x="0" y="0" transform="translate(288.88,155.00) rotate(-90)" text-anchor="end" font-size="4.0" fill="#333" font-family="Liberation Sans, sans-serif">TS8</text>
<text x="0" y="0" transform="translate(293.52,155.00) rotate(-90)" text-anchor="end" font-size="4.0" fill="#333" font-family="Liberation Sans, sans-serif">TS9</text>
<text x="0" y="0" transform="translate(298.17,155.00) rotate(-90)" text-anchor="end" font-size="4.0" fill="#333" font-family="Liberation Sans, sans-serif">TS10</text>
<text x="300.60" y="19.53" font-size="2.65" fill="#333" textLength="13.5" lengthAdjust="spacingAndGlyphs" font-family="Liberation Sans, sans-serif">hsa-miR-773c-5p</text>
<text x="300.60" y="22.58" font-size="2.65" fill="#333" textLength="10.8" lengthAdjust="spacingAndGlyphs" font-family="Liberation Sans, sans-serif">hsa-miR-4729</text>
<text x="300.60" y="25.64" font-size="2.65" fill="#333" textLength="13.5" lengthAdjust="spacingAndGlyphs" font-family="Liberation Sans, sans-serif">hsa-miR-101-3p</text>
<text x="300.60" y="28.70" font-size="2.65" fill="#333" textLength="13.5" lengthAdjust="spacingAndGlyphs" font-family="Liberation Sans, sans-serif">hsa-miR-160-3p</text>
<text x="300.60" y="31.75" font-size="2.65" fill="#333" textLength="13.5" lengthAdjust="spacingAndGlyphs" font-family="Liberation Sans, sans-serif">hsa-miR-939c-3p</text>
<text x="300.60" y="34.81" font-size="2.65" fill="#333" textLength="13.5" lengthAdjust="spacingAndGlyphs" font-family="Liberation Sans, sans-serif">hsa-miR-776b-3p</text>
<text x="300.60" y="37.86" font-size="2.65" fill="#333" textLength="13.5" lengthAdjust="spacingAndGlyphs" font-family="Liberation Sans, sans-serif">hsa-miR-736-3p</text>
<text x="300.60" y="40.92" font-size="2.65" fill="#333" textLength="10.8" lengthAdjust="spacingAndGlyphs" font-family="Liberation Sans, sans-serif">hsa-miR-8811</text>
<text x="300.60" y="43.98" font-size="2.65" fill="#333" textLength="10.8" lengthAdjust="spacingAndGlyphs" font-family="Liberation Sans, sans-serif">hsa-miR-4143</text>
<text x="300.60" y="47.03" font-size="2.65" fill="#333" textLength="13.5" lengthAdjust="spacingAndGlyphs" font-family="Liberation Sans, sans-serif">hsa-miR-367-5p</text>
<text x="300.60" y="50.09" font-size="2.65" fill="#333" textLength="10.8" lengthAdjust="spacingAndGlyphs" font-family="Liberation Sans, sans-serif">hsa-miR-9377</text>
<text x="300.60" y="53.14" font-size="2.65" fill="#333" textLength="10.8" lengthAdjust="spacingAndGlyphs" font-family="Liberation Sans, sans-serif">hsa-miR-1535</text>
<text x="300.60" y="56.20" font-size="2.65" fill="#333" textLength="13.5" lengthAdjust="spacingAndGlyphs" font-family="Liberation Sans, sans-serif">hsa-miR-126-3p</text>
<text x="300.60" y="59.26" font-size="2.65" fill="#333" textLength="13.5" lengthAdjust="spacingAndGlyphs" font-family="Liberation Sans, sans-serif">hsa-miR-890-3p</text>
<text x="300.60" y="62.31" font-size="2.65" fill="#333" textLength="13.5" lengthAdjust="spacingAndGlyphs" font-family="Liberation Sans, sans-serif">hsa-miR-137b-5p</text>
<text x="300.60" y="65.37" font-size="2.65" fill="#333" textLength="13.5" lengthAdjust="spacingAndGlyphs" font-family="Liberation Sans, sans-serif">hsa-miR-626b-5p</text>
<text x="300.60" y="68.42" font-size="2.65" fill="#333" textLength="13.5" lengthAdjust="spacingAndGlyphs" font-family="Liberation Sans, sans-serif">hsa-miR-388-5p</text>
<text x="300.60" y="71.48" font-size="2.65" fill="#333" textLength="13.5" lengthAdjust="spacingAndGlyphs" font-family="Liberation Sans, sans-serif">hsa-miR-286a-3p</text>
<text x="300.60" y="74.54" font-size="2.65" fill="#333" textLength="13.5" lengthAdjust="spacingAndGlyphs" font-family="Liberation Sans, sans-serif">hsa-miR-889-5p</text>
<text x="300.60" y="77.59" font-size="2.65" fill="#333" textLength="13.5" lengthAdjust="spacingAndGlyphs" font-family="Liberation Sans, sans-serif">hsa-miR-469c-3p</text>
<text x="300.60" y="80.65" font-size="2.65" fill="#333" textLength="10.8" lengthAdjust="spacingAndGlyphs" font-family="Liberation Sans, sans-serif">hsa-miR-9638</text>
<text x="300.60" y="83.70" font-size="2.65" fill="#333" textLength="10.8" lengthAdjust="spacingAndGlyphs" font-family="Liberation Sans, sans-serif">hsa-miR-8288</text>
<text x="300.60" y="86.76" font-size="2.65" fill="#333" textLength="13.5" lengthAdjust="spacingAndGlyphs" font-family="Liberation Sans, sans-serif">hsa-miR-398c-3p</text>
<text x="300.60" y="89.82" font-size="2.65" fill="#333" textLength="13.5" lengthAdjust="spacingAndGlyphs" font-family="Liberation Sans, sans-serif">hsa-miR-821a-5p</text>
<text x="300.60" y="92.87" font-size="2.65" fill="#333" textLength="13.5" lengthAdjust="spacingAndGlyphs" font-family="Liberation Sans, sans-serif">hsa-miR-810a-3p</text>
<text x="300.60" y="95.93" font-size="2.65" fill="#333" textLength="10.8" lengthAdjust="spacingAndGlyphs" font-family="Liberation Sans, sans-serif">hsa-miR-1963</text>
<text x="300.60" y="98.98" font-size="2.65" fill="#333" textLength="10.8" lengthAdjust="spacingAndGlyphs" font-family="Liberation Sans, sans-serif">hsa-miR-8064</text>
<text x="300.60" y="102.04" font-size="2.65" fill="#333" textLength="10.8" lengthAdjust="spacingAndGlyphs" font-family="Liberation Sans, sans-serif">hsa-miR-7037</text>
<text x="300.60" y="105.10" font-size="2.65" fill="#333" textLength="13.5" lengthAdjust="spacingAndGlyphs" font-family="Liberation Sans, sans-serif">hsa-miR-853-5p</text>
<text x="300.60" y="108.15" font-size="2.65" fill="#333" textLength="13.5" lengthAdjust="spacingAndGlyphs" font-family="Liberation Sans, sans-serif">hsa-miR-916-3p</text>
<text x="300.60" y="111.21" font-size="2.65" fill="#333" textLength="13.5" lengthAdjust="spacingAndGlyphs" font-family="Liberation Sans, sans-serif">hsa-miR-293b-5p</text>
<text x="300.60" y="114.26" font-size="2.65" fill="#333" textLength="13.5" lengthAdjust="spacingAndGlyphs" font-family="Liberation Sans, sans-serif">hsa-miR-737-3p</text>
<text x="300.60" y="117.32" font-size="2.65" fill="#333" textLength="10.8" lengthAdjust="spacingAndGlyphs" font-family="Liberation Sans, sans-serif">hsa-miR-3323</text>
<text x="300.60" y="120.38" font-size="2.65" fill="#333" textLength="13.5" lengthAdjust="spacingAndGlyphs" font-family="Liberation Sans, sans-serif">hsa-miR-418c-3p</text>
<text x="300.60" y="123.43" font-size="2.65" fill="#333" textLength="13.5" lengthAdjust="spacingAndGlyphs" font-family="Liberation Sans, sans-serif">hsa-miR-280-3p</text>
<text x="300.60" y="126.49" font-size="2.65" fill="#333" textLength="13.5" lengthAdjust="spacingAndGlyphs" font-family="Liberation Sans, sans-serif">hsa-miR-158-5p</text>
<text x="300.60" y="129.54" font-size="2.65" fill="#333" textLength="13.5" lengthAdjust="spacingAndGlyphs" font-family="Liberation Sans, sans-serif">hsa-miR-475b-3p</text>
<text x="300.60" y="132.60" font-size="2.65" fill="#333" textLength="10.8" lengthAdjust="spacingAndGlyphs" font-family="Liberation Sans, sans-serif">hsa-miR-3659</text>
<text x="300.60" y="135.66" font-size="2.65" fill="#333" textLength="13.5" lengthAdjust="spacingAndGlyphs" font-family="Liberation Sans, sans-serif">hsa-miR-721c-3p</text>
<text x="300.60" y="138.71" font-size="2.65" fill="#333" textLength="10.8" lengthAdjust="spacingAndGlyphs" font-family="Liberation Sans, sans-serif">hsa-miR-9814</text>
<text x="300.60" y="141.77" font-size="2.65" fill="#333" textLength="13.5" lengthAdjust="spacingAndGlyphs" font-family="Liberation Sans, sans-serif">hsa-miR-879-5p</text>
<text x="300.60" y="144.82" font-size="2.65" fill="#333" textLength="13.5" lengthAdjust="spacingAndGlyphs" font-family="Liberation Sans, sans-serif">hsa-miR-458c-3p</text>
<text x="300.60" y="147.88" font-size="2.65" fill="#333" textLength="10.8" lengthAdjust="spacingAndGlyphs" font-family="Liberation Sans, sans-serif">hsa-miR-4697</text>
<text x="300.60" y="150.94" font-size="2.65" fill="#333" textLength="13.5" lengthAdjust="spacingAndGlyphs" font-family="Liberation Sans, sans-serif">hsa-miR-606a-5p</text>
<text x="300.60" y="153.99" font-size="2.65" fill="#333" textLength="13.5" lengthAdjust="spacingAndGlyphs" font-family="Liberation Sans, sans-serif">hsa-miR-518-5p</text>
<text x="300.0" y="15.6" font-size="4.0" fill="#222" font-family="Liberation Sans, sans-serif">Group</text>
<defs><linearGradient id="lg1" x1="0" y1="0" x2="0" y2="1"><stop offset="0" stop-color="#ee1111"/><stop offset="0.18" stop-color="#f02828"/><stop offset="0.60" stop-color="#ffffff"/><stop offset="0.88" stop-color="#22bb22"/><stop offset="1" stop-color="#11b011"/></linearGradient></defs>
<rect x="151.0" y="80.4" width="3.7" height="22.3" rx="1.0" fill="url(#lg1)"/>
<text x="156.0" y="82.30" font-size="2.9" fill="#444" font-family="Liberation Sans, sans-serif">6</text>
<text x="156.0" y="86.40" font-size="2.9" fill="#444" font-family="Liberation Sans, sans-serif">4</text>
<text x="156.0" y="90.50" font-size="2.9" fill="#444" font-family="Liberation Sans, sans-serif">2</text>
<text x="156.0" y="94.60" font-size="2.9" fill="#444" font-family="Liberation Sans, sans-serif">0</text>
<text x="156.0" y="98.70" font-size="2.9" fill="#444" font-family="Liberation Sans, sans-serif">-2</text>
<text x="156.0" y="102.80" font-size="2.9" fill="#444" font-family="Liberation Sans, sans-serif">-4</text>
<text x="160.6" y="79.9" font-size="3.4" font-weight="bold" fill="#333" font-family="Liberation Sans, sans-serif">Group</text>
<rect x="160.79999999999998" y="81.30000000000001" width="3.2" height="3.0" fill="#f01818"/>
<rect x="160.79999999999998" y="85.0" width="3.2" height="3.0" fill="#1878b8"/>
<text x="165.2" y="83.9" font-size="3.0" fill="#555" font-family="Liberation Sans, sans-serif">TTD</text>
<text x="165.2" y="87.60000000000001" font-size="3.0" fill="#555" font-family="Liberation Sans, sans-serif">CTD</text>
<defs><linearGradient id="lg2" x1="0" y1="0" x2="0" y2="1"><stop offset="0" stop-color="#ee1111"/><stop offset="0.15" stop-color="#f02828"/><stop offset="0.50" stop-color="#ffffff"/><stop offset="0.85" stop-color="#22bb22"/><stop offset="1" stop-color="#11b011"/></linearGradient></defs>
<rect x="320.0" y="81.9" width="3.7" height="19.1" rx="1.0" fill="url(#lg2)"/>
<text x="325.0" y="83.80" font-size="2.9" fill="#444" font-family="Liberation Sans, sans-serif">4</text>
<text x="325.0" y="88.13" font-size="2.9" fill="#444" font-family="Liberation Sans, sans-serif">2</text>
<text x="325.0" y="92.45" font-size="2.9" fill="#444" font-family="Liberation Sans, sans-serif">0</text>
<text x="325.0" y="96.78" font-size="2.9" fill="#444" font-family="Liberation Sans, sans-serif">-2</text>
<text x="325.0" y="101.10" font-size="2.9" fill="#444" font-family="Liberation Sans, sans-serif">-4</text>
<text x="330.2" y="81.4" font-size="3.4" font-weight="bold" fill="#333" font-family="Liberation Sans, sans-serif">Group</text>
<rect x="330.4" y="82.80000000000001" width="3.2" height="3.0" fill="#f01818"/>
<rect x="330.4" y="86.5" width="3.2" height="3.0" fill="#1878b8"/>
<text x="334.8" y="85.4" font-size="3.0" fill="#555" font-family="Liberation Sans, sans-serif">TTD</text>
<text x="334.8" y="89.10000000000001" font-size="3.0" fill="#555" font-family="Liberation Sans, sans-serif">TS</text>
<text x="14.0" y="16.6" font-size="8.0" font-weight="bold" fill="#222" font-family="Liberation Sans, sans-serif">A</text>
<path d="M22.18 16.60 L23.38 16.60 L23.38 10.87 L22.42 10.87 L22.10 11.48 L21.38 12.04 L20.58 12.32 L20.58 13.24 L21.30 13.00 L21.86 12.68 L22.18 12.36Z" fill="#222"/>
<text x="177.0" y="18.6" font-size="8.0" font-weight="bold" fill="#222" font-family="Liberation Sans, sans-serif">A2</text>
<text x="323.5" y="16.4" font-size="7.8" font-weight="bold" fill="#222" font-family="Liberation Sans, sans-serif">B</text>
<text x="8.0" y="183.2" font-size="8.4" font-weight="bold" fill="#222" font-family="Liberation Sans, sans-serif">C</text>
<path d="M16.58 183.20 L17.84 183.20 L17.84 177.19 L16.84 177.19 L16.50 177.82 L15.74 178.41 L14.90 178.71 L14.90 179.67 L15.66 179.42 L16.25 179.08 L16.58 178.75Z" fill="#222"/>
<text x="181.0" y="183.2" font-size="8.0" font-weight="bold" fill="#222" font-family="Liberation Sans, sans-serif">C2</text>
<text x="360.2" y="183.6" font-size="8.0" font-weight="bold" fill="#222" font-family="Liberation Sans, sans-serif">C3</text>
<circle cx="420.3" cy="82.1" r="44.5" fill="#6670bb"/>
<circle cx="479.1" cy="82.0" r="44.5" fill="#f2e976"/>
<clipPath id="cpv"><circle cx="420.3" cy="82.1" r="44.5"/></clipPath>
<circle cx="479.1" cy="82.0" r="44.5" fill="#b3af72" clip-path="url(#cpv)"/>
<circle cx="420.3" cy="82.1" r="44.5" fill="none" stroke="#2a2a3a" stroke-width="0.7"/>
<circle cx="479.1" cy="82.0" r="44.5" fill="none" stroke="#2a2a3a" stroke-width="0.7"/>
<text x="411.2" y="81.7" text-anchor="middle" font-size="5.7" font-weight="bold" fill="#111" font-family="Liberation Serif, serif">23</text>
<text x="411.2" y="85.9" text-anchor="middle" font-size="4.0" font-weight="bold" fill="#1a1a1a" font-family="Liberation Serif, serif">(33.8%)</text>
<text x="449.5" y="81.7" text-anchor="middle" font-size="5.7" font-weight="bold" fill="#111" font-family="Liberation Serif, serif">17</text>
<text x="449.5" y="85.9" text-anchor="middle" font-size="4.0" font-weight="bold" fill="#1a1a1a" font-family="Liberation Serif, serif">(25%)</text>
<text x="488.2" y="81.7" text-anchor="middle" font-size="5.7" font-weight="bold" fill="#111" font-family="Liberation Serif, serif">28</text>
<text x="488.2" y="85.9" text-anchor="middle" font-size="4.0" font-weight="bold" fill="#1a1a1a" font-family="Liberation Serif, serif">(41.2%)</text>
<path d="M453.3 59.1 L445.6 38.2" stroke="#777" stroke-width="0.7"/>
<path d="M445.0 36.4 L443.3 41.0 L447.2 40.0 Z" fill="#444"/>
<path d="M443.4 104.8 L456.4 126.5" stroke="#555" stroke-width="0.7"/>
<path d="M457.4 128.6 L453.5 125.6 L457.0 124.0 Z" fill="#333"/>
<text x="339" y="17.0" text-anchor="start" font-size="6.8" font-weight="bold" fill="#222" font-family="Liberation Sans, sans-serif"><tspan fill="#222">hsa-miR-12136, hsa-miR-134-5p,</tspan></text>
<text x="339" y="25.0" text-anchor="start" font-size="6.8" font-weight="bold" fill="#222" font-family="Liberation Sans, sans-serif"><tspan fill="#222">hsa-miR-217-5p, hsa-miR-3138,</tspan></text>
<text x="339" y="32.8" text-anchor="start" font-size="6.8" font-weight="bold" fill="#222" font-family="Liberation Sans, sans-serif"><tspan fill="#ee1c1c">hsa-miR-365b-3p</tspan><tspan fill="#222">, hsa-miR-376a-3p,</tspan></text>
<text x="339" y="40.6" text-anchor="start" font-size="6.8" font-weight="bold" fill="#222" font-family="Liberation Sans, sans-serif"><tspan fill="#222">hsa-miR-376b-3p,</tspan></text>
<text x="339" y="48.6" text-anchor="start" font-size="6.8" font-weight="bold" fill="#222" font-family="Liberation Sans, sans-serif"><tspan fill="#222">hsa-miR-382-5p</tspan></text>
<text x="542" y="131.8" text-anchor="end" font-size="6.8" font-weight="bold" fill="#222" font-family="Liberation Sans, sans-serif"><tspan fill="#222">hsa-miR-409-3p,</tspan></text>
<text x="542" y="140.0" text-anchor="end" font-size="6.8" font-weight="bold" fill="#222" font-family="Liberation Sans, sans-serif"><tspan fill="#222">hsa-miR-432-5p,hsa-miR-485-3p,</tspan></text>
<text x="542" y="147.9" text-anchor="end" font-size="6.8" font-weight="bold" fill="#222" font-family="Liberation Sans, sans-serif"><tspan fill="#ee1c1c">hsa-miR-485-5p</tspan><tspan fill="#222">, hsa-miR-519d-5p,</tspan></text>
<text x="543" y="155.5" text-anchor="end" font-size="6.8" font-weight="bold" fill="#222" font-family="Liberation Sans, sans-serif"><tspan fill="#222">hsa-miR-654-3p, </tspan><tspan fill="#ee1c1c">hsa-miR-6882-5p</tspan><tspan fill="#222">,</tspan></text>
<text x="543.4" y="163.9" text-anchor="end" font-size="6.8" font-weight="bold" fill="#222" font-family="Liberation Sans, sans-serif"><tspan fill="#222">hsa-miR-744-5p, hsa-miR-889-3p</tspan></text>
<rect x="58.5" y="177.5" width="92.00" height="78.00" fill="none" stroke="#808080" stroke-width="0.7"/>
<path d="M57.10 252.61V180.49" stroke="#777" stroke-width="0.4"/>
<path d="M57.10 252.61h-1.8M61.51 255.50v3.0" stroke="#666" stroke-width="0.45"/>
<text x="0" y="0" transform="translate(52.60,252.61) rotate(-90)" text-anchor="middle" font-size="4.4" fill="#3a3a3a" stroke="#3a3a3a" stroke-width="0.18" font-family="Liberation Sans, sans-serif">0.0</text>
<text x="61.51" y="264.60" text-anchor="middle" font-size="4.4" fill="#3a3a3a" stroke="#3a3a3a" stroke-width="0.18" font-family="Liberation Sans, sans-serif">0.0</text>
<path d="M57.10 238.19h-1.8M78.57 255.50v3.0" stroke="#666" stroke-width="0.45"/>
<text x="0" y="0" transform="translate(52.60,238.19) rotate(-90)" text-anchor="middle" font-size="4.4" fill="#3a3a3a" stroke="#3a3a3a" stroke-width="0.18" font-family="Liberation Sans, sans-serif">0.2</text>
<text x="78.57" y="264.60" text-anchor="middle" font-size="4.4" fill="#3a3a3a" stroke="#3a3a3a" stroke-width="0.18" font-family="Liberation Sans, sans-serif">0.2</text>
<path d="M57.10 223.76h-1.8M95.62 255.50v3.0" stroke="#666" stroke-width="0.45"/>
<text x="0" y="0" transform="translate(52.60,223.76) rotate(-90)" text-anchor="middle" font-size="4.4" fill="#3a3a3a" stroke="#3a3a3a" stroke-width="0.18" font-family="Liberation Sans, sans-serif">0.4</text>
<text x="95.62" y="264.60" text-anchor="middle" font-size="4.4" fill="#3a3a3a" stroke="#3a3a3a" stroke-width="0.18" font-family="Liberation Sans, sans-serif">0.4</text>
<path d="M57.10 209.34h-1.8M112.68 255.50v3.0" stroke="#666" stroke-width="0.45"/>
<text x="0" y="0" transform="translate(52.60,209.34) rotate(-90)" text-anchor="middle" font-size="4.4" fill="#3a3a3a" stroke="#3a3a3a" stroke-width="0.18" font-family="Liberation Sans, sans-serif">0.6</text>
<text x="112.68" y="264.60" text-anchor="middle" font-size="4.4" fill="#3a3a3a" stroke="#3a3a3a" stroke-width="0.18" font-family="Liberation Sans, sans-serif">0.6</text>
<path d="M57.10 194.91h-1.8M129.73 255.50v3.0" stroke="#666" stroke-width="0.45"/>
<text x="0" y="0" transform="translate(52.60,194.91) rotate(-90)" text-anchor="middle" font-size="4.4" fill="#3a3a3a" stroke="#3a3a3a" stroke-width="0.18" font-family="Liberation Sans, sans-serif">0.8</text>
<text x="129.73" y="264.60" text-anchor="middle" font-size="4.4" fill="#3a3a3a" stroke="#3a3a3a" stroke-width="0.18" font-family="Liberation Sans, sans-serif">0.8</text>
<path d="M57.10 180.49h-1.8M146.79 255.50v3.0" stroke="#666" stroke-width="0.45"/>
<text x="0" y="0" transform="translate(52.60,180.49) rotate(-90)" text-anchor="middle" font-size="4.4" fill="#3a3a3a" stroke="#3a3a3a" stroke-width="0.18" font-family="Liberation Sans, sans-serif">1.0</text>
<text x="146.79" y="264.60" text-anchor="middle" font-size="4.4" fill="#3a3a3a" stroke="#3a3a3a" stroke-width="0.18" font-family="Liberation Sans, sans-serif">1.0</text>
<text x="0" y="0" transform="translate(42.00,216.55) rotate(-90)" text-anchor="middle" font-size="3.95" fill="#333" stroke="#333" stroke-width="0.15" font-family="Liberation Sans, sans-serif">Sensitivity</text>
<text x="104.15" y="274.50" text-anchor="middle" font-size="3.9" fill="#333" stroke="#333" stroke-width="0.15" font-family="Liberation Sans, sans-serif">1-Specificity</text>
<path d="M61.51 252.61L146.79 180.49" stroke="#ddd" stroke-width="0.5"/>
<path d="M61.51 252.61 L61.51 194.91 L112.68 194.91 L112.68 180.49 L146.79 180.49" stroke="#262626" stroke-width="1.05" fill="none" stroke-linejoin="miter"/>
<text x="130.40" y="242.30" text-anchor="middle" font-size="4.15" fill="#3366cc" stroke="#3366cc" stroke-width="0.12" font-family="Liberation Sans, sans-serif">AUC: 0.88</text>
<text x="130.40" y="246.95" text-anchor="middle" font-size="4.15" fill="#3366cc" stroke="#3366cc" stroke-width="0.12" font-family="Liberation Sans, sans-serif">95%CI:(0.711~1)</text>
<text x="130.40" y="251.60" text-anchor="middle" font-size="4.15" fill="#3366cc" stroke="#3366cc" stroke-width="0.12" font-family="Liberation Sans, sans-serif">Se: 0.8   Sp: 1</text>
<text x="0" y="0" transform="translate(153.00,220.50) rotate(90)" text-anchor="middle" font-size="6.8" font-weight="bold" fill="#222" font-family="Liberation Sans, sans-serif">TTD vs CTD</text>
<rect x="57.5" y="280.5" width="93.00" height="78.00" fill="none" stroke="#808080" stroke-width="0.7"/>
<path d="M56.90 355.11V282.89" stroke="#777" stroke-width="0.4"/>
<path d="M56.90 355.11h-1.8M61.33 358.00v3.0" stroke="#666" stroke-width="0.45"/>
<text x="0" y="0" transform="translate(52.40,355.11) rotate(-90)" text-anchor="middle" font-size="4.4" fill="#3a3a3a" stroke="#3a3a3a" stroke-width="0.18" font-family="Liberation Sans, sans-serif">0.0</text>
<text x="61.33" y="367.10" text-anchor="middle" font-size="4.4" fill="#3a3a3a" stroke="#3a3a3a" stroke-width="0.18" font-family="Liberation Sans, sans-serif">0.0</text>
<path d="M56.90 340.67h-1.8M78.50 358.00v3.0" stroke="#666" stroke-width="0.45"/>
<text x="0" y="0" transform="translate(52.40,340.67) rotate(-90)" text-anchor="middle" font-size="4.4" fill="#3a3a3a" stroke="#3a3a3a" stroke-width="0.18" font-family="Liberation Sans, sans-serif">0.2</text>
<text x="78.50" y="367.10" text-anchor="middle" font-size="4.4" fill="#3a3a3a" stroke="#3a3a3a" stroke-width="0.18" font-family="Liberation Sans, sans-serif">0.2</text>
<path d="M56.90 326.22h-1.8M95.67 358.00v3.0" stroke="#666" stroke-width="0.45"/>
<text x="0" y="0" transform="translate(52.40,326.22) rotate(-90)" text-anchor="middle" font-size="4.4" fill="#3a3a3a" stroke="#3a3a3a" stroke-width="0.18" font-family="Liberation Sans, sans-serif">0.4</text>
<text x="95.67" y="367.10" text-anchor="middle" font-size="4.4" fill="#3a3a3a" stroke="#3a3a3a" stroke-width="0.18" font-family="Liberation Sans, sans-serif">0.4</text>
<path d="M56.90 311.78h-1.8M112.83 358.00v3.0" stroke="#666" stroke-width="0.45"/>
<text x="0" y="0" transform="translate(52.40,311.78) rotate(-90)" text-anchor="middle" font-size="4.4" fill="#3a3a3a" stroke="#3a3a3a" stroke-width="0.18" font-family="Liberation Sans, sans-serif">0.6</text>
<text x="112.83" y="367.10" text-anchor="middle" font-size="4.4" fill="#3a3a3a" stroke="#3a3a3a" stroke-width="0.18" font-family="Liberation Sans, sans-serif">0.6</text>
<path d="M56.90 297.33h-1.8M130.00 358.00v3.0" stroke="#666" stroke-width="0.45"/>
<text x="0" y="0" transform="translate(52.40,297.33) rotate(-90)" text-anchor="middle" font-size="4.4" fill="#3a3a3a" stroke="#3a3a3a" stroke-width="0.18" font-family="Liberation Sans, sans-serif">0.8</text>
<text x="130.00" y="367.10" text-anchor="middle" font-size="4.4" fill="#3a3a3a" stroke="#3a3a3a" stroke-width="0.18" font-family="Liberation Sans, sans-serif">0.8</text>
<path d="M56.90 282.89h-1.8M147.17 358.00v3.0" stroke="#666" stroke-width="0.45"/>
<text x="0" y="0" transform="translate(52.40,282.89) rotate(-90)" text-anchor="middle" font-size="4.4" fill="#3a3a3a" stroke="#3a3a3a" stroke-width="0.18" font-family="Liberation Sans, sans-serif">1.0</text>
<text x="147.17" y="367.10" text-anchor="middle" font-size="4.4" fill="#3a3a3a" stroke="#3a3a3a" stroke-width="0.18" font-family="Liberation Sans, sans-serif">1.0</text>
<text x="0" y="0" transform="translate(41.80,319.00) rotate(-90)" text-anchor="middle" font-size="3.95" fill="#333" stroke="#333" stroke-width="0.15" font-family="Liberation Sans, sans-serif">Sensitivity</text>
<text x="104.25" y="377.00" text-anchor="middle" font-size="3.9" fill="#333" stroke="#333" stroke-width="0.15" font-family="Liberation Sans, sans-serif">1-Specificity</text>
<path d="M61.33 355.11L147.17 282.89" stroke="#ddd" stroke-width="0.5"/>
<path d="M61.33 355.11 L61.33 304.56 L69.92 304.56 L69.92 297.33 L104.25 297.33 L104.25 290.11 L112.83 290.11 L112.83 282.89 L147.17 282.89" stroke="#262626" stroke-width="1.05" fill="none" stroke-linejoin="miter"/>
<text x="130.67" y="344.20" text-anchor="middle" font-size="4.15" fill="#3366cc" stroke="#3366cc" stroke-width="0.12" font-family="Liberation Sans, sans-serif">AUC: 0.88</text>
<text x="130.67" y="348.90" text-anchor="middle" font-size="4.15" fill="#3366cc" stroke="#3366cc" stroke-width="0.12" font-family="Liberation Sans, sans-serif">95%CI:(0.721~1)</text>
<text x="130.67" y="353.60" text-anchor="middle" font-size="4.15" fill="#3366cc" stroke="#3366cc" stroke-width="0.12" font-family="Liberation Sans, sans-serif">Se: 0.8   Sp: 0.9</text>
<text x="0" y="0" transform="translate(153.00,319.30) rotate(90)" text-anchor="middle" font-size="6.8" font-weight="bold" fill="#222" font-family="Liberation Sans, sans-serif">TTD vs TS</text>
<rect x="223.5" y="178.5" width="93.00" height="78.00" fill="none" stroke="#808080" stroke-width="0.7"/>
<path d="M222.70 253.21V180.89" stroke="#777" stroke-width="0.4"/>
<path d="M222.70 253.21h-1.8M227.15 256.10v3.0" stroke="#666" stroke-width="0.45"/>
<text x="0" y="0" transform="translate(218.20,253.21) rotate(-90)" text-anchor="middle" font-size="4.4" fill="#3a3a3a" stroke="#3a3a3a" stroke-width="0.18" font-family="Liberation Sans, sans-serif">0.0</text>
<text x="227.15" y="265.20" text-anchor="middle" font-size="4.4" fill="#3a3a3a" stroke="#3a3a3a" stroke-width="0.18" font-family="Liberation Sans, sans-serif">0.0</text>
<path d="M222.70 238.74h-1.8M244.39 256.10v3.0" stroke="#666" stroke-width="0.45"/>
<text x="0" y="0" transform="translate(218.20,238.74) rotate(-90)" text-anchor="middle" font-size="4.4" fill="#3a3a3a" stroke="#3a3a3a" stroke-width="0.18" font-family="Liberation Sans, sans-serif">0.2</text>
<text x="244.39" y="265.20" text-anchor="middle" font-size="4.4" fill="#3a3a3a" stroke="#3a3a3a" stroke-width="0.18" font-family="Liberation Sans, sans-serif">0.2</text>
<path d="M222.70 224.28h-1.8M261.63 256.10v3.0" stroke="#666" stroke-width="0.45"/>
<text x="0" y="0" transform="translate(218.20,224.28) rotate(-90)" text-anchor="middle" font-size="4.4" fill="#3a3a3a" stroke="#3a3a3a" stroke-width="0.18" font-family="Liberation Sans, sans-serif">0.4</text>
<text x="261.63" y="265.20" text-anchor="middle" font-size="4.4" fill="#3a3a3a" stroke="#3a3a3a" stroke-width="0.18" font-family="Liberation Sans, sans-serif">0.4</text>
<path d="M222.70 209.82h-1.8M278.87 256.10v3.0" stroke="#666" stroke-width="0.45"/>
<text x="0" y="0" transform="translate(218.20,209.82) rotate(-90)" text-anchor="middle" font-size="4.4" fill="#3a3a3a" stroke="#3a3a3a" stroke-width="0.18" font-family="Liberation Sans, sans-serif">0.6</text>
<text x="278.87" y="265.20" text-anchor="middle" font-size="4.4" fill="#3a3a3a" stroke="#3a3a3a" stroke-width="0.18" font-family="Liberation Sans, sans-serif">0.6</text>
<path d="M222.70 195.36h-1.8M296.11 256.10v3.0" stroke="#666" stroke-width="0.45"/>
<text x="0" y="0" transform="translate(218.20,195.36) rotate(-90)" text-anchor="middle" font-size="4.4" fill="#3a3a3a" stroke="#3a3a3a" stroke-width="0.18" font-family="Liberation Sans, sans-serif">0.8</text>
<text x="296.11" y="265.20" text-anchor="middle" font-size="4.4" fill="#3a3a3a" stroke="#3a3a3a" stroke-width="0.18" font-family="Liberation Sans, sans-serif">0.8</text>
<path d="M222.70 180.89h-1.8M313.35 256.10v3.0" stroke="#666" stroke-width="0.45"/>
<text x="0" y="0" transform="translate(218.20,180.89) rotate(-90)" text-anchor="middle" font-size="4.4" fill="#3a3a3a" stroke="#3a3a3a" stroke-width="0.18" font-family="Liberation Sans, sans-serif">1.0</text>
<text x="313.35" y="265.20" text-anchor="middle" font-size="4.4" fill="#3a3a3a" stroke="#3a3a3a" stroke-width="0.18" font-family="Liberation Sans, sans-serif">1.0</text>
<text x="0" y="0" transform="translate(207.60,217.05) rotate(-90)" text-anchor="middle" font-size="3.95" fill="#333" stroke="#333" stroke-width="0.15" font-family="Liberation Sans, sans-serif">Sensitivity</text>
<text x="270.25" y="275.10" text-anchor="middle" font-size="3.9" fill="#333" stroke="#333" stroke-width="0.15" font-family="Liberation Sans, sans-serif">1-Specificity</text>
<path d="M227.15 253.21L313.35 180.89" stroke="#ddd" stroke-width="0.5"/>
<path d="M227.15 253.21 L227.15 209.82 L244.39 209.82 L244.39 202.59 L261.63 202.59 L261.63 195.36 L278.87 195.36 L278.87 188.12 L304.73 188.12 L304.73 180.89 L313.35 180.89" stroke="#262626" stroke-width="1.05" fill="none" stroke-linejoin="miter"/>
<text x="296.78" y="242.50" text-anchor="middle" font-size="4.15" fill="#3366cc" stroke="#3366cc" stroke-width="0.12" font-family="Liberation Sans, sans-serif">AUC: 0.79</text>
<text x="296.78" y="247.45" text-anchor="middle" font-size="4.15" fill="#3366cc" stroke="#3366cc" stroke-width="0.12" font-family="Liberation Sans, sans-serif">95%CI:(0.574~1)</text>
<text x="296.78" y="252.40" text-anchor="middle" font-size="4.15" fill="#3366cc" stroke="#3366cc" stroke-width="0.12" font-family="Liberation Sans, sans-serif">Se: 0.6   Sp: 1</text>
<text x="0" y="0" transform="translate(323.10,216.70) rotate(90)" text-anchor="middle" font-size="6.8" font-weight="bold" fill="#222" font-family="Liberation Sans, sans-serif">TTD vs CTD</text>
<rect x="223.5" y="281.5" width="93.00" height="77.00" fill="none" stroke="#808080" stroke-width="0.7"/>
<path d="M222.50 355.83V284.17" stroke="#777" stroke-width="0.4"/>
<path d="M222.50 355.83h-1.8M226.95 358.70v3.0" stroke="#666" stroke-width="0.45"/>
<text x="0" y="0" transform="translate(218.00,355.83) rotate(-90)" text-anchor="middle" font-size="4.4" fill="#3a3a3a" stroke="#3a3a3a" stroke-width="0.18" font-family="Liberation Sans, sans-serif">0.0</text>
<text x="226.95" y="367.80" text-anchor="middle" font-size="4.4" fill="#3a3a3a" stroke="#3a3a3a" stroke-width="0.18" font-family="Liberation Sans, sans-serif">0.0</text>
<path d="M222.50 341.50h-1.8M244.19 358.70v3.0" stroke="#666" stroke-width="0.45"/>
<text x="0" y="0" transform="translate(218.00,341.50) rotate(-90)" text-anchor="middle" font-size="4.4" fill="#3a3a3a" stroke="#3a3a3a" stroke-width="0.18" font-family="Liberation Sans, sans-serif">0.2</text>
<text x="244.19" y="367.80" text-anchor="middle" font-size="4.4" fill="#3a3a3a" stroke="#3a3a3a" stroke-width="0.18" font-family="Liberation Sans, sans-serif">0.2</text>
<path d="M222.50 327.17h-1.8M261.43 358.70v3.0" stroke="#666" stroke-width="0.45"/>
<text x="0" y="0" transform="translate(218.00,327.17) rotate(-90)" text-anchor="middle" font-size="4.4" fill="#3a3a3a" stroke="#3a3a3a" stroke-width="0.18" font-family="Liberation Sans, sans-serif">0.4</text>
<text x="261.43" y="367.80" text-anchor="middle" font-size="4.4" fill="#3a3a3a" stroke="#3a3a3a" stroke-width="0.18" font-family="Liberation Sans, sans-serif">0.4</text>
<path d="M222.50 312.83h-1.8M278.67 358.70v3.0" stroke="#666" stroke-width="0.45"/>
<text x="0" y="0" transform="translate(218.00,312.83) rotate(-90)" text-anchor="middle" font-size="4.4" fill="#3a3a3a" stroke="#3a3a3a" stroke-width="0.18" font-family="Liberation Sans, sans-serif">0.6</text>
<text x="278.67" y="367.80" text-anchor="middle" font-size="4.4" fill="#3a3a3a" stroke="#3a3a3a" stroke-width="0.18" font-family="Liberation Sans, sans-serif">0.6</text>
<path d="M222.50 298.50h-1.8M295.91 358.70v3.0" stroke="#666" stroke-width="0.45"/>
<text x="0" y="0" transform="translate(218.00,298.50) rotate(-90)" text-anchor="middle" font-size="4.4" fill="#3a3a3a" stroke="#3a3a3a" stroke-width="0.18" font-family="Liberation Sans, sans-serif">0.8</text>
<text x="295.91" y="367.80" text-anchor="middle" font-size="4.4" fill="#3a3a3a" stroke="#3a3a3a" stroke-width="0.18" font-family="Liberation Sans, sans-serif">0.8</text>
<path d="M222.50 284.17h-1.8M313.15 358.70v3.0" stroke="#666" stroke-width="0.45"/>
<text x="0" y="0" transform="translate(218.00,284.17) rotate(-90)" text-anchor="middle" font-size="4.4" fill="#3a3a3a" stroke="#3a3a3a" stroke-width="0.18" font-family="Liberation Sans, sans-serif">1.0</text>
<text x="313.15" y="367.80" text-anchor="middle" font-size="4.4" fill="#3a3a3a" stroke="#3a3a3a" stroke-width="0.18" font-family="Liberation Sans, sans-serif">1.0</text>
<text x="0" y="0" transform="translate(207.40,320.00) rotate(-90)" text-anchor="middle" font-size="3.95" fill="#333" stroke="#333" stroke-width="0.15" font-family="Liberation Sans, sans-serif">Sensitivity</text>
<text x="270.05" y="377.70" text-anchor="middle" font-size="3.9" fill="#333" stroke="#333" stroke-width="0.15" font-family="Liberation Sans, sans-serif">1-Specificity</text>
<path d="M226.95 355.83L313.15 284.17" stroke="#ddd" stroke-width="0.5"/>
<path d="M226.95 355.83 L226.95 298.50 L261.43 298.50 L261.43 291.33 L278.67 291.33 L278.67 284.17 L313.15 284.17" stroke="#262626" stroke-width="1.05" fill="none" stroke-linejoin="miter"/>
<text x="296.58" y="345.50" text-anchor="middle" font-size="4.15" fill="#3366cc" stroke="#3366cc" stroke-width="0.12" font-family="Liberation Sans, sans-serif">AUC: 0.9</text>
<text x="296.58" y="350.15" text-anchor="middle" font-size="4.15" fill="#3366cc" stroke="#3366cc" stroke-width="0.12" font-family="Liberation Sans, sans-serif">95%CI:(0.784~1)</text>
<text x="296.58" y="354.80" text-anchor="middle" font-size="4.15" fill="#3366cc" stroke="#3366cc" stroke-width="0.12" font-family="Liberation Sans, sans-serif">Se: 0.8   Sp: 1</text>
<text x="0" y="0" transform="translate(323.10,316.90) rotate(90)" text-anchor="middle" font-size="6.8" font-weight="bold" fill="#222" font-family="Liberation Sans, sans-serif">TTD vs TS</text>
<rect x="389.5" y="180.5" width="93.00" height="78.00" fill="none" stroke="#808080" stroke-width="0.7"/>
<path d="M388.40 255.31V183.09" stroke="#777" stroke-width="0.4"/>
<path d="M388.40 255.31h-1.8M392.84 258.20v3.0" stroke="#666" stroke-width="0.45"/>
<text x="0" y="0" transform="translate(383.90,255.31) rotate(-90)" text-anchor="middle" font-size="4.1" fill="#3a3a3a" stroke="#3a3a3a" stroke-width="0.18" font-family="Liberation Sans, sans-serif">0.0</text>
<text x="392.84" y="267.30" text-anchor="middle" font-size="4.1" fill="#3a3a3a" stroke="#3a3a3a" stroke-width="0.18" font-family="Liberation Sans, sans-serif">0.0</text>
<path d="M388.40 240.87h-1.8M410.04 258.20v3.0" stroke="#666" stroke-width="0.45"/>
<text x="0" y="0" transform="translate(383.90,240.87) rotate(-90)" text-anchor="middle" font-size="4.1" fill="#3a3a3a" stroke="#3a3a3a" stroke-width="0.18" font-family="Liberation Sans, sans-serif">0.2</text>
<text x="410.04" y="267.30" text-anchor="middle" font-size="4.1" fill="#3a3a3a" stroke="#3a3a3a" stroke-width="0.18" font-family="Liberation Sans, sans-serif">0.2</text>
<path d="M388.40 226.42h-1.8M427.25 258.20v3.0" stroke="#666" stroke-width="0.45"/>
<text x="0" y="0" transform="translate(383.90,226.42) rotate(-90)" text-anchor="middle" font-size="4.1" fill="#3a3a3a" stroke="#3a3a3a" stroke-width="0.18" font-family="Liberation Sans, sans-serif">0.4</text>
<text x="427.25" y="267.30" text-anchor="middle" font-size="4.1" fill="#3a3a3a" stroke="#3a3a3a" stroke-width="0.18" font-family="Liberation Sans, sans-serif">0.4</text>
<path d="M388.40 211.98h-1.8M444.45 258.20v3.0" stroke="#666" stroke-width="0.45"/>
<text x="0" y="0" transform="translate(383.90,211.98) rotate(-90)" text-anchor="middle" font-size="4.1" fill="#3a3a3a" stroke="#3a3a3a" stroke-width="0.18" font-family="Liberation Sans, sans-serif">0.6</text>
<text x="444.45" y="267.30" text-anchor="middle" font-size="4.1" fill="#3a3a3a" stroke="#3a3a3a" stroke-width="0.18" font-family="Liberation Sans, sans-serif">0.6</text>
<path d="M388.40 197.53h-1.8M461.66 258.20v3.0" stroke="#666" stroke-width="0.45"/>
<text x="0" y="0" transform="translate(383.90,197.53) rotate(-90)" text-anchor="middle" font-size="4.1" fill="#3a3a3a" stroke="#3a3a3a" stroke-width="0.18" font-family="Liberation Sans, sans-serif">0.8</text>
<text x="461.66" y="267.30" text-anchor="middle" font-size="4.1" fill="#3a3a3a" stroke="#3a3a3a" stroke-width="0.18" font-family="Liberation Sans, sans-serif">0.8</text>
<path d="M388.40 183.09h-1.8M478.86 258.20v3.0" stroke="#666" stroke-width="0.45"/>
<text x="0" y="0" transform="translate(383.90,183.09) rotate(-90)" text-anchor="middle" font-size="4.1" fill="#3a3a3a" stroke="#3a3a3a" stroke-width="0.18" font-family="Liberation Sans, sans-serif">1.0</text>
<text x="478.86" y="267.30" text-anchor="middle" font-size="4.1" fill="#3a3a3a" stroke="#3a3a3a" stroke-width="0.18" font-family="Liberation Sans, sans-serif">1.0</text>
<text x="0" y="0" transform="translate(373.30,219.20) rotate(-90)" text-anchor="middle" font-size="3.95" fill="#333" stroke="#333" stroke-width="0.15" font-family="Liberation Sans, sans-serif">Sensitivity</text>
<text x="435.85" y="277.20" text-anchor="middle" font-size="3.9" fill="#333" stroke="#333" stroke-width="0.15" font-family="Liberation Sans, sans-serif">1-Specificity</text>
<path d="M392.84 255.31L478.86 183.09" stroke="#ddd" stroke-width="0.5"/>
<path d="M392.84 255.31 L427.25 190.31 L435.85 190.31 L435.85 183.09 L478.86 183.09" stroke="#262626" stroke-width="1.05" fill="none" stroke-linejoin="miter"/>
<text x="461.40" y="244.50" text-anchor="middle" font-size="4.2" fill="#3366cc" stroke="#3366cc" stroke-width="0.12" font-family="Liberation Sans, sans-serif">AUC: 0.77</text>
<text x="461.40" y="249.25" text-anchor="middle" font-size="4.2" fill="#3366cc" stroke="#3366cc" stroke-width="0.12" font-family="Liberation Sans, sans-serif">95%CI:(0.588~0.952)</text>
<text x="461.40" y="254.00" text-anchor="middle" font-size="4.2" fill="#3366cc" stroke="#3366cc" stroke-width="0.12" font-family="Liberation Sans, sans-serif">Se: 1   Sp: 0.5</text>
<text x="0" y="0" transform="translate(487.40,218.10) rotate(90)" text-anchor="middle" font-size="6.4" font-weight="bold" fill="#222" font-family="Liberation Sans, sans-serif">TTD vs CTD</text>
<rect x="389.5" y="283.5" width="93.00" height="78.00" fill="none" stroke="#808080" stroke-width="0.7"/>
<path d="M388.40 358.70V286.20" stroke="#777" stroke-width="0.4"/>
<path d="M388.40 358.70h-1.8M392.84 361.60v3.0" stroke="#666" stroke-width="0.45"/>
<text x="0" y="0" transform="translate(383.90,358.70) rotate(-90)" text-anchor="middle" font-size="4.1" fill="#3a3a3a" stroke="#3a3a3a" stroke-width="0.18" font-family="Liberation Sans, sans-serif">0.0</text>
<text x="392.84" y="370.70" text-anchor="middle" font-size="4.1" fill="#3a3a3a" stroke="#3a3a3a" stroke-width="0.18" font-family="Liberation Sans, sans-serif">0.0</text>
<path d="M388.40 344.20h-1.8M410.04 361.60v3.0" stroke="#666" stroke-width="0.45"/>
<text x="0" y="0" transform="translate(383.90,344.20) rotate(-90)" text-anchor="middle" font-size="4.1" fill="#3a3a3a" stroke="#3a3a3a" stroke-width="0.18" font-family="Liberation Sans, sans-serif">0.2</text>
<text x="410.04" y="370.70" text-anchor="middle" font-size="4.1" fill="#3a3a3a" stroke="#3a3a3a" stroke-width="0.18" font-family="Liberation Sans, sans-serif">0.2</text>
<path d="M388.40 329.70h-1.8M427.25 361.60v3.0" stroke="#666" stroke-width="0.45"/>
<text x="0" y="0" transform="translate(383.90,329.70) rotate(-90)" text-anchor="middle" font-size="4.1" fill="#3a3a3a" stroke="#3a3a3a" stroke-width="0.18" font-family="Liberation Sans, sans-serif">0.4</text>
<text x="427.25" y="370.70" text-anchor="middle" font-size="4.1" fill="#3a3a3a" stroke="#3a3a3a" stroke-width="0.18" font-family="Liberation Sans, sans-serif">0.4</text>
<path d="M388.40 315.20h-1.8M444.45 361.60v3.0" stroke="#666" stroke-width="0.45"/>
<text x="0" y="0" transform="translate(383.90,315.20) rotate(-90)" text-anchor="middle" font-size="4.1" fill="#3a3a3a" stroke="#3a3a3a" stroke-width="0.18" font-family="Liberation Sans, sans-serif">0.6</text>
<text x="444.45" y="370.70" text-anchor="middle" font-size="4.1" fill="#3a3a3a" stroke="#3a3a3a" stroke-width="0.18" font-family="Liberation Sans, sans-serif">0.6</text>
<path d="M388.40 300.70h-1.8M461.66 361.60v3.0" stroke="#666" stroke-width="0.45"/>
<text x="0" y="0" transform="translate(383.90,300.70) rotate(-90)" text-anchor="middle" font-size="4.1" fill="#3a3a3a" stroke="#3a3a3a" stroke-width="0.18" font-family="Liberation Sans, sans-serif">0.8</text>
<text x="461.66" y="370.70" text-anchor="middle" font-size="4.1" fill="#3a3a3a" stroke="#3a3a3a" stroke-width="0.18" font-family="Liberation Sans, sans-serif">0.8</text>
<path d="M388.40 286.20h-1.8M478.86 361.60v3.0" stroke="#666" stroke-width="0.45"/>
<text x="0" y="0" transform="translate(383.90,286.20) rotate(-90)" text-anchor="middle" font-size="4.1" fill="#3a3a3a" stroke="#3a3a3a" stroke-width="0.18" font-family="Liberation Sans, sans-serif">1.0</text>
<text x="478.86" y="370.70" text-anchor="middle" font-size="4.1" fill="#3a3a3a" stroke="#3a3a3a" stroke-width="0.18" font-family="Liberation Sans, sans-serif">1.0</text>
<text x="0" y="0" transform="translate(373.30,322.45) rotate(-90)" text-anchor="middle" font-size="3.95" fill="#333" stroke="#333" stroke-width="0.15" font-family="Liberation Sans, sans-serif">Sensitivity</text>
<text x="435.85" y="380.60" text-anchor="middle" font-size="3.9" fill="#333" stroke="#333" stroke-width="0.15" font-family="Liberation Sans, sans-serif">1-Specificity</text>
<path d="M392.84 358.70L478.86 286.20" stroke="#ddd" stroke-width="0.5"/>
<path d="M392.84 358.70 L427.25 286.20 L478.86 286.20" stroke="#262626" stroke-width="1.05" fill="none" stroke-linejoin="miter"/>
<text x="461.40" y="347.50" text-anchor="middle" font-size="4.2" fill="#3366cc" stroke="#3366cc" stroke-width="0.12" font-family="Liberation Sans, sans-serif">AUC: 0.8</text>
<text x="461.40" y="352.40" text-anchor="middle" font-size="4.2" fill="#3366cc" stroke="#3366cc" stroke-width="0.12" font-family="Liberation Sans, sans-serif">95%CI:(0.64~0.96)</text>
<text x="461.40" y="357.30" text-anchor="middle" font-size="4.2" fill="#3366cc" stroke="#3366cc" stroke-width="0.12" font-family="Liberation Sans, sans-serif">Se: 1   Sp: 0.6</text>
<text x="0" y="0" transform="translate(488.00,317.80) rotate(90)" text-anchor="middle" font-size="6.4" font-weight="bold" fill="#222" font-family="Liberation Sans, sans-serif">TTD vs TS</text>
<path d="M162.6 221.6V313" stroke="#777" stroke-width="0.8"/>
<text x="0" y="0" transform="translate(169.0,255.6) rotate(90) scale(1,1.0)" text-anchor="middle" font-size="8.05" font-weight="bold" fill="#222" font-family="Liberation Sans, sans-serif">hsa-miR-365b-3p</text>
<path d="M332.4 218V308.8" stroke="#777" stroke-width="0.8"/>
<text x="0" y="0" transform="translate(338.8,252.5) rotate(90) scale(1,1.0)" text-anchor="middle" font-size="8.36" font-weight="bold" fill="#222" font-family="Liberation Sans, sans-serif">hsa-miR-485b-5p</text>
<path d="M496.6 219.0V310.7" stroke="#777" stroke-width="0.8"/>
<text x="0" y="0" transform="translate(503.4,252.7) rotate(90) scale(1,1.0)" text-anchor="middle" font-size="8.0" font-weight="bold" fill="#222" font-family="Liberation Sans, sans-serif">hsa-miR-6882-5p</text>
</svg>
</body></html>
